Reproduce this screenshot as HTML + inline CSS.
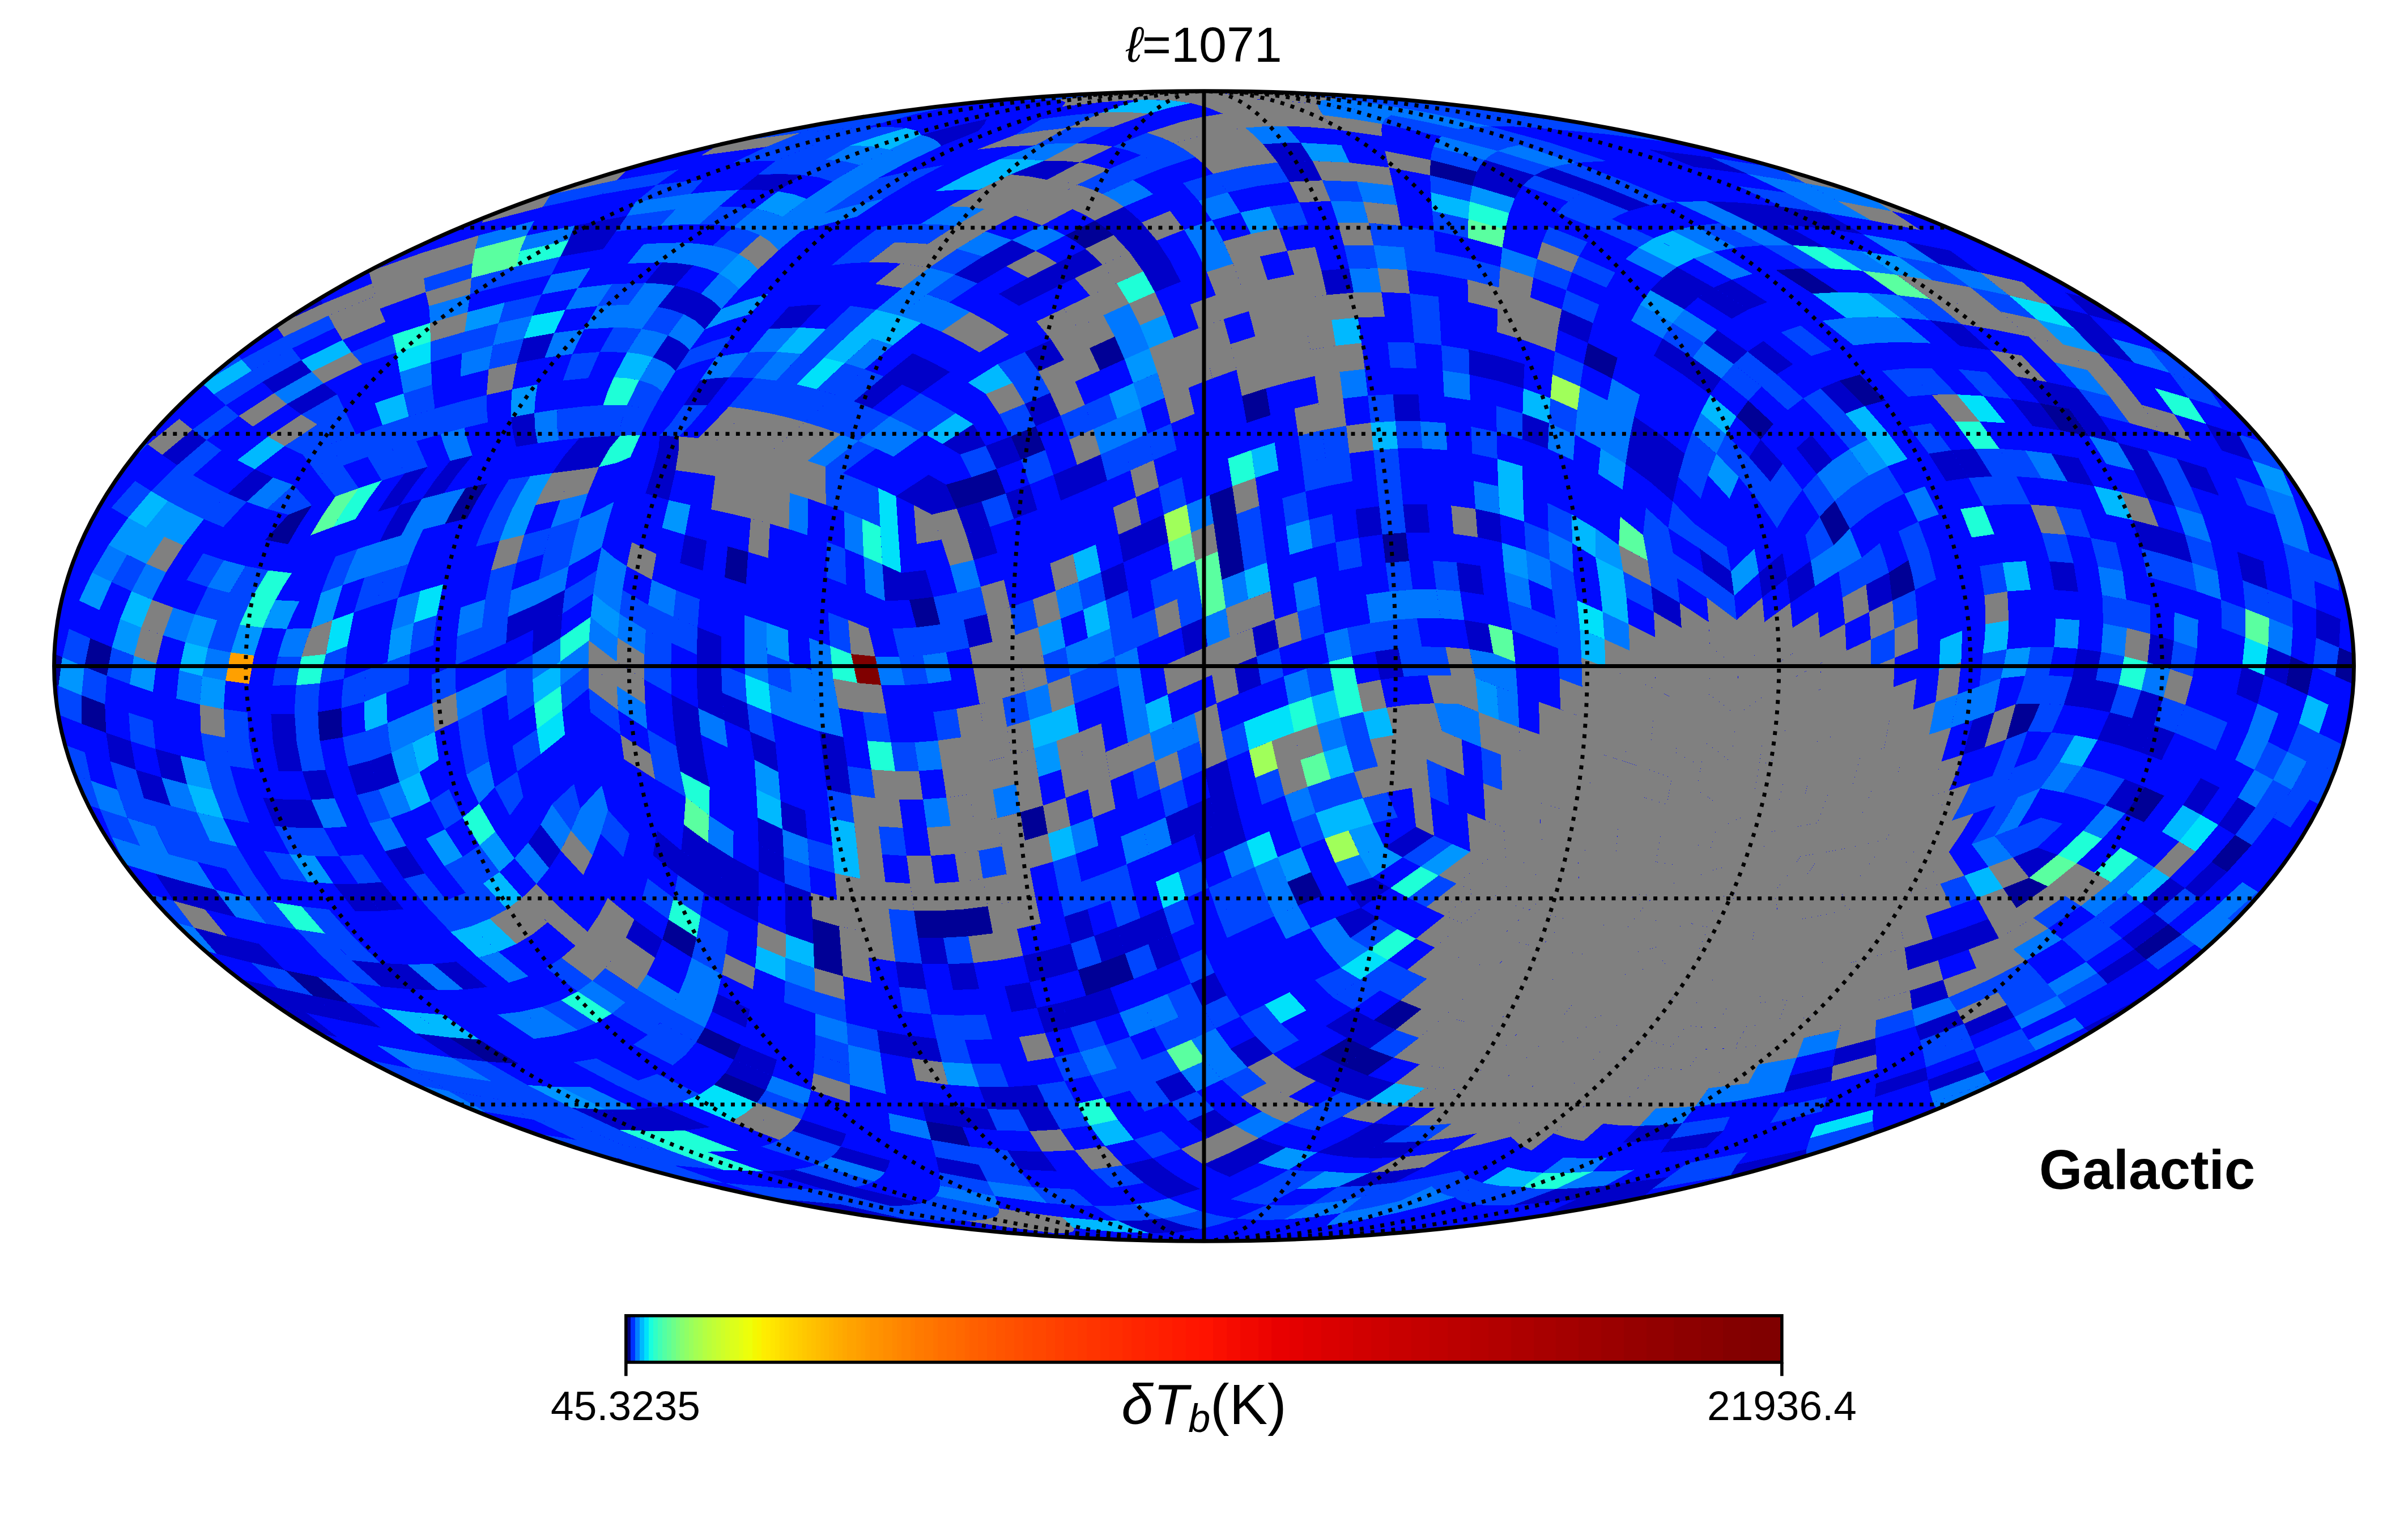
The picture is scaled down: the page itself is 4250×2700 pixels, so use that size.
<!DOCTYPE html><html><head><meta charset="utf-8"><style>html,body{margin:0;padding:0;background:#fff}svg{display:block}</style></head><body>
<svg xmlns="http://www.w3.org/2000/svg" width="4250" height="2700" viewBox="0 0 4250 2700">
<rect width="4250" height="2700" fill="#fff"/>
<defs><clipPath id="ec"><ellipse cx="2125.0" cy="1175.5" rx="2029.5" ry="1014.75"/></clipPath></defs>
<g clip-path="url(#ec)" shape-rendering="crispEdges">
<ellipse cx="2125.0" cy="1175.5" rx="2034.5" ry="1019.75" fill="rgb(0, 10, 255)"/>
<path fill="#0046ff" d="M573.9 1647.6l46.7 47.2l-52.7 -7.5l-45.1 -47.3zM623.1 1652.7l47.9 46.9l-50.4 -4.9l-46.7 -47.2zM580.5 1605l42.7 47.8l-49.3 -5.2l-41.4 -48zM787.9 1588.6l43.4 46.1l-36 10l-43.9 -46.5zM821.7 1575.5l42.6 45.8l-33.1 13.4l-43.4 -46.1zM853 1558.9l41.5 45.5l-30.2 16.9l-42.6 -45.8zM1013 1383.2l11.1 43.7l-16.4 39l-33.5 -46.6zM749.7 1541.3l38.2 47.3l-36.5 9.6l-38.6 -47.5zM816.5 1511.9l36.5 47l-31.3 16.6l-37.4 -47.1zM846.4 1491.6l35.3 47l-28.7 20.3l-36.5 -47zM511.2 1507.4l31.9 49.1l-47 -5.5l-30.8 -49.3zM640.1 1508.1l33.3 48.6l-41.4 2.9l-33.2 -48.8zM913 1361.6l10.7 45.1l-23.8 32.5l-26.7 -49.9zM528.7 1461l27.1 49.5l-44.6 -3.1l-26.4 -49.6zM571.3 1461.4l27.6 49.4l-43.1 -0.3l-27.1 -49.5zM792.3 1392.7l24.2 50.3l-31.2 20.5l-25.5 -49.7zM947.5 1286.9l6.8 44l-41.3 30.6l-8.5 -45.1zM420 1402.1l19.9 50l-45.8 -8l-18.8 -50.1zM668.4 1393.4l21.3 50.2l-37.8 9.3l-21.7 -50zM855.5 1296.5l7.6 46.4l-40 24.2l-8.8 -47.7zM1038.4 1172.1l0.8 42.2l-46.9 39.1l-2.8 -42.9zM405.8 1351.9l14.2 50.2l-44.6 -8.1l-13.2 -50.2zM850.4 1249.8l5.2 46.7l-41.3 22.9l-6.2 -48.1zM940.2 1199.2l2.6 43.8l-44.6 28.3l-3.9 -45.2zM397.3 1301.6l8.5 50.3l-43.6 -8.1l-7.6 -50.3zM439.8 1307.3l9.2 50.4l-43.2 -5.9l-8.5 -50.3zM564.7 1307.7l9.8 50.8l-41 2.7l-9.9 -50.5zM644.8 1290.8l3.4 25.9l5.1 25.8l-38.8 9.8l-5.5 -25.5l-3.9 -25.6zM683.7 1276.1l2.8 26.3l4.5 26.1l-37.7 13.9l-5.1 -25.7l-3.4 -25.9zM939.7 1155.4l0.5 43.8l-45.9 26.9l-1.7 -45.4zM436.5 1257l3.2 50.3l-42.5 -5.7l-2.6 -50.3zM561.4 1256.7l0.9 25.5l2.4 25.5l-41 3l-3.7 -50.7zM804 1173.5l0.6 49.3l-41.6 18.5l-1 -50.8zM564.8 1205.6l-2.5 25.6l-0.9 25.5l-41.3 3.3l0.6 -25.3l2.2 -25.3zM644.9 1183l-1.8 55.6l-40.7 11.1l1.3 -25.9l3 -25.9zM683.9 1168.3l-2 54.5l-38.7 15.8l1.8 -55.6zM723.6 1153.6l-2.3 53.2l-39.5 16l2 -54.5zM850.5 1106.9l-2.8 48.3l-43.6 18.2l2.6 -50.1zM896.4 1088.7l-3.2 46.2l-45.5 20.3l2.8 -48.3zM1053.6 1006.3l-6.5 41l-54.7 35.9l4.7 -42.1l27.6 -16zM532.4 1158.9l-5.6 25.2l-3.9 25.3l-41.8 0.3l3.7 -25.1l5.4 -25zM613 1140l-6.2 57.8l-42 7.7l4.2 -25.5l6.1 -25.5zM771 1085.7l-6.5 53l-40.8 14.9l6.5 -54.5zM902.4 1041.8l-6 47l-45.9 18.2l6.1 -49.3zM423 1102.3l-15.6 49.2l-40.6 -8l16.1 -49.1zM911.7 993.7l-9.3 48.1l-45.8 15.9l10 -50.6zM1012.5 956.9l-8.7 42.2l-52.7 23.9l8.7 -45.2zM445 1053.9l-22 48.4l-40.1 -7.9l22.2 -48.3zM681.7 1007.2l-18.4 60.3l-38.5 13.1l18.4 -61.1zM720.5 995.7l-18.3 59.3l-38.9 12.6l18.4 -60.4zM971.9 931.4l-12.1 46.4l-48.2 15.8l13.7 -49.8zM1023.6 914.4l-11.1 42.6l-52.6 20.9l12.1 -46.4zM473.4 1006.5l-28.4 47.4l-39.8 -7.8l28.4 -47.3zM631 968.8l-14.1 32.1l-12 31.6l-38.1 13.8l11.7 -31.8l13.9 -32.4zM903.7 899.1l-12.1 28.1l-9.9 27.2l-41.8 10l10.8 -28.4l13 -29.1zM936.3 840.1l-17.9 30l-14.7 29l-40 7.8l15.6 -29.9l18.9 -30.8zM390.8 794.6l-50 43.9l-28 -17.7l51.7 -44.3zM550.6 891.8l-41.6 16.6l-38 -10.3l46.7 -42.5zM3892.1 676.7l30.1 43.9l-59.4 -18.2l-33.4 -44.3zM421.5 734.1l-57 42.5l-24.8 -18.6l59 -43zM3860.5 634.5l31.6 42.2l-62.7 -18.7l-35.4 -42.7zM426.4 634.5l-69.1 42.2l-19.5 -18.7l71.7 -42.7zM462.9 674.1l-64.2 40.9l-21.2 -19.2l66.5 -41.6zM581.6 783.9l-47 18.5l-32.2 -15.2l57.9 -38.2zM605.3 821.6l-43.8 16.5l-27 -35.7l47 -18.5zM633.1 861.6l-41.2 14.6l-30.4 -38l43.8 -16.6zM3545.9 521.4l49.2 42.4l-64.7 -14.1l-53 -42.8zM515.6 614.9l-71.5 39.3l-17.6 -19.7l74.4 -40zM531.8 635.6l-68.9 38.5l-18.8 -19.8l71.5 -39.4zM610.9 729.6l-50.7 19.4l-28.4 -17.4l63.1 -35.9zM628.4 766.5l-46.8 17.4l-21.4 -34.9l50.7 -19.4zM648.9 806.2l-43.5 15.5l-23.8 -37.7l46.8 -17.4zM3421.4 465.7l56 41.2l-66.3 -12.3l-60.2 -41.5zM591.3 578.3l-75.8 36.6l-14.7 -20.4l79.1 -37.6zM692.1 791.8l-43.2 14.4l-20.5 -39.6l46.7 -16.3zM714.6 835.4l-40.6 12.6l-25.1 -41.8l43.2 -14.4zM699.4 622.2l-60.3 20.8l-18.8 -21.4l72.7 -30.6zM734.9 778.5l-42.9 13.3l-17 -41.5l46.4 -15.1zM754.8 823.8l-40.2 11.5l-22.5 -43.6l42.9 -13.3zM767.5 721.2l-46.1 13.9l-9.3 -40.6l50.3 -15.7zM777.4 766.3l-42.5 12.2l-13.5 -43.3l46.1 -13.9zM3152.6 339.8l68.3 35.6l-77.1 -10.7l-75.6 -36.2zM831.8 490.8l-80.6 24.7l-3.1 -24.3l85.8 -26.6zM815.4 623.6l-55 15.8l-0.6 -36.3l60.3 -17.5zM819.5 755.2l-42.1 11.1l-9.9 -45l45.8 -12.8zM901.9 500.5l-72.2 18.6l2.1 -28.3l79.4 -20.5zM870.1 609.5l-54.7 14.1l4.7 -38l60 -15.4zM861.1 745.2l-41.6 9.9l-6.2 -46.6l45.4 -11.4l0.3 23.7zM3136.9 296.1l49.6 27.2l-102.2 -16.3l-65.2 -29.3zM1062.3 342.6l-104.2 22.6l14 -22.2l116 -25zM973 484.8l-71.1 15.7l9.3 -30.3l78.1 -17.3zM939.4 557.1l-59.4 13.1l11.1 -36.3l64.9 -14.3zM912 640.7l-49.6 11.1l7.7 -42.3l54.3 -12.1zM1158.8 326.3l-96.5 16.4l25.7 -24.6l110.2 -19.2zM2931.9 234.6l11.8 8.3l20.1 10.1l-131.9 -16.5l-64.3 -22zM1412.2 234.6l-139.4 18.4l13.1 -8.9l8.1 -7.6l170.5 -22zM1218.9 341.9l-96.5 14.1l36.4 -29.7l43.4 -5.4l39.1 -3.3zM1164.7 398.8l-77.9 9.9l19.8 -27.9l86.1 -11.7zM1527.3 224.8l-53.1 3.6l-61.9 6.2l52.3 -20.1l81.4 -8.2l72.7 -5.7zM2946.3 224.8l-9.4 1.5l-5.3 2.1l-1.5 2.8l1.8 3.4l-164.3 -20.1l-19.3 -8.2l-4 -3.2l1 -2.5zM1443.5 252.8l-41.6 2l-49.1 4.3l59.4 -24.5l61.9 -6.1l53.1 -3.7zM1369.1 283.8l-34 0.4l-40.4 2.7l58.1 -27.8l49.1 -4.4l41.6 -2zM1109.5 537.6l-54.8 2.3l25.8 -38.6l57.8 -1.9zM1038.2 667.2l-44.7 4.5l16.6 -47l48.5 -3.8zM1022.9 773.2l-36.7 3.9l-3.4 -27.5l0.9 -26.9l40.3 -4.8l-3 27.1zM1500.9 256.6l-24.3 -3.2l-33 -0.6l83.7 -28l42 -0.9l29.8 2l-51 14.9zM1458.1 281.5l-41 -0.3l-48 2.7l74.4 -31.1l33.1 0.6l24.3 3.2zM1415.1 308.6l-35.8 -1.6l-41.3 1.1l31.1 -24.3l48 -2.6l41 0.2zM1294.4 400.3l-28.4 -3.5l-31.2 -1.3l34.4 -31.1l33.6 0.8l30 3.1zM1106.5 621.8l-47.8 -0.8l24.1 -43l25.2 0.5l24.6 2.1zM1059 770.3l-36.2 2.8l-1.8 -28.1l3 -27.2l40.6 -3l-5.6 26.9l-1 14.1zM1469 320.5l-24 -7.5l-30 -4.4l43.1 -27.2l33.5 3.4l26.1 6.6zM1304.3 448.5l-21.7 -8.8l-24.6 -6.1l36.4 -33.3l25.2 6l21.8 8.7zM1178.8 591.7l-22.5 -6.9l-23.7 -4.2l28.3 -39.1l23.9 5.1l22.2 7.8zM1094.6 768.6l-35.6 1.7l-1 -14.5l1 -14.1l5.6 -26.9l41.8 0.4l-10.4 31.8l-1.7 14.2zM1148.7 729.7l-4.7 -4.1l-10.5 -5.2l-10.9 -3l-16.2 -2.2l21.8 -44.4l21.9 7.2l10.2 5.8l9.3 8zM1129.7 768.1l-35.1 0.6l-0.3 -7.4l1.8 -14.2l10.3 -31.8l16.2 2.2l10.9 3l10.5 5.2l4.7 4.1zM2141.2 306.6l55.4 -12.4l23.8 33.9l-53.2 11.3zM1791.6 238l46.6 -28l55 -7.2l51.2 -4.2l-59.9 27.1l-45.1 4.8zM2087.6 323l53.6 -16.4l25.9 32.8l-51.6 14.9zM2013.7 273.8l58.1 -21.2l20.1 11.7l18 13l-55.7 18.5l-19.2 -11.8zM1963.9 258.8l60.2 -24.5l25.3 8.3l22.4 10.1l-58 21.1l-23.6 -8.5zM1827 256.4l57.5 -30.7l41.3 -2l37 0.9l-60.8 27.9l-35.9 0.7zM1957.3 298.5l56.5 -24.7l21.2 10.3l19.3 11.7l-54.4 21.9l-20.3 -10.4zM1901.6 325.9l55.7 -27.4l22.3 8.7l20.3 10.4l-53.7 24.6l-21.3 -9zM1500.5 344.9l49 -30.3l59.5 -13.3l55.9 -10l-54.9 29.1l-53.2 10.7zM1455.2 376.3l45.3 -31.4l56.3 -13.8l53.1 -10.6l-50.5 30.4l-50.6 11.1zM1577.8 428.2l47 -32.9l32 0.7l29.6 2.6l-49.2 32l-28.6 -2zM1508.9 433.5l44 -33.3l37.4 -3.6l34.5 -1.3l-47 32.9l-33.2 1.6zM1914.7 714.5l42.8 -19.2l14.1 43.4l-42.1 18.8zM1640.2 472.4l48.9 -33.3l45.8 13.4l-50.1 32zM1467.6 468.1l41.3 -34.6l35.7 -3.7l33.2 -1.6l-44.6 34.6l-31.6 1.6zM1871.6 733.6l43 -19.1l14.9 43l-42.2 18.5zM1635.8 519.2l49 -34.8l40.6 15.7l-50.1 33.3zM1786.9 675.9l46 -20.2l20.7 37.7l-44.5 19.3zM1761 642.6l47.8 -21.4l24.1 34.5l-46 20.2zM1802 811.4l42.8 -17.3l14.5 43.8l-41.9 17zM1763.9 731.2l45.2 -18.5l19.1 39.6l-43.9 17.8zM1457.7 580.7l43.2 -41l45.3 6.8l-45.9 40.9zM1414.4 624.5l43.3 -43.8l42.5 6.7l-46.2 43.9zM1192.4 654.5l24.8 -36.9l39.8 -15.4l36.2 -10.5l-29 38.6l-33.8 9.3zM1694.4 802l45.4 -15.2l18.9 40.9l-44 14.7zM1601.7 749.9l54 -38.9l31.1 18.2l-54.2 36.9zM1570.6 734.8l53.7 -40.7l31.4 16.9l-54 38.9zM1474.6 696.8l51.4 -45.3l33.7 12.7l-52.5 44zM1441.1 686.8l49.9 -46.4l35 11.1l-51.4 45.3zM1369.8 671.6l44.7 -47.1l39.5 6.8l-47.7 47zM1287.1 665.9l34.9 -44.2l49 -0.9l-40.5 46.3zM1483.8 766l55.3 -45.1l31.4 14l-55.5 43.3zM1452.4 754.9l54.8 -46.7l31.9 12.7l-55.2 45.1zM1420.6 745l54 -48.2l32.6 11.4l-54.8 46.7zM1388.2 736.3l52.8 -49.4l33.5 10l-54 48.1zM1355.3 728.7l51 -50.4l34.8 8.5l-52.8 49.4zM1321.4 722.5l48.4 -50.9l36.5 6.7l-51 50.4zM1286.2 717.7l44.4 -50.6l39.2 4.5l-48.4 50.9zM1456.6 823.5l58.4 -45.4l31 13.3l-58.2 43.6zM1164.3 768.6l19.5 -21.6l22.8 -31.8l42.2 -0.5l-29 34l-21.5 21.6zM1726.9 1501.3l41.3 -8l8.3 49.3l-41.6 7.9zM1659.4 1101.8l41.4 -7.9l10.2 49.1l-41 8zM1647.5 1053.4l42 -7.8l11.4 48.3l-41.4 7.9zM1647.3 1256.5l41 -5.7l8.1 50.3l-40.9 5.7zM1617.6 1107.1l41.8 -5.3l10.6 49.2l-41.4 5.4zM1665 1654.8l44.1 -2.5l9.2 46.9l-45 2.3zM1586.9 1159.1l41.8 -2.6l9.8 49.8l-41.5 2.9zM1575.3 1109.5l42.3 -2.3l11 49.3l-41.8 2.6zM1572.5 1310.3l41.6 -0.2l7.6 50.4l-41.7 0.4zM1519 847.6l31.2 13.6l3.3 68.2l-31.9 -13.8zM1574.3 1651l45.7 3.4l7.3 46.3l-46.9 -3.9zM1568.4 1604.2l44.7 3.1l6.9 47.2l-45.7 -3.4zM1550.9 1458.4l42.7 2.6l6.5 49.4l-43.3 -2.7zM1522.4 1256.3l42 3.3l8.2 50.7l-42 -3zM1487.8 835.1l31.2 12.6l2.6 67.9l-31.9 -12.8zM1495.6 1352l42.3 6.1l6.7 50.5l-42.6 -6zM1461.5 1080.3l35.5 13.7l5.1 60.1l-37 -14.4zM1458.5 956l32.9 12.4l2.2 63.7l-34.1 -13zM1456.6 823.5l31.2 11.5l2 67.7l-31.9 -11.9zM1459.2 1393.1l42.8 9.5l5.8 50l-43.3 -9.3zM1425 1479.8l44.1 12.8l4.3 48.4l-45 -12.9zM1383.3 1511.7l45 16.5l2.9 47.1l-46.2 -16.6zM1353.7 1153.3l39.3 14.6l4.4 54.5l-40.9 -15.9zM1318.3 1241.1l43 17.6l7.1 51.3l-44.7 -18.9zM1272.8 1173.3l42.2 17l3.4 50.8l-43.8 -18.5zM1188.3 1088.6l42.9 18.2l-1.6 48.3l-44.3 -20.3zM1193.3 1041.6l41.5 15.9l-3.6 49.2l-42.9 -18.1zM1148.3 1330.8l52.5 30.6l9.6 45.1l-54.2 -31.6zM1142.5 1286.9l50.9 29.5l7.4 45.1l-52.5 -30.6zM1137.5 1155.3l46.7 25.2l1 45.4l-48 -26.8zM1139.8 1111.5l45.5 23.4l-1.1 45.7l-46.7 -25.2zM1144.1 1067.4l44.2 21.2l-3 46.2l-45.5 -23.3zM1098.8 1041.1l45.3 26.3l-4.3 44.1l-46.4 -28.3zM1039.2 1214.3l51.7 39l4.3 43.1l-53.3 -39.6zM2052.4 2150.2l33.2 -5.8l30.5 -7.8l31 8.1l34.9 5.7l-30.1 10.2l-33.3 8.3l-35.6 -8.3zM1926.1 2064.2l56.1 -7.8l36.9 31l-28.6 5.1l-30.1 3.7zM1849.8 1954.8l49.9 -6.8l23.7 38.3l-51.7 6.9zM1830.6 1914.7l48.3 -6.8l20.8 40.1l-49.9 6.8zM1930.5 2128.2l36.9 -0.5l34.2 -2.6l23.9 13.1l26.9 11.9l-36.9 3.5l-41.9 0.8l-22.7 -12.7zM1822.2 2094.9l72.9 3.9l35.4 29.4l-40 -1.5l-42.7 -3.5zM1742.9 1957.2l54.7 0.7l19.6 38.2l-57.7 -1.4zM1714.8 1877.4l50.3 -0.5l15.3 41.3l-52.3 -0.1zM1692 1791.8l47.2 -1.4l12.2 43.8l-48.6 1zM1727.4 2055.3l71.6 8.5l23.2 31.1l-79.9 -10.3zM1712.6 2023.3l65.5 7l20.8 33.5l-71.5 -8.5zM1652.7 1832.9l50.1 2.3l12 42.2l-52.1 -3.1zM1643.5 1790.1l48.5 1.7l10.8 43.5l-50.1 -2.4zM1572.9 2128.4l64.2 13.5l68.6 12.7l-47.7 -0.8l-63.2 -3.4l-110.5 -25l48.7 2.5zM1626.2 2123.3l62.7 12.8l65.8 11.8l-17.6 4.7l-31.4 2l-68.7 -12.6l-64.2 -13.5l30.9 -1.6zM1651.3 2110.7l112.1 21.6l-1.1 8.7l-2.8 3.7l-4.8 3.2l-65.8 -11.8l-62.7 -12.8l15.4 -5.5zM1657.6 2068.7l84.7 15.9l13.4 26l-96.6 -18.6zM1643.5 2011.5l69.1 11.8l14.8 32l-75.8 -13.6zM1586.9 1741.6l48.2 4.4l8.4 44.1l-49.8 -5.1zM1377.3 2096.5l107.1 29l-119.1 -10.6l-86.3 -27.2zM1454.7 2099.1l118.2 29.4l-39.9 -0.5l-48.7 -2.5l-107.1 -29zM1440.7 2055.5l102.5 29.3l-14.7 5.9l-19.3 4.4l-107.7 -31.1l21.4 -3.6zM1494 1805l54.1 12.8l5.3 39.6l-56.7 -13.9zM1181.4 2030.1l94.8 34.4l-85.7 -7.7l-86.6 -33.9zM1375.5 2011.6l91.5 30.1l-11.7 7.5l-14.6 6.2l-96.7 -32l17 -5.3zM1398.2 1995.4l85.5 28l-7.3 9.7l-9.4 8.7l-91.5 -30.1l12.3 -7.6zM1438.1 1861.1l60.7 18.8l1.4 34.3l-64.4 -20.3zM1439.1 1825.9l57.6 17.5l2.2 36.4l-60.8 -18.8zM1438.5 1749.3l52.5 15.3l3 40.3l-54.8 -16.3zM1092.5 1993.5l88.9 36.5l-77.5 -7.2l-83 -36.2zM1351.5 1924l73.2 27.2l-10.7 23.9l-78 -29zM1385.6 1730.6l52.9 18.8l0.6 39.3l-55.2 -19.8zM1009.2 1955.1l83.2 38.4l-71.6 -6.9l-78.8 -38.3zM931.4 1915l77.8 40.1l-67.2 -6.8l-74.3 -40.1zM1126.5 1906.8l78.5 37.1l-37.6 8.8l-80.1 -38.2zM1159.7 1895.3l76 35.7l-30.7 12.9l-78.5 -37.1zM858.9 1873.5l72.5 41.6l-63.8 -6.8l-69.6 -41.7zM1052.7 1867.9l73.8 38.9l-39.2 7.7l-75 -39.9zM1143.4 1826.1l66.8 35.1l-22.8 18.8l-69.5 -36.4zM1164.9 1805.2l64 33.8l-18.7 22.2l-66.8 -35.1zM1182.9 1780.9l61.2 32.5l-15.2 25.5l-64 -33.8zM1229.5 1654.4l51.2 28.6l-6.4 36.5l-53.4 -29.3zM1236.5 1616.1l49.2 28.1l-5 38.8l-51.2 -28.6zM1103.6 1769l61.3 36.1l-21.6 21l-63.6 -37.3zM1124.1 1745.9l58.8 35l-18 24.2l-61.3 -36.1zM1196.2 1544.1l45.9 31.2l-5.7 40.8l-47.6 -31.4zM990.2 1764.9l61.8 40.3l-31.9 12.8l-63.3 -41.2zM1068.2 1708.6l55.9 37.4l-20.5 23.1l-58 -38.3zM1143.2 1550.1l45.6 34.6l-8.9 37.9l-47.6 -34.7zM991.1 1690.4l54.5 40.3l-25.9 18.8l-56.2 -41.1zM620.6 1694.8l51.9 46.3l-54.4 -7.3l-50.2 -46.5zM1073.1 1429.5l38.1 41.8l-11 41.1l-39.9 -41.1zM306.4 1589.8l36.1 47.2l-58 -16.3l-33.4 -47zM4011.7 1589.8l-54.3 47.2l-25.4 -16.3l52.6 -47zM3713.3 1362.9l-33.5 46l-38.3 -10.2l33.4 -46zM3750.2 1375.1l-34 46.2l-36.4 -12.4l33.4 -46zM482.8 1591.9l40 48.1l-52.7 -9.9l-38.2 -48.1zM4012 1442.9l-37.8 48.5l-29.2 -17.8l36.2 -48.4zM447.9 1543.1l34.8 48.8l-50.9 -10l-33.2 -48.8zM4044.3 1393.7l-32.4 49.2l-30.7 -17.7l30.7 -49.1zM4076.3 1411l-34 49.3l-30.3 -17.4l32.4 -49.2zM224.8 1443.5l22.5 49.4l-50.6 -16l-20.5 -49.3zM322.2 1471.8l26.4 49.4l-50.5 -13.5l-24.5 -49.4zM370.5 1483.7l28.1 49.4l-50.1 -11.9l-26.4 -49.4zM418.3 1493.8l29.6 49.3l-49.3 -10l-28.1 -49.4zM3779.4 1218.2l-16.4 49.1l-39.2 -10.2l15.7 -49.1zM3857 1244l-18.3 49.2l-37.4 -13.8l17.3 -49.1zM3894.7 1259l-19.5 49.2l-36.4 -15l18.3 -49.2zM3931.5 1275l-20.9 49.3l-35.4 -16.1l19.5 -49.2zM4037.4 1326.5l-25.4 49.6l-33 -17.6l23.8 -49.5zM4104.9 1361.2l-28.6 49.8l-31.9 -17.3l27 -49.7zM160.6 1377.9l15.7 49.8l-48.3 -16.7l-13.6 -49.8zM4138.1 1377.9l-30.1 49.8l-31.7 -16.7l28.6 -49.8zM254.1 1408.5l19.5 49.8l-48.7 -14.8l-17.6 -49.8zM301 1422l21.2 49.8l-48.6 -13.5l-19.5 -49.8zM347.7 1433.9l22.8 49.8l-48.3 -11.9l-21.3 -49.8zM4093.1 1293.9l-21.8 50.1l-33.9 -17.5l20.1 -50zM4128.2 1311.1l-23.4 50.1l-33.5 -17.2l21.8 -50.1zM149.9 1327.7l10.7 50.1l-46.2 -16.6l-8.8 -50.1zM4163 1327.7l-24.9 50.1l-33.2 -16.6l23.3 -50.1zM239.8 1358.4l14.3 50.1l-46.8 -14.8l-12.6 -50.1zM3877.5 1144.2l-7.5 50.1l-39.6 -13.7l6.3 -50zM3795.3 1068.3l0.1 50.3l-41.5 -10.3l-1.1 -50.2zM143.9 1226.9l0.4 50.4l-42.5 -16.6l1.4 -50.4zM4197.7 1226.9l-14.9 50.4l-36.3 -16.6l13.3 -50.4zM269.3 1271.2l5.1 50.4l-43.7 -13.6l-3.7 -50.4zM3962.8 1074.2l-0.2 50.4l-41.2 -15.8l-1.3 -50.5zM4128.4 1142.8l-6.9 50.4l-38.8 -17.4l5.2 -50.4zM188.6 1192.5l-3.4 50.3l-41.3 -15.8l5 -50.4zM3824.2 979.6l9.3 50.3l-43.6 -12l-10.6 -50.3zM3869.1 993.2l7.9 50.3l-43.5 -13.5l-9.3 -50.3zM4002.1 1040.5l3 50.3l-42.3 -16.6l-4.6 -50.3zM4045.6 1057.6l1.2 50.3l-41.7 -17.1l-2.9 -50.4zM159.3 1126.4l-10.4 50.2l-39.1 -16.7l12.1 -50.2zM236.4 1157.3l-7.4 50.1l-40.4 -14.9l8.9 -50.1zM3902.7 957.8l11.1 50.2l-44.7 -14.9l-12.8 -50.1zM4084.5 1025l3.9 50l-42.8 -17.4l-5.8 -50.1zM4076.3 975.4l8.2 49.6l-44.7 -17.5l-10.1 -49.7zM4122.3 993l6.3 49.5l-44.1 -17.5l-8.2 -49.6zM129.5 993l-24.9 49.5l-34.2 -17.5l26.6 -49.6zM3866.5 858.6l20.4 49.4l-48.2 -14.8l-22.2 -49.4zM258.1 994.8l-25.9 48.6l-35.2 -16.1l27.3 -48.7zM405.1 1046.1l-22.2 48.3l-39.2 -10.2l22.8 -48.3zM3841.8 809.8l24.7 48.8l-50 -14.8l-26.7 -48.9zM3997.1 860.2l18.2 48.5l-49.2 -17.4l-20.4 -48.6zM395.3 988.6l-28.8 47.3l-37.3 -12.1l29.5 -47.4zM266.8 866.6l-40.4 47l-30 -17.7l42.1 -47.2zM3723.5 699.4l35.3 47.3l-53.8 -13.5l-37.5 -47.4zM4006.1 784.3l22.5 46.3l-53.3 -18l-25.1 -46.6zM260.9 784.3l-49.7 46.3l-26.5 -18l51.7 -46.6zM340.8 838.5l-44.5 45.5l-29.6 -17.4l46.1 -45.8zM370.4 855.4l-43.1 45.2l-31 -16.6l44.5 -45.5zM401.8 871.2l-42 44.9l-32.6 -15.5l43.2 -45.2zM435.3 885.6l-41.2 44.6l-34.3 -14.1l42.1 -44.9zM3045.9 766.3l41.1 40.6l-18.2 34.7l-39.6 -40.7zM3135.5 660.7l47.1 42.2l-27.6 20.8l-45.7 -41.6zM2973.5 800.8l41 37.8l-12.9 41.1l-39.5 -38.2zM2986.6 763.1l42.6 37.8l-14.7 37.8l-41 -37.9zM3059.9 642.6l49.3 39.6l-23.5 24.7l-47.7 -38.9zM3084.6 620.4l50.9 40.3l-26.2 21.4l-49.4 -39.6zM3178 574.4l54.4 42.7l-35.5 11.1l-53.5 -41.9zM3407 527.9l55 44.3l-55.5 -7.2l-57.1 -44.1zM2952.2 570.1l55.3 35l-20 26.3l-53.2 -34zM3163.4 432.8l68.4 41.3l-51.2 -0.5l-69.3 -40.7zM3036.9 393.8l74.4 39.2l-46.3 3.8l-74 -38.2zM2744.3 620.3l50.8 22.2l-6.3 39.5l-48.9 -21.4zM2764.5 512.1l57.8 25.5l-10.7 32.5l-55.2 -24.2zM2786.8 452.4l63.9 28.5l-15.5 26.8l-60.7 -26.9zM2845 386.7l74.1 33.5l-27.3 16.7l-70.7 -31.8zM2713.1 457.1l61.4 23.8l-9.9 31.2l-58.3 -22.3zM2733.2 399.8l68.8 27.2l-15.2 25.4l-65 -25.4zM2767.8 355.7l77.2 31l-23.9 18.3l-73 -29.1l9.2 -10.6zM2793.9 339.5l81.1 32.8l-15.8 6.7l-14.1 7.7l-77.2 -31l12.1 -8.6zM2871.8 320.7l85.4 35.6l-45.2 5.8l-84 -34.4l20.6 -4.1zM2708.9 309.3l84.9 30.2l-13.9 7.5l-12.1 8.7l-79.7 -28.1l9.4 -9.7zM2780.1 287.2l91.7 33.5l-23.2 2.9l-20.6 4.1l-89.3 -32l19.1 -4.9zM2590.3 455.7l57.7 15.2l-2.6 36.5l-54.9 -14zM2643.9 266.4l94.8 29.3l-16.2 6.2l-13.6 7.5l-88.3 -27.1l10.2 -8.6zM2737 252.2l98.5 32l-55.4 3l-99 -31.1l25.4 -2.8zM2544 609.1l48.4 7.7l1.1 44.1l-47.1 -7.1zM2533.5 444.2l56.7 11.5l0.2 37.7l-54.1 -10.3zM2527.8 372.1l63.8 14.4l-1.1 33.5l-59.9 -12.9zM2524 309.2l74.5 18.3l-4.5 28.1l-68.6 -16.3zM2530 258.9l90.6 23.3l-7.9 9.8l-6 10.9l-81.9 -20.7l1.9 -12.2zM2573.6 227.9l107.6 28.3l-20.7 4.3l-16.6 5.9l-100.1 -26l12.3 -7.1zM2629.2 222.8l107.9 29.4l-30.5 1.1l-25.4 2.8l-107.6 -28.2l24 -3.6zM2492.3 560.6l49.2 5.1l2.5 43.4l-47.8 -4.4zM2488 517.8l50.9 5.8l2.6 42.1l-49.2 -5.1zM2478.1 436.5l55.4 7.7l2.8 38.9l-53 -6.7zM2472.2 398.3l58.4 8.9l2.9 37l-55.5 -7.7zM2455.4 203.2l60.6 11.8l57.6 12.9l-17.5 5.4l-12.3 7.1l-104.3 -21.7l5 -8.7zM2617.2 200.8l99.5 25l-47.7 -2.5l-39.8 -0.6l-58.5 -13.5l-62.5 -12.6l47.5 0.7zM2767.6 214.5l64.3 21.9l-115.2 -10.5l-99.5 -25zM2449.2 603.5l47 1.2l3.7 45.2l-45.9 -0.7zM2415.7 393.5l56.6 4.8l5.8 38.2l-53.9 -3.8zM2532.8 182.1l84.4 18.7l-61.5 -3.4l-47.5 -0.8l-67.9 -11.6l-75.7 -10.4l70.2 1.8zM2745.3 200.6l-1.1 2.5l4 3.2l19.4 8.1l-150.5 -13.6l-84.3 -18.7l106.6 8.3zM1618.7 200.6l-72.7 5.7l-81.5 8.1l17.5 -7.8l4.6 -3.1l1 -2.7l108.2 -10.4l108.6 -8.3zM2371.9 432.5l52.3 0.1l7.5 40.7l-50.4 0.5zM2333.7 318.3l61 2.2l11.2 35.6l-57.5 -1.5zM2566.6 176.2l-44.6 0.7l-1.4 0.9l1.8 1.2l10.4 3.1l-97.9 -5.7l-70.3 -1.8l-89.7 -8.6l-89.7 -4.6l7.9 -0.4l174 4.3zM1860.9 176.2l-60.6 0.7l-95.9 5.2l19.8 -5.7l-6.4 -1.4l-22.8 -0.4l120.6 -6.6l96.5 -3.8l185.8 -3.2l-115.2 4.3l-53.6 4zM2240.3 364.4l53 -6.9l15 38.4l-51.1 6.8zM2196.6 294.2l58.1 -7.8l21 34.5l-55.3 7.2zM2405.4 1408.5l42.7 -10.2l18.8 44.3l-43.8 10.3zM2376.7 1315.1l41.3 -10.2l14 47.3l-41.9 10.2zM2365 1266.8l40.9 -10.2l12.1 48.3l-41.3 10.2zM2310.3 917.1l40.9 -10.1l6 50l-40.7 10.2zM2297.9 817.9l41.7 -10l5.8 49.3l-41.3 10.1zM2291.4 769.1l42.1 -9.9l6 48.7l-41.6 10zM2348.7 1374.7l41.4 -12.2l15.3 46l-42 12.4zM2305.4 1180.1l40.2 -12.1l9.1 49.7l-40.3 12.1zM2289.8 1079.8l40.1 -12l7.5 50.2l-40.1 12.1zM2263.2 879.2l40.9 -11.9l6.2 49.8l-40.6 11.9zM2307.8 1388.6l40.9 -13.9l14.7 46.1l-41.5 14.1zM2280.9 1450.4l41 -15.5l16.1 44.9l-41.7 15.8zM2217.8 1158.5l39.6 -14.9l8.1 50.1l-39.6 14.9zM2189.2 957.3l40.1 -14.8l6.7 50.1l-39.9 14.9zM2182.3 907.5l40.4 -14.8l6.7 49.8l-40.1 14.8zM2215.3 1372.5l39.9 -16.2l12.1 47.6l-40.2 16.4zM2155.8 1291.2l39.4 -16.8l9.5 49.4l-39.5 16.8zM2077.5 1057.1l39.4 -17.2l7.3 50.4l-39.3 17.1zM2070 1007l39.6 -17.2l7.3 50.1l-39.4 17.2zM2045.4 859.7l40.5 -17.5l8.4 48.6l-40.2 17.4zM2025.3 765.4l41.4 -17.9l10.1 46.8l-40.9 17.7zM2077.4 1326l39.2 -17.5l9.3 49.5l-39.3 17.6zM2030.5 1024.5l39.5 -17.5l7.5 50.1l-39.4 17.4zM1983.9 783.7l41.4 -18.3l10.5 46.6l-40.8 18zM2079.9 1538.4l39.9 -18l13.6 46.3l-40.2 18.3zM2047.4 1393.1l39.3 -17.6l10 49.1l-39.4 17.7zM1998.8 1091.9l39.3 -17.4l7.5 50.3l-39.2 17.4zM1942.5 802.1l41.4 -18.4l11.1 46.4l-40.9 18zM1999.1 1360.6l39.2 -17.2l9.1 49.7l-39.3 17.3zM1959.4 1109.1l39.4 -17.2l7.6 50.3l-39.2 17.1zM1951.4 1059.2l39.5 -17.3l7.9 50l-39.4 17.2zM1927.9 1176l39.3 -16.7l7.7 50.4l-39.2 16.7zM1903.1 1026.7l39.9 -16.9l8.4 49.5l-39.6 16.7zM1959.8 1589.3l40.2 -16.1l12.6 47l-40.5 16.3zM1948.7 1541.2l39.9 -16l11.4 47.9l-40.2 16.2zM1888.5 1191.9l39.4 -15.9l7.8 50.4l-39.4 15.8zM1908.5 1556.1l40.2 -14.9l11.1 48.1l-40.5 15zM1840.8 1156.7l39.7 -14.9l8 50.1l-39.5 14.9zM1867.9 1569.6l40.6 -13.5l10.8 48.2l-40.9 13.5zM1858.3 1520.7l40.3 -13.5l9.9 48.9l-40.6 13.5zM1782.5 1071.6l40.4 -13.7l9.2 49.1l-40.1 13.7zM1732.1 885.1l42.9 -14.4l14.2 44.9l-42 14.1zM1769.2 1232.5l40 -12.1l8 50.3l-40 12.1zM1689.4 1045.6l41.5 -10.2l10.9 48.3l-41 10.2zM2568.4 2113l-14.1 -3.4l-11.5 -4.5l-9.1 -5.4l-7 -6.3l50.8 -27.8l7 6.7l8.7 5.9l22.9 9zM2599 2125.3l-19.8 -4.8l-6.4 -3.5l-4.3 -4l47.6 -25.8l31.1 5.5l39.9 1.9l-42.3 15.8zM2671 2126.5l-41.6 0.9l-30.4 -2.1l45.8 -14.9l42.3 -15.7l25.1 3.2l33.2 0.6zM3041.9 1995.3l-93.7 14.1l21 -27.3l84 -11.7zM3065.8 2055.2l-121 22l33.4 -24.7l105.7 -19.2zM3054.6 2073.6l-138.8 24.7l29 -21.2l121 -21.9zM3215.1 1961.7l-90.5 20.2l17.8 -28.7l82.4 -17.6zM1190.5 2056.8l88.5 31l-113.6 -14.1l-72.6 -29.3zM3202.8 2056.8l-145.9 31l-3.3 -6.5l1 -7.6l135.1 -29.3l4.7 6.7zM3307.7 1996.7l-119.3 31.3l6.2 -19.6l110.3 -29.6zM1017.1 2011.6l75.7 32.8l-106 -16.4l-63.4 -31.3zM3317.3 2011.6l-127.6 32.8l-1.8 -7.8l0.6 -8.6l119.3 -31.3l3.7 7.9zM1103.9 2022.9l86.6 33.9l-97.7 -12.4l-75.7 -32.8zM3380.1 1811.3l-70.1 21l0.8 -31.6l64 -19.2zM1020.8 1986.6l83 36.3l-86.8 -11.3l-75.2 -35.6zM3476.4 1829.2l-81.5 31l-6.1 -24.2l77.5 -29.5zM3485.2 1851.2l-86.1 32.4l-4.2 -23.4l81.6 -31zM868.9 1938.2l73 37.9l-84.7 -13.9l-66.1 -37.1zM942 1948.3l78.8 38.3l-78.9 -10.6l-73 -37.8zM3526.4 1751.5l-72.4 32l-15.1 -23.1l69.8 -30.6zM3580.4 1835.3l-86.9 36.8l-8.3 -20.9l82.9 -35.8zM3593.4 1853.9l-91.1 37.8l-8.8 -19.6l86.9 -36.8zM726.9 1885.8l64.3 39.3l-81.2 -15.6l-58.3 -38.7zM3625.9 1885.8l-98.7 39.3l-14.1 -15.6l95.1 -38.7zM799.2 1898.3l69.7 39.8l-77.7 -13.1l-64.3 -39.3zM867.7 1908.2l74.3 40.1l-73.1 -10.2l-69.7 -39.8zM3489.7 1584.9l-45.6 16.2l-19.5 -41.5l42.4 -14.3zM3595.9 1715.9l-69.5 35.6l-17.7 -21.7l67.1 -34.5zM3614 1736.6l-72.2 36.6l-15.4 -21.7l69.5 -35.6zM3630.7 1757l-75.3 37.6l-13.6 -21.4l72.2 -36.6zM3720 1736.2l-73.5 40.8l-15.8 -19.9l70.7 -40.1zM3672.7 1598.8l-57.6 39.6l-26.7 -18.5l56.4 -38.9zM3722.6 1636.5l-61.1 40.9l-22.2 -19.7l59.2 -40.3zM3745.3 1655.7l-63.3 41.6l-20.5 -19.9l61.1 -40.9zM3595.7 1495.8l-43.1 17.5l-32.1 -38.1l40.7 -15.6zM3778.8 1593.5l-56.1 43l-24.1 -19.1l54.3 -42.5zM3873.5 1666.7l-64.5 44.7l-21 -17.9l62.4 -44.3zM503 1712.2l50.1 45.4l-62.8 -13.8l-47 -45.3zM618.1 1733.7l55.1 45.4l-59 -9.6l-52.8 -45.5zM3640.5 1453.4l-44.9 42.4l-34.5 -36.2l40.9 -16.6zM3881.7 1585.6l-54.6 45.4l-23.7 -18.7l52.7 -45zM3561.7 1406.7l-19.3 34l-22 34.5l-40.5 14.6l22.7 -34.4l19.9 -33.9zM3516.4 1369.3l-15.3 32.8l-17.7 33.3l-38.9 12.9l18.1 -33.1l15.5 -32.6zM3554.7 1355.1l-14.9 33l-17.3 33.5l-39.1 13.8l17.7 -33.3l15.3 -32.8zM3593.1 1340l-14.5 33.1l-16.8 33.6l-39.3 14.8l17.3 -33.4l15 -33zM3634.8 1344.9l-33.7 46l-39.4 15.8l16.8 -33.6l14.6 -33.1zM3578.4 1290.5l-10.9 32.1l-12.8 32.5l-38.3 14.2l13.1 -32.3l11.1 -31.9zM3662.2 1297.6l-27.5 47.4l-41.7 -4.9l28 -47.6zM3642.5 1243.9l-21.5 48.6l-42.6 -2l11.9 -24.3l10.2 -24.6zM3616.1 1191.9l-15.6 49.6l-42.9 1.1l9 -24.9l7.3 -25.2zM3657.8 1194.5l-15.3 49.3l-42 -2.3l15.6 -49.6zM3541.6 1145.8l-4.4 25.5l-6.1 25.6l-37.8 14.4l6.2 -57.8zM3625.4 1141.8l-9.3 50.1l-42.2 0.6l5.7 -25.2l4 -25.2zM3749.5 1158.4l-10 49.7l-40.6 -8.1l9.5 -49.7zM3343.6 1109.9l0.7 50.8l-42 17l-0.4 -49.3zM3752.8 1058.1l1.1 50.3l-41.8 -8.2l-1.8 -50.2zM3380 1041l4 51.3l-40.4 17.6l-3.5 -50zM3534.3 992.9l8.6 50.8l-40.5 6.5l-8.2 -51.2zM3404.3 971.2l12.8 51.5l-37.1 18.2l-4.9 -26.3l-6.6 -26zM3646.3 943.5l13.5 50.2l-42.5 -3.2l-14.1 -50.2zM3734.5 957.5l11.8 50.3l-43.4 -8.2l-12.8 -50.2zM3285.9 984l7.7 47.7l-41.7 22.9l-6.6 -46.4zM3317.5 958.6l9 25.8l7.4 26.1l-40.3 21.3l-7.7 -47.7zM3385.5 920.7l18.8 50.5l-35.9 17.5l-17.7 -51.1zM3672.1 899.3l18 50l-43.8 -5.8l-18.9 -50zM3515.9 840.6l25.3 49.4l-41.3 2.6l-25.4 -49.3zM3558.9 840.9l24.8 49.5l-42.6 -0.4l-25.2 -49.4zM3211.5 912l25 50l-40.7 27.6l-9.3 -45.1zM3267.3 859.6l27.8 48.7l-30.1 24.6l-26.6 -49.1zM3298.2 839.3l28.9 48.4l-32 20.6l-27.8 -48.7zM3331.3 822.8l29.7 48.3l-33.9 16.6l-28.9 -48.4zM3528.9 792l30 48.9l-43 -0.3l-30.5 -48.8zM3574.1 794.9l29.2 49.1l-44.4 -3.1l-30 -49zM3206.8 836.5l31.6 47.2l-26.8 28.3l-30.2 -47.7zM3407.9 746.8l35.8 47.8l-39.6 6l-35.7 -47.5zM3124.6 850.1l33.3 45.8l-21.5 35.9l-31.7 -46.6zM3146.5 818.8l34.9 45.4l-23.4 31.8l-33.4 -45.9zM3257 729.9l39.5 45.8l-32.2 16.6l-38.7 -45.5zM3087.1 806.9l37.5 43.2l-19.9 35.1l-35.9 -43.6zM3212.9 685.6l44.1 44.4l-31.4 16.8l-43 -43.9zM3363.8 650.3l45.5 46.3l-42.1 3.4l-45.6 -45.8zM3408.8 649.5l45 46.7l-44.6 0.3l-45.4 -46.3zM3506.5 656.7l42.9 47.2l-48.8 -5.2l-44.1 -47zM3006.8 1011.3l54.1 40.1l4 42.8l-52.7 -39.6zM2990.4 924.1l57.1 41l7.6 43.3l-55.5 -40.6zM2953 976l53.8 35.4l5.4 43.2l-52.4 -34.5zM2952.4 885.1l38 39l9.2 43.7l-55.3 -36.1zM2908.1 989.4l51.7 30.6l5 44l-50.4 -29.5zM2899.8 944.3l53.2 31.6l6.8 44.1l-51.8 -30.6zM2905 895.9l39.3 35.9l8.7 44.2l-53.2 -31.6zM2864.8 1008l49.5 26.5l4.4 45.1l-48.2 -25.2zM2749.9 1144.2l41.4 16.3l1.4 51.8l-40 -14.9zM2745.5 1092l42.8 17.7l3 50.8l-41.4 -16.3zM2739.2 1040.7l44.3 19l4.8 50l-42.9 -17.7zM2735.2 988.4l41.6 21.9l6.7 49.4l-44.3 -19zM2731.4 887.5l42.9 20.5l0.5 50.3l-42.1 -21zM2736.4 702.7l47.4 20.8l-4 43.5l-46 -20.4zM2703.2 1074.9l42.2 17.1l4.5 52.2l-40.8 -15.9zM2690 920.4l42.7 16.9l2.5 51.1l-42.2 -17.5zM2661.1 1060.2l42.1 14.7l5.9 53.3l-40.4 -15.7zM2641 716.3l46.4 13.4l-0.6 45.8l-45.2 -13.1zM2596.4 752.8l45.2 9.6l1.1 47.3l-44.3 -9.4zM2614.1 1318.5l34.4 13l2.7 63.2l-33.3 -12.5zM2528.7 989.7l42 2.8l6.2 50.7l-41.9 -2.9zM2509.4 1141.4l41.8 0.3l10.4 50.5l-42.2 -0.7zM2462.8 743.3l44.1 0.1l3.6 48l-43.4 0.2zM2517.8 1339.6l33.5 15.1l5.7 66.5l-32.6 -14.9zM2467.9 1144.2l41.5 -2.8l10 50.1l-41.8 2.6zM2459.5 1094l41.3 -3l8.6 50.4l-41.4 2.8zM2445.5 993.3l41.5 -3.2l6.4 50.4l-41.3 3.2zM2434.2 893.1l42 -3.2l5.1 49.9l-41.7 3.3zM2429.1 843.6l42.4 -3.1l4.7 49.5l-42 3.2zM2424.1 794.5l43 -2.9l4.4 48.9l-42.5 3.1zM2414.2 698.3l44.3 -2.5l4.4 47.5l-43.6 2.8zM2418.5 1099.7l41 -5.7l8.5 50.2l-41.2 5.6zM2377.8 1107.8l40.7 -8.1l8.3 50.1l-40.7 8zM2357.3 957l41 -8.1l6.1 50.2l-40.8 8.2zM2339.6 807.9l42.1 -7.9l5.4 49.2l-41.7 8zM2333.6 759.1l42.6 -7.8l5.5 48.7l-42.1 7.9zM2475.6 1512.9l55.6 -38.1l31.9 14.7l-55.7 39.9zM2485.8 1584.5l53.4 -39.6l31.7 14.4l-53.1 41.5zM2383.3 1655.2l50.7 -33.9l32.4 18.2l-50.2 35.9zM2435.5 1748l48 -36.4l34.9 15.9l-47 37.9zM2400.7 1728.8l48.9 -34.6l34 17.4l-48.1 36.4zM2352 1760l48.7 -31.2l34.8 19.2l-47.9 33.1zM2320.8 1729.3l45.8 -21.4l34.1 20.8l-48.7 31.2zM2417.2 1850.5l46.1 -33.3l41.1 14.2l-44.6 34.8zM2189.5 1593l41 -18.6l18.4 42.5l-41.7 19.1zM2173.8 1548.4l40.5 -18.2l16.3 44.3l-41.1 18.5zM2148.7 1611.8l40.8 -18.8l17.7 43l-41.3 19.2zM2133.5 1566.7l40.3 -18.4l15.8 44.7l-40.8 18.7zM2215.9 1828.8l44.6 -22.6l32.2 29.4l-45.8 24.2zM2188.6 1794.1l43.5 -21.4l28.3 33.4l-44.6 22.6zM2318.9 1952.8l48.4 -25.8l48.9 15.2l-47.5 27.9l-25.5 -8zM2122.3 1776.4l42.4 -19.9l23.9 37.6l-43.1 20.8zM2083.6 1693l41.1 -18.6l18.8 42.1l-41.7 19.2zM2053 1602.9l40.2 -17.9l14.9 45.4l-40.7 18.2zM2441.6 2015.8l47.1 -29.2l35.6 -0.8l38.2 -3.1l-44.5 30.6l-39.6 2.5zM2270 1981.5l48.9 -28.7l24.2 9.3l25.6 8l-49.4 24.9l-25.5 -5.8zM2156.6 1905.5l44.9 -22.3l34 28.5l-46 24zM2079.9 1795.5l42.4 -19l23.1 38.5l-43.1 19.8zM2060.1 1754.1l41.7 -18.4l20.5 40.8l-42.3 19zM2037.4 1813.3l42.6 -17.8l22.4 39.3l-43.3 18.6zM1985.7 1682.7l41 -16.5l15.7 44.7l-41.4 16.8zM2066.3 1945.2l45.4 -18.9l31.8 31.8l-46.3 20.3zM2015.4 1870.3l43.7 -17l24.6 37.8l-44.5 17.8zM2224.3 2091.9l50.5 -27.9l30.5 2.8l32.6 0.4l-50 31l-33 -1.9zM1994 1924.6l45.3 -15.7l27 36.2l-46.2 16.6zM1971 1885.3l44.4 -15l23.8 38.7l-45.2 15.6zM1950.8 1844.1l43.6 -14.5l21.1 40.7l-44.4 15zM1889.9 1665.2l41.3 -13.6l13.2 46.4l-41.7 13.7zM2402.8 2112.9l58.5 -25.7l56.4 -9.1l59.8 -12.5l-50.8 27.8l-64 11.7zM2314.5 2125.1l47.2 -30.7l47.4 -1.8l52.2 -5.5l-58.5 25.8l-45.1 7.4zM2172.1 2116.4l52.2 -24.5l30.6 4.3l33.1 2l-51.2 28l-33.9 -3.7zM2001.4 2011.2l48.6 -14.9l34.4 31.3l-49.8 16.4zM1925.6 1897.9l45.4 -12.6l23 39.3l-46.4 13.1zM1889.1 1813.4l43.7 -12.1l17.9 42.8l-44.5 12.3zM2366.8 2140.9l36 -28l59.9 -7.8l64 -11.7l-56.3 26.2l-51.4 11.7zM2182 2150.4l54.8 -24.2l37.2 0.9l40.5 -2l-48.3 27.1l-44.7 0.8zM1860.6 1866.1l45.6 -9.8l19.4 41.6l-46.7 9.9z"/>
<path fill="#000aff" d="M670.1 1655.2l48.8 46.6l-47.8 -2.1l-48 -47zM714.6 1654.8l49.2 46.3l-44.9 0.7l-48.8 -46.6zM756.4 1651.4l49.3 45.8l-41.8 3.9l-49.3 -46.2zM795.3 1644.7l49 45.3l-38.6 7.2l-49.3 -45.8zM969.3 1532.3l41.5 43.1l-20.8 27.8l-43.2 -43.2zM989.5 1501l39.8 43.2l-18.5 31.2l-41.6 -43.1zM626.6 1607.7l43.5 47.5l-47 -2.5l-42.7 -47.7zM670.6 1607.6l44 47.2l-44.5 0.4l-43.5 -47.5zM712.2 1604.5l44.1 46.9l-41.8 3.4l-43.9 -47.2zM751.4 1598.2l43.9 46.5l-38.9 6.7l-44.1 -46.9zM908 1514.7l38.8 45.3l-24.9 24l-40.2 -45.3zM1053.3 1342.6l8.8 43.3l-37.9 41l-11.2 -43.7zM496.2 1551l36.2 48.6l-49.6 -7.7l-34.9 -48.8zM543.1 1556.5l37.3 48.5l-48 -5.4l-36.2 -48.6zM588.5 1559.5l38.1 48.3l-46.1 -2.8l-37.4 -48.4zM712.7 1550.7l38.6 47.5l-39.1 6.3l-38.8 -47.8zM784.2 1528.4l37.5 47.1l-33.9 13.1l-38.2 -47.3zM899.9 1439.2l32.2 47.7l-24 27.8l-33.9 -47.2zM923.7 1406.7l30.4 48.5l-22 31.7l-32.2 -47.7zM963.1 1375l11.1 44.2l-20.1 35.9l-30.4 -48.5zM1004.1 1339.7l9 43.5l-38.8 36.1l-11.1 -44.2zM1046.6 1299.6l6.7 43l-40.3 40.6l-8.9 -43.5zM465.3 1501.8l30.9 49.2l-48.3 -7.9l-29.6 -49.3zM598.9 1510.8l33.1 48.8l-43.5 -0.2l-32.6 -48.9zM679.5 1502.2l33.2 48.5l-39.2 6l-33.4 -48.6zM752.1 1480.1l32.1 48.3l-34.6 12.9l-32.8 -48.3zM816.5 1443l29.9 48.7l-29.9 20.3l-31.2 -48.5zM873.1 1389.2l26.8 50l-25.7 28.2l-28.5 -49.1zM954.3 1330.9l8.9 44.1l-39.5 31.6l-10.7 -45.1zM997.2 1296.4l6.9 43.3l-40.9 35.3l-8.9 -44.1zM1041.9 1256.8l4.7 42.8l-42.6 40.1l-6.8 -43.3zM439.9 1452.1l25.4 49.7l-47 -8l-24.2 -49.8zM484.9 1457.9l26.4 49.6l-45.9 -5.7l-25.4 -49.6zM612.4 1458.8l27.7 49.3l-41.3 2.7l-27.5 -49.4zM651.9 1453l27.6 49.3l-39.4 5.9l-27.7 -49.3zM725.7 1430.6l26.5 49.5l-35.3 12.8l-27.2 -49.3zM759.9 1413.7l25.5 49.8l-33.2 16.6l-26.5 -49.5zM823.1 1367.2l10.5 25.8l12.1 25.3l-29.3 24.7l-24.1 -50.3zM904.5 1316.5l8.5 45.1l-39.9 27.6l-10 -46.2zM1039.2 1214.3l2.7 42.5l-44.7 39.6l-4.9 -43zM464.1 1407.9l20.8 50l-45 -5.8l-19.8 -50zM630.1 1402.9l21.8 50l-39.5 5.9l-22 -49.9zM774.4 1340.8l8.1 26.1l9.8 25.8l-32.5 21.1l-19.3 -51.1zM814.3 1319.5l8.8 47.7l-30.8 25.5l-9.8 -25.7l-8.1 -26.2zM898.3 1271.3l6.2 45.1l-41.4 26.5l-7.6 -46.4zM942.8 1243.1l4.7 43.9l-43 29.5l-6.3 -45.1zM449 1357.7l15.1 50.2l-44.1 -5.8l-14.2 -50.2zM491.6 1360.9l15.6 50.2l-43.2 -3.2l-15 -50.2zM533.5 1361.3l15.9 50.3l-42.2 -0.4l-15.6 -50.3zM614.5 1352.3l15.7 50.6l-39.7 6l-16 -50.4zM808.1 1271.4l6.2 48.1l-39.9 21.3l-7.1 -49.4zM894.3 1226.1l4 45.2l-42.8 25.2l-5.2 -46.7zM482 1310.5l9.7 50.4l-42.7 -3.2l-9.2 -50.3zM605.1 1301.2l3.9 25.6l5.4 25.5l-39.9 6.2l-9.8 -50.8zM478.4 1260l3.6 50.5l-42.2 -3.2l-3.2 -50.3zM643.2 1238.5l-0.1 26.2l1.7 26.1l-39.7 10.4l-2.2 -25.8l-0.4 -25.8zM721.4 1206.8l1.5 52.2l-39.1 17.1l-2 -53.4zM762 1190.5l1 50.8l-40.2 17.7l-1.5 -52.2zM847.6 1155.2l0 47.6l-43 19.9l-0.6 -49.2zM893.2 1134.9l-0.6 45.7l-44.9 22.1l-0.1 -47.5zM941.3 1111.5l-1.6 43.9l-47.1 25.2l0.7 -45.7zM1047.1 1047.3l-4.7 41.3l-52.9 36.9l2.8 -42.2zM439.4 1206.8l-2.9 50.2l-41.9 -5.7l3.4 -50.1zM481.1 1209.6l-2.7 50.4l-41.8 -3l2.8 -50.2zM522.9 1209.3l-2.2 25.3l-0.6 25.4l-41.7 -0l2.7 -50.4zM606.8 1197.9l-3.1 25.9l-1.2 25.9l-41.1 7l0.8 -25.5l2.6 -25.6zM764.5 1138.7l-2.5 51.8l-40.6 16.3l2.2 -53.2zM806.7 1123.4l-2.6 50.1l-42 17.1l2.4 -51.8zM490.2 1159.5l-5.4 25l-3.7 25.1l-41.7 -2.8l9.1 -49.9zM651.4 1126l-6.4 56.9l-38.2 14.9l6.2 -57.8zM690.4 1112.4l-6.5 55.8l-39 14.7l6.5 -56.9zM813 1072.1l-6.3 51.3l-42.2 15.4l6.5 -53.1zM1061.8 965.7l-8.3 40.6l-28.8 18.8l-27.7 16.1l6.7 -42.1l28.3 -15.1zM506 1109.9l-8.7 24.8l-7.1 24.8l-41.7 -2.6l15.5 -49.3zM663.3 1067.5l-11.9 58.5l-38.4 14l11.8 -59.4zM702.2 1055l-11.8 57.4l-39.1 13.6l11.9 -58.4zM823.7 1019.2l-10.7 52.8l-42 13.6l11.2 -54.6zM866.6 1007l-10 50.7l-43.7 14.3l10.7 -52.8zM959.8 977.8l-8.8 45.2l-48.7 18.7l9.4 -48.1zM566.7 1046.3l-17.8 62.4l-42.9 1.2l10.5 -24.6l12.2 -24.4zM643.2 1019.5l-18.4 61.2l-38.1 13.7l18.2 -61.9zM759.7 984.8l-17.9 58.1l-39.5 12.1l18.2 -59.3zM799.4 974.4l-17.2 56.6l-40.4 11.9l17.9 -58.1zM839.9 964.4l-16.3 54.8l-41.4 11.9l17.2 -56.7zM881.7 954.4l-15.1 52.6l-42.9 12.2l16.3 -54.8zM553.7 996.3l-13.5 32.5l-11.5 32.1l-42.5 -1.9l13.5 -23.9l15.3 -23.7zM592.3 982.1l-13.9 32.3l-11.7 31.9l-38 14.6l11.4 -32l13.5 -32.6zM785.5 924.3l-14.1 30.5l-11.7 30l-39.2 10.8l12 -30.4l14.3 -31.1zM824.4 915.3l-13.6 29.9l-11.4 29.2l-39.7 10.4l11.7 -29.9l14.1 -30.6zM863.7 906.9l-13 29.1l-10.8 28.4l-40.5 10l11.4 -29.2l13.6 -30zM988.9 882.8l-16.9 48.7l-46.6 12.4l19.7 -52.5zM1097.2 845.9l-13.6 39.5l-31.3 16.8l-28.7 12.1l14.1 -43.6l35.3 -12.7zM508.3 960.5l-34.9 46l-39.8 -7.7l34.6 -46zM548.1 944.7l-17.8 33.6l-15.3 33.1l-41.7 -4.9l34.9 -46zM587.8 929.8l-18.3 33.5l-15.9 33l-38.7 15.1l15.4 -33.2l17.8 -33.6zM627.4 916l-18.8 33.3l-16.3 32.8l-38.6 14.2l15.8 -33l18.3 -33.4zM666.8 903l-19.2 33.1l-16.6 32.6l-38.6 13.3l16.2 -32.8l18.8 -33.3zM705.9 891.1l-19.5 32.9l-16.8 32.3l-38.6 12.5l16.5 -32.7l19.3 -33.1zM898.2 846.2l-18.9 30.8l-15.6 29.9l-39.3 8.4l16.3 -30.7l19.4 -31.4zM1112.6 806.8l-15.4 39.1l-24.1 12.1l-35.4 12.7l19.4 -46.6l31.8 -7.3zM592 876.2l-23.4 34.5l-20.5 34l-39.8 15.8l19.7 -34.1l22.6 -34.6zM714.6 835.4l-25.6 34.1l-22.2 33.6l-39.4 12.9l21.7 -33.8l24.9 -34.2zM794.5 813.4l-26.7 33.6l-23 33.2l-38.9 11l22.6 -33.4l26.2 -33.9zM872.7 795.6l-27.5 33.1l-23.3 32.5l-38.4 9l23.2 -32.9l27.2 -33.4zM911 788.3l-27.7 32.8l-23.2 32.1l-38.2 8l23.3 -32.5l27.5 -33.1zM948.9 782.2l-27.8 32.4l-22.9 31.7l-38 7l23.2 -32.2l27.7 -32.7zM986.1 777.1l-27.7 31.9l-22.1 31.1l-38.1 6.1l22.8 -31.7l27.8 -32.3zM1022.9 773.2l-27.2 31.4l-21 30.2l-38.4 5.4l22.2 -31.1l27.7 -32zM3625.7 639.3l41.7 46.5l-55.1 -11.8l-44 -46.6zM3803.2 684.8l33.7 46l-56.8 -16.3l-36.5 -46.2zM3922.2 720.6l27.9 45.4l-56.5 -17.9l-30.8 -45.7zM3981.1 739.2l25 45l-56 -18.3l-27.9 -45.3zM316.4 739.2l-55.5 45l-24.5 -18.3l57.6 -45.3zM419.1 811.9l-48.7 43.5l-29.6 -16.9l50.1 -43.9zM449.4 828.1l-47.6 43.1l-31.4 -15.8l48.6 -43.5zM3520 582l48.3 45.5l-55.7 -9.7l-50.6 -45.5zM3579.9 593.9l45.8 45.4l-57.4 -11.8l-48.3 -45.5zM3766.5 640.1l36.7 44.7l-59.7 -16.5l-39.8 -45.1zM3829.4 658l33.4 44.3l-59.7 -17.5l-36.6 -44.7zM377.5 695.8l-61.1 43.4l-22.5 -18.6l63.4 -43.9zM3954.3 695.8l26.8 43.4l-58.9 -18.6l-30.1 -43.9zM398.8 715l-59 43l-23.4 -18.8l61.1 -43.4zM446.2 752.7l-55.3 41.9l-26.4 -18.1l57.1 -42.4zM473 770.5l-53.9 41.4l-28.3 -17.3l55.4 -41.9zM534.6 802.4l-52.4 40.4l-32.7 -14.7l52.9 -40.9zM561.6 838.1l-43.9 17.5l-35.5 -12.8l52.4 -40.4zM592 876.2l-41.4 15.6l-32.9 -36.1l43.9 -17.6zM483.6 693.8l-62.1 40.3l-22.7 -19.1l64.2 -40.9zM531.8 731.6l-58.8 38.9l-26.8 -17.8l60.2 -39.6zM3757.6 574.6l36.4 40.8l-66.7 -18.4l-40.7 -41.4zM500.8 594.4l-74.4 40.1l-16.9 -19.2l77.4 -40.8zM3828.5 594.4l32 40.1l-66.5 -19.2l-36.4 -40.8zM674 848l-40.9 13.6l-27.8 -39.9l43.5 -15.5zM3645.1 516.2l41.5 39.3l-70.8 -17.8l-46.5 -40.1zM604.6 600l-72.8 35.6l-16.2 -20.7l75.8 -36.6zM650.1 675.6l-55.2 20.2l-23.9 -19.5l68.1 -33.3zM661.6 711.4l-50.7 18.2l-16 -33.9l55.2 -20.1zM675 750.3l-46.6 16.3l-17.5 -36.9l50.7 -18.2zM3287.3 413.2l63.6 39.8l-67.1 -9.9l-67.9 -40.1zM3522.5 459.8l46.8 37.8l-74.8 -17l-52.8 -38.6zM3604.4 479.4l40.7 36.8l-75.8 -18.6l-46.8 -37.7zM651.2 479.4l-91.5 36.8l-10.8 -18.6l96.1 -37.7zM656.7 500.3l-87.1 35.8l-10 -19.9l91.5 -36.8zM3686.7 500.3l34.6 35.8l-76.2 -19.9l-40.7 -36.8zM693 591l-72.7 30.6l-15.7 -21.7l75.6 -32zM705.3 656.8l-55.2 18.8l-11 -32.6l60.3 -20.8zM712.1 694.5l-50.5 17l-11.5 -35.9l55.2 -18.8zM3303.1 389.2l59.9 37.1l-75.7 -13.1l-66.4 -37.8zM3388.9 405.8l52.8 36.2l-78.8 -15.7l-59.9 -37.1zM3477.1 424.7l45.4 35.1l-80.8 -17.8l-52.8 -36.2zM3566.4 445.5l38 33.8l-81.9 -19.5l-45.4 -35.1zM746.9 445.5l-95.7 33.8l-6.2 -19.5l101.3 -35.1zM757.1 540.2l-76.9 27.8l-9.8 -23.1l80.8 -29.4zM759.2 569.9l-66.2 21.1l-12.8 -23.1l76.9 -27.8zM794.5 813.4l-39.8 10.5l-19.8 -45.4l42.5 -12.2l7.5 23.3zM3435.6 393l41.5 31.8l-88.2 -18.9l-50.6 -33.3zM851.4 393l-105.2 31.8l-2.5 -18.9l112.4 -33.3zM845 415.4l-98.1 30.2l-0.6 -20.8l105.1 -31.8zM3534 415.4l32.4 30.2l-89.3 -20.8l-41.5 -31.8zM812.6 664.6l-50.1 14.3l-2.1 -39.5l55 -15.8zM813.3 708.5l-45.8 12.7l-5 -42.4l50.1 -14.2zM3084.3 307l68.4 32.8l-84.4 -11.3l-78.7 -33.9zM943 389.7l-98 25.7l6.5 -22.4l106.6 -27.7zM891.1 533.8l-65.8 16.9l4.4 -31.6l72.2 -18.6zM858.8 697.1l-45.5 11.4l-0.7 -43.9l49.9 -12.8zM872.7 795.6l-38.8 8.3l-8.4 -24.5l-6 -24.2l41.6 -10l4.4 25zM1037 369.5l-94 20.2l15 -24.4l104.3 -22.6zM1014.3 398.2l-85.3 17.6l14 -26.1l94.1 -20.2zM956 519.5l-64.9 14.3l10.8 -33.4l71.1 -15.6zM902.3 736.5l-41.2 8.8l-2.1 -24.4l-0.3 -23.8l45.1 -10l-1.7 24.3zM911 788.3l-38.3 7.3l-7.2 -25.4l-4.4 -25l41.2 -8.8l2.8 25.7zM2963.8 253l55.3 24.7l-109.6 -14.1l-77.6 -27.2zM3102.5 274.2l34.3 22l-117.8 -18.4l-55.2 -24.8zM1237.9 274.2l-126.7 22l15.9 -18.4l145.8 -24.8zM1198.2 298.8l-110.2 19.2l23.2 -21.9l126.7 -22zM3242.4 298.8l5.2 8.8l10.9 10.4l-121.6 -21.9l-34.3 -22zM1122.4 356l-85.4 13.5l25.3 -26.9l96.5 -16.3zM1106.5 380.8l-92.3 17.3l22.8 -28.7l85.3 -13.5zM1042 472.7l-69.1 12.1l16.4 -31.9l75.5 -13.5zM997.8 546.8l-58.4 10.3l16.6 -37.5l63.4 -11.1zM948.8 678.5l-44.9 8.5l8.1 -46.3l49.3 -9.2zM1294.7 286.9l-96.5 11.9l39.7 -24.7l114.9 -15.1zM1241.3 317.5l-39.1 3.3l-43.4 5.4l39.4 -27.4l96.5 -11.9zM1136.1 430.9l-71.3 8.6l21.9 -30.7l78 -9.9zM1107.9 465.1l-65.8 7.6l22.7 -33.2l71.3 -8.6zM1080.6 501.4l-61.2 7.1l22.7 -35.8l65.8 -7.6zM1031 580.9l-52.9 6.8l19.7 -41l56.9 -6.8zM993.5 671.8l-44.7 6.8l12.4 -47l49 -6.9zM983.6 722.7l-40.5 6.3l1.8 -25.6l3.8 -24.8l44.8 -6.8l-6.1 25zM1337.9 308.2l-46.3 3.6l-50.3 5.7l53.4 -30.5l40.4 -2.8l34 -0.4zM1304 335.2l-40.8 2.3l-44.3 4.4l22.4 -24.4l50.4 -5.7l46.3 -3.6zM1201.2 428.4l-31.7 0.4l-33.4 2.1l28.6 -32.1l36.1 -2.5l33.9 -0.8zM1138.4 499.4l-57.8 2l27.3 -36.3l61.1 -2.1zM1058.7 621l-48.5 3.7l20.8 -43.7l51.8 -3zM1024 717.8l-40.4 4.8l3.9 -25.9l6 -24.9l44.8 -4.6l-8.2 24.7zM1599.1 225.9l-29.8 -2l-42 0.9l91.4 -24.2l57.9 -2.6l38.9 0.8l-60.9 13.1zM1332.8 368.3l-30 -3.1l-33.6 -0.8l34.8 -29.2l36.8 -0l32.3 2.5zM1258 433.6l-27.2 -3.7l-29.6 -1.5l33.5 -32.9l31.3 1.2l28.4 3.6zM1083.2 666l-45 1.3l20.5 -46.3l47.8 0.8zM1064.6 714.8l-40.6 3l6 -25.9l8.2 -24.7l45 -1.2l-10.1 23.7zM1625.5 238.1l-3 -4l-5.2 -3.4l-18.2 -4.8l55.5 -14.1l60.9 -13l12.3 1.7l8 2.4l4.3 3.3l1.3 3.9l-60 13.4zM1423.6 350.9l-22.8 -8.1l-27.7 -5.2l42 -29l29.9 4.5l24.1 7.4zM1237.3 518.2l-22 -8.4l-24 -5.6l32.4 -36l24.2 6l21.8 8.7zM2223.6 452.7l48.2 -9.9l12.4 41.7l-46.9 9.7zM2167.2 339.4l53.2 -11.3l20 36.3l-51.3 10.6zM1962.8 224.5l65.2 -24.2l32.3 5.7l27.5 8.1l-63.7 20.1l-28.7 -6.1zM1661.3 257.6l64.8 -26.2l55.8 -11.7l56.4 -9.7l-46.7 28l-62.5 7.9zM2139.1 388.8l50 -13.8l18.5 37.8l-48.4 13.1zM2054.3 295.8l55.7 -18.4l16.4 14.1l14.8 15.2l-53.5 16.3l-15.9 -14.2zM1902 252.5l60.8 -28l32.6 3.6l28.6 6.1l-60.2 24.6l-29.3 -4.4zM1602.8 285.4l58.5 -27.8l67.7 -11.7l62.6 -7.9l-66.5 25.7l-59.1 9.1zM2159.6 563.3l44.5 -14.1l11.3 44.2l-43.7 13.8zM2065 372.2l50.6 -17.9l23.5 34.5l-49 16.6zM2035.3 342.6l52.4 -19.6l27.9 31.3l-50.6 17.9l-14.2 -15.3zM1999.9 317.6l54.4 -21.9l17.4 13.1l16 14.2l-52.4 19.6l-16.9 -13.2zM1905.6 286.6l58.2 -27.9l26.3 6.6l23.6 8.5l-56.4 24.6l-24.6 -6.9zM1664.9 291.4l60.2 -27.6l53.9 -5.5l48 -1.9l-63.5 24.9l-46.9 3.4zM1549.5 314.6l53.3 -29.2l63.2 -12.5l59.1 -9.1l-60.2 27.6l-55.9 9.9zM2139.8 667.8l42.6 -15.3l9.5 46.4l-42 15.1zM2084 497.1l45.9 -16.9l15.9 40.6l-44.9 16.4zM2064.4 459.4l47.1 -17.8l18.4 38.6l-45.9 17zM2041.7 424.3l48.4 -18.9l21.5 36.2l-47.1 17.8zM1983.6 364.9l51.7 -22.3l15.5 14.3l14.2 15.3l-50 20.4l-15 -14.4zM1609.9 320.5l55 -29.1l51.7 -6.7l46.9 -3.4l-58.7 27.2l-45.4 4.5zM2097.6 684.3l42.3 -16.5l10.1 46.2l-41.7 16.3zM2056.3 555l44.6 -17.8l14.7 41.9l-43.7 17.3zM2038.4 515.7l45.6 -18.6l16.9 40.1l-44.6 17.8zM1559.4 350.9l50.5 -30.4l49.5 -7.5l45.5 -4.5l-54.4 29.1l-43.8 5.2zM1838.7 397.8l54 -28.7l20.5 9.3l18.8 10.9l-51.7 26.1l-19.9 -9.6zM1600 368.1l50.5 -30.6l40.2 -2.5l36.8 -0.1l-52.8 29.2l-35.8 0.8zM1512.7 382.4l46.7 -31.5l47.3 -8.1l43.8 -5.3l-50.5 30.6l-42 5.8zM2013.5 720.1l42 -18.2l11.2 45.7l-41.4 17.9zM1827.9 442.9l52.4 -27.5l18.3 11.1l16.9 12.4l-50.2 25.3l-17.9 -11.4zM1739.5 408.5l52.3 -27.9l24.2 8l22.6 9.3l-52.5 25.7zM1552.9 400.2l47.1 -32l38.8 -3.2l35.8 -0.8l-49.8 31.2l-34.5 1.3zM1469.4 414.9l43.3 -32.6l45.3 -8.5l42 -5.7l-47 32l-40.3 6zM1374.2 441.7l39 -33.1l51.1 -14.7l48.3 -11.5l-43.3 32.5l-46.2 11.8zM1941.4 653.7l43.5 -19.7l15.2 42.2l-42.7 19.1zM1848.1 515l48.9 -24.2l27.2 31l-47.2 22.6zM1429.1 448.4l40.2 -33.5l43.3 -8.8l40.3 -6l-44 33.4l-38.5 6.1zM1338 475.6l36.2 -33.9l49 -15l46.2 -11.8l-40.3 33.6l-44.2 11.8zM1897.7 673.6l43.7 -19.9l16.1 41.6l-42.8 19.2zM1798.3 539.7l49.8 -24.7l28.9 29.4l-47.8 23l-14.8 -14.4zM1725.4 500.1l50.8 -30.3l38.1 20.6l-51.3 28.3zM1391.6 482.9l37.5 -34.4l41.3 -8.8l38.5 -6.2l-41.3 34.7l-36.6 6zM1304.4 510.2l33.7 -34.6l46.9 -15.3l44.2 -11.8l-37.5 34.4l-42.2 11.8zM1780.5 590.6l48.7 -23.1l26.4 32l-46.8 21.7zM1747 569.5l51.3 -29.8l16.1 13.3l14.8 14.5l-48.7 23.1zM1712.1 550.4l50.8 -31.7l35.4 21.1l-51.3 29.7zM1675.3 533.5l50.1 -33.4l37.6 18.6l-50.9 31.7zM1490.8 499.2l42.5 -36.4l29.4 0.2l27.5 1.8l-45.3 36.3zM1428.7 504.1l38.9 -35.9l34 -3.7l31.6 -1.6l-42.4 36.4l-29.9 1.4zM1356.7 518.2l35 -35.3l39.4 -8.7l36.6 -6l-38.9 35.9l-34.7 5.7zM1273.1 545.4l31.3 -35.2l45 -15.5l42.3 -11.8l-35 35.3l-40.3 11.6zM1844.8 794.1l42.5 -18.1l13.7 44.3l-41.7 17.7zM1828.2 752.2l43.4 -18.6l15.7 42.4l-42.5 18.1zM1728.8 621.8l51.7 -31.2l28.2 30.6l-47.7 21.3zM1500.9 539.7l44 -38.6l47.8 7.1l-46.5 38.3zM1450 537.5l40.8 -38.2l54 1.9l-44 38.5zM1391.8 541.4l36.9 -37.4l32.2 -3.4l29.9 -1.4l-40.8 38.2l-28 1.1zM1324 554.4l32.7 -36.2l37.4 -8.4l34.7 -5.7l-36.9 37.3l-32.6 5.2zM1676.8 656.4l51.9 -34.6l32.2 20.8l-52.3 32.6zM1644.3 639l51.4 -36.4l33 19.2l-51.9 34.6zM1610.9 623.2l50.6 -38l34.3 17.4l-51.4 36.4zM1576.1 609.2l49.6 -39.3l35.9 15.4l-50.7 37.9zM1410.4 577.9l39.6 -40.4l50.9 2.3l-43.2 41zM1293.3 591.7l30.7 -37.3l35.3 -7.8l32.6 -5.1l-35.3 39l-30.3 4.3zM1217.2 617.6l26.9 -36.4l41.5 -15.5l38.3 -11.3l-30.7 37.3l-36.2 10.5zM1758.6 827.6l43.3 -16.2l15.4 43.5l-42.4 15.8zM1717.8 748.6l46.1 -17.4l20.4 38.9l-44.5 16.7zM1686.8 729.2l53.2 -33.9l23.9 35.8l-46.1 17.5zM1655.7 711l52.9 -35.9l31.4 20.2l-53.2 33.9zM1624.3 694.1l52.6 -37.7l31.8 18.8l-53 35.8zM1526 651.5l50.1 -42.3l34.8 14l-51.2 41zM1264.2 630.3l29.1 -38.6l33 -6.9l30.2 -4.3l-34.4 41.2l-27.6 3zM1539.1 720.9l53.2 -42.4l32 15.6l-53.7 40.7zM1169.6 691.9l22.8 -37.4l38 -14.9l33.8 -9.3l-28.2 40.6l-30.6 7.2zM1638.8 837.7l55.6 -35.7l20.3 40.4l-44.8 12.8zM1607.8 821.2l55.7 -37.7l30.8 18.5l-55.5 35.7zM1576.9 805.8l55.7 -39.6l30.9 17.3l-55.7 37.7zM1248.8 714.7l38.4 -48.9l43.4 1.3l-44.4 50.6zM1148.7 729.7l20.9 -37.9l35.8 -13.8l30.6 -7.2l-29.5 44.3l-32.7 5.2zM1550.2 861.2l57.6 -40l31 16.5l-57.4 38.1zM1519 847.6l57.9 -41.8l30.9 15.4l-57.6 40zM1487.8 835.1l58.2 -43.6l30.9 14.3l-57.9 41.9zM1198.3 770.3l21.4 -21.6l29.1 -33.9l37.4 2.9l-32.2 34.2l-22.1 21.2zM1129.7 768.1l19 -38.3l25.1 -9.4l32.7 -5.2l-22.8 31.8l-19.5 21.6zM1679.5 1200.7l40.8 -8.1l8.5 50.1l-40.6 8.1zM1670 1151l41 -8l9.3 49.6l-40.8 8.1zM1633.8 1006.1l42.7 -7.8l13 47.3l-42 7.9zM1617.9 960l43.8 -7.7l14.8 46l-42.7 7.7zM1638.4 1206.3l41.1 -5.6l8.7 50.1l-40.9 5.7zM1585.6 944.3l32.2 15.8l15.9 46l-43.3 4.9zM1581.5 875.8l31.4 15.6l5 68.6l-32.2 -15.7zM1642.9 1510.1l42.3 -3.1l7.5 49.1l-42.7 2.9zM1621.8 1360.5l41.4 -3.2l7.4 50.2l-41.6 3.2zM1606 1259.6l41.3 -3l8.2 50.3l-41.3 3.2zM1597 1209.2l41.5 -2.9l8.8 50.2l-41.3 3.1zM1562 1060.5l43 -2l12.6 48.6l-42.2 2.3zM1593.6 1461l42.3 -0.4l7 49.5l-42.8 0.3zM1587 1411.1l42 -0.4l7 49.9l-42.4 0.4zM1564.3 1259.6l41.6 -0l8.2 50.4l-41.6 0.3zM1555.2 1208.9l41.8 0.3l9 50.3l-41.6 0.1zM1532.6 1108.4l42.8 1.1l11.5 49.6l-42.2 -0.6zM1527.7 1045.9l34.2 14.6l13.4 48.9l-42.8 -1.1zM1556.8 1507.8l43.3 2.7l6.4 48.7l-43.9 -2.8zM1493.6 1032.2l34.2 13.8l4.8 62.4l-35.5 -14.4zM1491.4 968.4l32.9 13.3l3.5 64.2l-34.2 -13.8zM1488.4 1300.8l42.2 6.5l7.3 50.8l-42.3 -6.2zM1480.2 1249.3l42.2 7l8.2 51l-42.2 -6.5zM1459.4 1019.2l34.2 13l3.4 61.8l-35.5 -13.6zM1457.9 890.8l31.9 11.9l1.5 65.7l-32.9 -12.4zM1425.8 1067.2l35.7 13.1l3.6 59.4l-37.1 -14zM1425.1 1006.9l34.3 12.2l2.1 61.2l-35.7 -13.1zM1425.5 944.5l33 11.5l1 63.1l-34.3 -12.2zM1426 879.9l31.9 10.9l0.6 65.3l-33 -11.6zM1428.3 1528.2l45 12.8l3.9 47.4l-46 -13.1zM1421 1430.3l43.4 13l4.7 49.3l-44.1 -12.8zM1416.3 1379.8l42.9 13.3l5.2 50.2l-43.4 -13zM1410.7 1328.3l42.5 13.9l6 50.9l-42.8 -13.3zM1403.8 1275.8l42.3 14.6l7 51.7l-42.5 -13.9zM1390.6 1112.1l37.4 13.6l3.9 56.9l-38.9 -14.7zM1389.9 1054.7l35.9 12.5l2.2 58.5l-37.4 -13.6zM1390.6 995.4l34.5 11.5l0.7 60.3l-35.9 -12.5zM1392.3 933.9l33.2 10.6l-0.4 62.4l-34.4 -11.5zM1373.6 1362.4l42.7 17.4l4.7 50.6l-43.3 -16.9zM1368.4 1310l42.3 18.2l5.6 51.5l-42.6 -17.4zM1361.3 1258.7l42.5 17.1l6.8 52.4l-42.3 -18.2zM1353.6 1042.6l36.3 12.1l0.7 57.4l-37.8 -13.3zM1355.8 984.5l34.8 10.9l-0.7 59.3l-36.3 -12.1zM1358.8 924.1l33.5 9.8l-1.7 61.5l-34.8 -10.9zM1338.9 1583.8l47.3 20.4l0.5 43.9l-48.9 -20.8zM1339.2 1538.5l45.9 20.2l1.1 45.5l-47.3 -20.4zM1316.7 1030.8l36.9 11.8l-0.8 56.2l-38.4 -13.4zM1320.4 974.2l35.4 10.3l-2.2 58.1l-36.9 -11.8zM1294.6 1467.3l44 24.2l0.5 47l-45.2 -24zM1294.3 1418.1l43 24.7l1.3 48.6l-44 -24.1zM1292.9 1367l42.1 25.5l2.3 50.3l-42.9 -24.7zM1284.5 1319.3l46.9 21.3l3.5 51.9l-42.1 -25.5zM1278.5 1271.2l45.3 20l7.7 49.4l-46.9 -21.3zM1273 1123.2l40.7 15.3l1.3 51.8l-42.2 -17zM1275.1 1071.9l39.2 13.6l-0.6 53l-40.7 -15.3zM1279 1019l37.7 11.8l-2.4 54.6l-39.2 -13.6zM1290.5 906.8l34.5 8.3l-4.6 59.1l-36.1 -9.9zM1252.5 1389.1l41.8 29l0.3 49.2l-42.9 -28.2zM1243.5 1342.8l49.3 24.2l1.5 51.1l-41.8 -29zM1236.8 1296.4l47.7 22.9l8.3 47.7l-49.3 -24.2zM1234.9 1057.5l40.3 14.3l-2.2 51.3l-41.7 -16.3zM1240.3 1006.9l38.7 12.2l-3.9 52.8l-40.2 -14.3zM1247.2 954.3l37.1 10l-5.3 54.8l-38.8 -12.2zM1255.2 898.9l35.3 7.8l-6.1 57.5l-37.1 -10zM1184.2 1180.5l45.7 22.1l2.4 47l-47.1 -23.7zM1185.3 1134.8l44.3 20.2l0.3 47.6l-45.6 -22.1zM1200.2 993.5l40.1 13.3l-5.4 50.7l-41.6 -15.9zM1218.6 891.2l36.6 7.7l-7.9 55.3l-38.5 -10.5zM1228.1 834.7l34.4 5.3l-7.3 58.9l-36.6 -7.7zM1166.3 1419.2l40.6 35.8l-4.7 45.9l-42.2 -35.1zM1156.2 1375l54.2 31.6l-3.4 48.5l-40.7 -35.9zM1138.8 1243l49.5 28.2l5.1 45.2l-50.9 -29.5zM1137.2 1199.1l48.1 26.8l3 45.3l-49.5 -28.3zM1158.5 977.8l41.7 15.8l-6.9 48.1l-43 -18.7zM1168.5 931.3l40.2 12.4l-8.5 49.8l-41.7 -15.8zM1192.3 829.9l35.8 4.8l-9.5 56.6l-38.4 -8.6zM1120.5 1426.9l39.6 38.9l-7.7 43.7l-41.3 -38.2zM1109.9 1383.1l56.4 36.1l-6.2 46.6l-39.6 -39zM1101.5 1339.6l54.7 35.3l10.2 44.3l-56.5 -36.1zM1090.9 1253.3l51.6 33.6l5.7 43.9l-53 -34.4zM1106 999l44.3 23.9l-6.2 44.4l-45.3 -26.2zM1126.3 914.3l42.3 17l-10.1 46.4l-43.3 -20.8zM1139.3 870.7l40.9 12l-11.7 48.7l-42.3 -17zM1062.1 1385.9l58.4 41l-9.4 44.4l-38 -41.9zM1053.3 1342.6l56.6 40.5l10.6 43.8l-58.4 -41zM1046.6 1299.6l54.9 40.1l8.4 43.5l-56.6 -40.6zM1041.9 1256.8l53.3 39.6l6.3 43.3l-54.9 -40.1zM1071.8 925.4l21.4 17.6l21.9 13.9l-9.1 42.1l-22.3 -15.1l-21.9 -18.2zM1083.6 885.5l21 16.7l21.6 12.1l-11.1 42.6l-21.9 -13.9l-21.4 -17.6zM1097.2 845.9l15.5 12.1l26.6 12.6l-13 43.7l-21.6 -12.2l-21.1 -16.7zM1112.6 806.8l5 4.2l10.5 5.7l26 7.3l-14.7 46.7l-26.7 -12.7l-15.5 -12.1zM1129.7 768.1l34.5 0.5l-1.6 22.4l-8.6 33.1l-25.9 -7.3l-10.6 -5.7l-5 -4.3zM2213.8 2174.8l27 -10.7l25.4 -11.9l49 -4.2l51.6 -7.1l-18.1 14.7l-7.3 7.4l-65.3 7.7zM2118.6 2168.9l33.3 -8.3l30.1 -10.2l39.5 2.6l44.7 -0.8l-25.4 11.9l-27.1 10.7l-52.6 -0.7zM1960.4 2096.2l30.1 -3.7l28.6 -5.1l21 14.1l22.9 13.1l-29.8 6.1l-31.7 4.5l-21.5 -14.1zM1871.7 1993.2l51.6 -7l27.3 36.3l-53.7 7.3zM1813.6 1873.1l47 -6.9l18.3 41.7l-48.3 6.8zM1785.2 1785.9l44.8 -7.2l14.4 44.3l-45.8 7.1zM1762.3 1694.3l43.2 -7.5l11.6 46.5l-43.9 7.3zM2362.1 2174.9l-14.7 -1.5l-6.8 -2.6l-1.4 -3.6l2.2 -4.2l62.9 -10.1l58.9 -12l2.9 3.9l5.8 3.3l22 4.2l-61.4 12zM2145.5 2190l29.4 -4.3l38.9 -10.9l62.3 -4l65.3 -7.7l-2.2 4.2l1.4 3.5l6.9 2.6l14.6 1.6l-62 6.9l-49.1 3.9zM2029.8 2176.4l49.7 -1.8l39.1 -5.7l42.5 5.2l52.6 0.7l-38.8 10.9l-29.4 4.3l-33.5 -0.4l-31.8 -2.8l-22.8 -3.7zM1895.1 2098.8l33.6 -0.5l31.7 -2.1l19.6 14.9l21.5 14l-34.1 2.6l-37 0.5zM1865.3 2066.8l60.8 -2.6l34.4 32l-31.8 2.1l-33.5 0.5zM1839.6 2032.4l57.3 -2.7l29.2 34.5l-60.8 2.5zM1765.1 1876.9l48.6 -3.8l16.9 41.6l-50.2 3.5zM1751.4 1834.2l47.2 -4.1l15 42.9l-48.6 3.8zM1739.2 1790.3l46 -4.4l13.4 44.2l-47.2 4.1zM1728.2 1745.3l45 -4.7l12 45.3l-46 4.4zM1718.2 1699.3l44.1 -5l10.8 46.3l-44.9 4.7zM2514 2169.1l-92.3 5.2l-59.6 0.6l70.4 -10.6l61.4 -12l39.1 0.9l56.6 -2.6zM2529.9 2176.5l-114.3 6.7l-91.7 3.7l-178.4 3.1l105.5 -4.2l49.1 -4l62 -6.9l59.7 -0.6l92.2 -5.2l-11.6 3.3l-3.9 2.4l7.9 1.4zM1863.9 2176.5l72.3 6.7l56.8 3.7l72.2 2.8l-14.9 0.3l-179.7 -4.2l-211.1 -10.9l45 -0.6l0.8 -0.9l-2.6 -1.2l-12.6 -3.1l102.4 5.7zM2201.5 2189.7l-89.4 -0.1l-43.9 -4.6l-38.4 -8.6l-63.4 -2.8l-71.2 -6.4l0.9 1.9l-0.8 3.2l-6.2 2.5l-25.2 1.7l99.5 8.6l101.8 4.6l-14.9 0.3l-0 20.3l151.2 -0zM1847.8 2123.1l42.8 3.5l39.9 1.6l20.4 13.5l22.7 12.7l-47.2 -2l-51.9 -4.6zM1799 2063.8l66.3 3l29.9 32l-73 -3.9zM1759.5 1994.7l57.7 1.4l22.3 36.3l-61.4 -2.1zM1702.8 1835.2l48.6 -1l13.7 42.7l-50.3 0.4zM1682.2 1747.2l46 -1.8l11 45l-47.2 1.4zM2720.7 2150.4l-103 10.4l-103.7 8.3l75.6 -18.5l70 -5.6l78 -8.2l-14.1 7.8l-3.1 3.2zM1594.8 2150.4l95.4 18.7l-112.2 -8.3l-111.6 -10.2l-0 -2.5l-5.5 -3.1l-22.9 -8.2zM1705.7 2154.6l74.7 11.6l83.5 10.3l-71.4 -1.7l-102.4 -5.7l-95.3 -18.7l63.2 3.5zM2772.1 2154.6l-113.1 11.6l-129.1 10.3l-23.6 -0.3l-7.9 -1.4l4 -2.4l11.6 -3.3l103.8 -8.3l102.9 -10.4l4.7 2.1l9.7 1.4zM1755.7 2110.6l92.1 12.5l26.7 24.7l-54.8 -6.9l-56.2 -8.6l-2.8 -10.2zM1698.6 1988.9l60.9 5.8l18.6 35.6l-65.5 -7zM1673.6 1914.2l54.5 3.8l14.8 39.2l-57.3 -4.7zM1635.1 1746l47.1 1.2l9.8 44.6l-48.5 -1.7zM1627.3 1700.7l45.9 0.7l9 45.7l-47.1 -1.2zM1617.1 1906.6l56.5 7.7l12 38.2l-59.8 -8.8zM1593.8 1785l49.7 5l9.2 42.9l-51.6 -5.8zM1543.2 2084.7l108.1 25.9l-9.7 7.2l-15.4 5.4l-117 -28.2l19.2 -4.4zM1562 2068.8l97.1 23.3l-2.3 9.9l-5.5 8.7l-108.1 -25.9l11 -7.4zM1570.6 2048.1l87 20.7l1.4 23.3l-97 -23.3l5.3 -9.8zM1573 2023.4l78.5 18.3l6.1 27.1l-87 -20.7zM1571.7 1995.3l71.8 16.2l8 30.2l-78.5 -18.3zM1563.8 1930.8l62 12.8l8.9 35.1l-66.4 -14.4zM1558.7 1895.1l58.4 11.5l8.7 37.1l-62 -12.9zM1553.4 1857.4l55.4 10.3l8.3 38.9l-58.4 -11.5zM1542.9 1776.6l50.9 8.4l7.3 42.1l-53 -9.3zM1537.8 1733.9l49.1 7.7l6.9 43.5l-50.9 -8.5zM1532.8 1689.8l47.7 7.1l6.4 44.7l-49.1 -7.7zM1276.2 2064.5l101 32l-98.3 -8.8l-88.5 -31zM1347 2067l107.7 32l-77.5 -2.6l-101 -31.9zM1493.4 2001l79.7 22.4l-2.4 24.7l-87 -24.7l5.5 -10.7zM1498.4 1975l73.3 20.2l1.3 28.1l-79.6 -22.3zM1500.3 1946l68 18.4l3.4 30.9l-73.3 -20.2zM1500.3 1914.2l63.5 16.7l4.6 33.5l-68 -18.4zM1491 1764.7l51.8 11.9l5.3 41.2l-54.1 -12.8zM1487.8 1722.8l50 11.1l5 42.7l-51.8 -11.9zM1301.8 2030.6l99.8 33.5l-25.3 2.2l-29.3 0.8l-99.3 -34.3zM1344 2023.5l96.7 32l-17.8 4.9l-21.3 3.6l-99.8 -33.4l22.5 -3zM1424.7 1951.2l73.8 23.9l-5.1 26l-79.4 -26zM1431.6 1924l68.8 22l-2 29.1l-73.7 -23.9zM1253 1989.1l91 34.3l-19.6 4.2l-22.6 2.9l-92.8 -35.5zM1288.1 1978.9l87.5 32.7l-14.6 6.5l-17 5.4l-91 -34.4l18.6 -4.5zM1371.2 1870.1l64.7 23.7l-4.3 30.1l-68.7 -25.3zM1377.1 1838.9l61.1 22.2l-2.4 32.8l-64.6 -23.7zM1381.2 1805.1l58 20.9l-1 35.1l-61.1 -22.2zM1383.9 1768.9l55.2 19.7l-0 37.4l-58 -20.9zM1205 1943.9l83.1 35l-16.5 5.7l-18.6 4.6l-85.5 -36.4zM1316.3 1813.4l60.8 25.4l-5.9 31.3l-64.2 -26.9zM1323.4 1780.9l57.8 24.2l-4.1 33.8l-60.8 -25.5zM1328.8 1745.8l55.1 23.1l-2.7 36.1l-57.8 -24.2zM1332.9 1708.4l52.8 22.1l-1.7 38.3l-55.2 -23zM1087.3 1914.5l80.2 38.2l-45.1 4.8l-80.7 -39.1zM1187.4 1880l72.9 34.2l-24.6 16.8l-76 -35.8zM1210.2 1861.2l69.6 32.7l-19.5 20.4l-72.9 -34.3zM1228.9 1838.9l66.2 31.2l-15.3 23.8l-69.6 -32.7zM1256.4 1784.9l59.9 28.5l-9.3 29.8l-62.9 -29.8zM1274.3 1719.6l54.5 26.3l-5.4 35l-57.1 -27.3zM1285.6 1644.1l50.2 24.7l-3 39.6l-52.2 -25.4zM1289.4 1603l48.3 24.3l-1.9 41.6l-50.2 -24.8zM915.3 1877.2l74.4 41.3l-58.2 -3.5l-72.5 -41.6zM966.5 1877.7l75.2 40.7l-52.1 0.1l-74.3 -41.2zM1012.3 1874.6l75 39.9l-45.7 3.9l-75.1 -40.7zM1087.8 1857.6l71.9 37.7l-33.1 11.5l-73.9 -38.9zM1117.8 1843.6l69.6 36.4l-27.7 15.3l-72 -37.7zM1242.1 1575.3l47.3 27.7l-3.8 41.1l-49.1 -28zM896.7 1835.6l69.8 42.1l-51.2 -0.4l-69 -42.7zM942.5 1833.2l69.8 41.4l-45.8 3.1l-69.8 -42.1zM983.6 1827.4l69.1 40.5l-40.4 6.7l-69.8 -41.4zM1020.1 1818l67.7 39.5l-35.1 10.4l-69 -40.6zM1052 1805.2l65.8 38.4l-30 14l-67.7 -39.5zM1079.7 1788.8l63.6 37.3l-25.5 17.5l-65.8 -38.4zM1156.5 1690.2l54 33.1l-12.6 30.3l-56.3 -34zM1169.2 1657.9l51.7 32.3l-10.4 33.1l-53.9 -33.1zM832.2 1792.1l64.5 43.4l-50.4 -0.9l-63.6 -43.9zM877.8 1790.4l64.7 42.8l-45.8 2.4l-64.5 -43.4zM1132.3 1587.9l47.5 34.8l-10.6 35.2l-49.6 -35.2zM1152.4 1509.4l43.9 34.7l-7.5 40.6l-45.6 -34.6zM672.5 1741l57 45.3l-56.3 -7.2l-55.1 -45.4zM724.2 1745.7l58.4 45l-53.1 -4.4l-57 -45.3zM772.9 1747.5l59.3 44.6l-49.6 -1.4l-58.4 -45zM818.3 1746.3l59.6 44.1l-45.7 1.7l-59.2 -44.6zM860 1741.9l59.4 43.4l-41.6 5.1l-59.6 -44.1zM898.1 1734.1l58.7 42.7l-37.5 8.5l-59.3 -43.5zM932.6 1723l57.6 41.9l-33.4 11.9l-58.7 -42.7zM963.5 1708.4l56.1 41.1l-29.5 15.4l-57.5 -41.9zM1087.4 1550.2l44.9 37.7l-12.7 34.8l-46.8 -37.9zM1100.1 1512.3l43.1 37.8l-10.9 37.8l-44.9 -37.8zM1111.1 1471.3l41.3 38.2l-9.2 40.7l-43.1 -37.8zM844.2 1690.1l53.9 44.1l-38.1 7.7l-54.4 -44.7zM911.6 1665.7l51.9 42.8l-30.9 14.5l-53.1 -43.4zM940.6 1648.3l50.5 42.1l-27.6 18l-51.9 -42.7zM966.7 1627.5l48.9 41.6l-24.5 21.4l-50.4 -42.2zM1010.8 1575.4l45.4 40.8l-19 28.1l-47.2 -41.1zM1029.3 1544.2l43.6 40.6l-16.7 31.4l-45.4 -40.8zM1045.7 1509.5l41.7 40.7l-14.6 34.6l-43.5 -40.6zM1060.2 1471.3l39.9 41.1l-12.7 37.8l-41.7 -40.7zM3679.8 1408.9l-39.2 44.4l-38.5 -10.3l39.4 -44.4zM3716.2 1421.3l-39.5 44.6l-36.2 -12.5l39.2 -44.5zM3784.1 1450.9l-41.2 45.1l-32.2 -15.8l40.3 -44.8zM3815.7 1467.6l-42.5 45.4l-30.4 -16.9l41.3 -45.1zM3846 1485l-43.9 45.7l-28.9 -17.7l42.5 -45.4zM3903.3 1520.9l-47.2 46.3l-26.4 -18.3l45.5 -46.1zM3957.7 1556.6l-50.8 46.8l-25.2 -17.9l49 -46.6zM416.2 1618.3l41.1 47.4l-57.1 -13.6l-38.7 -47.3zM470.1 1630.1l43.2 47.4l-56 -11.8l-41.1 -47.4zM522.8 1640l45.1 47.3l-54.5 -9.7l-43.3 -47.4zM3852.8 1420.8l-37.1 46.8l-31.6 -16.7l35.8 -46.5zM3945 1473.5l-41.7 47.4l-28.1 -18.1l40 -47.2zM4002.8 1508.8l-45.1 47.8l-27 -17.7l43.4 -47.6zM4031.3 1525.7l-46.8 48l-26.8 -17.1l45.1 -47.8zM221.7 1525.7l29.4 48l-55.2 -17.1l-26.9 -47.8zM274.6 1541.7l31.8 48.1l-55.3 -16.2l-29.4 -47.9zM4060 1541.7l-48.4 48.1l-27.1 -16.2l46.8 -47.9zM3741 1315.6l-27.7 47.3l-38.5 -10.2l27.4 -47.3zM3778.6 1327.8l-28.4 47.4l-36.9 -12.3l27.7 -47.3zM3815 1341.6l-29.3 47.5l-35.5 -13.9l28.4 -47.4zM3850.3 1356.8l-30.4 47.7l-34.1 -15.4l29.2 -47.5zM3884.4 1373l-31.6 47.8l-32.9 -16.4l30.3 -47.6zM3949.8 1407.5l-34.6 48.2l-30.7 -17.7l33.1 -48zM4042.3 1460.2l-39.5 48.6l-28.7 -17.5l37.9 -48.5zM4072.4 1477l-41.1 48.7l-28.5 -16.9l39.5 -48.6zM196.7 1477l25 48.7l-52.7 -16.9l-22.7 -48.6zM398.6 1533.1l33.2 48.8l-51.9 -11.8l-31.4 -48.9zM3875.2 1308.2l-24.9 48.5l-35.3 -15.1l23.8 -48.5zM3910.7 1324.3l-26.2 48.7l-34.2 -16.3l24.9 -48.5zM3945.2 1341.2l-27.7 48.8l-33.1 -17l26.2 -48.7zM3979 1358.6l-29.2 48.9l-32.2 -17.5l27.7 -48.8zM4108 1427.7l-35.5 49.3l-30.2 -16.7l34 -49.3zM176.3 1427.7l20.4 49.3l-50.4 -16.7l-18.2 -49.3zM3967.5 1291.8l-22.3 49.4l-34.6 -16.8l20.9 -49.4zM3908.8 1209.2l-14.2 49.8l-37.6 -15l12.9 -49.7zM3947.1 1225.2l-15.6 49.8l-36.8 -16l14.2 -49.7zM3984.6 1241.9l-17 49.9l-36.1 -16.8l15.6 -49.8zM4057.5 1276.5l-20.2 50l-34.5 -17.5l18.6 -49.9zM194.7 1343.6l12.6 50.2l-46.6 -15.9l-10.8 -50.1zM3917.7 1159.1l-8.9 50.1l-38.9 -14.9l7.5 -50.1zM3957.4 1175l-10.3 50.2l-38.3 -16l8.9 -50.1zM4034.8 1208.8l-13.4 50.3l-36.8 -17.2l11.8 -50.3zM4072.6 1226.2l-15 50.3l-36.2 -17.4l13.4 -50.3zM4146.5 1260.7l-18.3 50.3l-35.1 -17.1l16.7 -50.3zM144.3 1277.4l5.6 50.3l-44.3 -16.6l-3.8 -50.3zM4182.8 1277.4l-19.8 50.3l-34.8 -16.6l18.3 -50.3zM187.3 1293.2l7.4 50.3l-44.8 -15.8l-5.6 -50.3zM274.4 1321.6l10.6 50.3l-45.3 -13.5l-9 -50.3zM3837.7 1080.3l-1 50.3l-41.2 -12.1l-0.2 -50.2zM3921.5 1108.7l-3.7 50.3l-40.3 -14.8l2.3 -50.4zM3962.6 1124.6l-5.2 50.4l-39.7 -15.9l3.7 -50.4zM4121.5 1193.2l-11.7 50.4l-37.2 -17.4l10.1 -50.4zM4159.8 1210.3l-13.3 50.4l-36.7 -17.1l11.7 -50.4zM103.2 1210.3l-1.4 50.4l-41.9 -17.1l3.2 -50.4zM227.1 1257.6l3.6 50.4l-43.4 -14.8l-2 -50.4zM311.9 1283.2l6.4 50.3l-43.8 -12l-5.2 -50.3zM354.6 1293.4l7.6 50.3l-43.9 -10.2l-6.4 -50.3zM3789.9 1017.9l5.4 50.3l-42.5 -10.2l-6.5 -50.3zM3833.5 1030l4.2 50.4l-42.4 -12.1l-5.4 -50.3zM3877 1043.5l2.8 50.4l-42 -13.6l-4.2 -50.3zM3920.1 1058.3l1.4 50.4l-41.7 -14.8l-2.8 -50.4zM4087.9 1125.3l-5.2 50.4l-39.4 -17.4l3.5 -50.4zM228.9 1207.3l-1.9 50.3l-41.8 -14.8l3.4 -50.4zM269.8 1220.9l-0.5 50.3l-42.2 -13.6l1.8 -50.3zM311.1 1233l0.8 50.3l-42.6 -12.1l0.5 -50.2zM352.8 1243.2l1.8 50.3l-42.7 -10.3l-0.8 -50.2zM3779.3 967.7l10.6 50.3l-43.6 -10.2l-11.8 -50.3zM3958.2 1023.8l4.7 50.3l-42.8 -15.8l-6.3 -50.4zM4088.4 1075.1l-0.5 50.3l-41.2 -17.4l-1.2 -50.3zM4172.4 1109.7l-4 50.2l-40 -17.1l2.3 -50.3zM121.9 1109.7l-12.1 50.2l-38.3 -17.1l13.8 -50.3zM316.1 1182.9l-5 50l-41.3 -12l6.1 -50.1zM3763.6 917.6l15.7 50.1l-44.7 -10.2l-17 -50zM3948.8 973.7l9.4 50.1l-44.4 -15.8l-11.1 -50.2zM4039.8 1007.5l5.8 50.1l-43.5 -17.2l-7.6 -50.1zM4128.6 1042.5l2.1 50l-42.3 -17.5l-3.9 -50zM139.6 1059.8l-17.6 49.9l-36.7 -17.2l19.3 -50zM4172.1 1059.8l0.3 49.9l-41.7 -17.2l-2.1 -50zM175.4 1076.6l-16 49.8l-37.4 -16.7l17.6 -49.9zM212 1092.6l-14.5 49.8l-38.2 -16l16.1 -49.8zM327 1133.3l-10.8 49.6l-40.2 -12l11.9 -49.7zM3838.8 893.2l17.6 49.8l-46.5 -13.5l-19.2 -49.8zM3934.8 923.9l14 49.8l-46.1 -15.9l-15.8 -49.8zM3982.4 940.6l12.1 49.8l-45.8 -16.7l-13.9 -49.8zM4029.6 957.9l10.2 49.7l-45.3 -17.2l-12.1 -49.8zM162.8 1010.4l-23.2 49.4l-35 -17.2l24.9 -49.6zM4167.7 1010.4l4.4 49.4l-43.5 -17.2l-6.3 -49.6zM232.2 1043.3l-20.2 49.3l-36.6 -16.1l21.6 -49.3zM3717.3 818.4l25.6 49.4l-47.4 -10.1l-27 -49.3zM3766.7 830.3l24 49.4l-47.8 -11.9l-25.6 -49.4zM3916.4 874.6l18.4 49.3l-48 -15.9l-20.3 -49.3zM3966.1 891.3l16.4 49.3l-47.7 -16.7l-18.3 -49.4zM4015.3 908.7l14.3 49.2l-47.2 -17.3l-16.3 -49.3zM4112.1 944.1l10.2 48.9l-46 -17.6l-12.3 -49zM160 944.1l-30.6 48.9l-32.5 -17.6l32.3 -49zM191.7 961.6l-28.9 48.8l-33.3 -17.4l30.5 -48.9zM329.2 1023.7l-23.6 48.4l-37.2 -13.8l24.7 -48.4zM366.5 1035.9l-22.8 48.3l-38.1 -12.1l23.6 -48.4zM3686.9 769.6l30.4 48.8l-48.8 -10l-31.9 -48.7zM3945.6 842.7l20.4 48.6l-49.6 -16.8l-22.6 -48.7zM4098.2 895.9l13.8 48.2l-48 -17.7l-16.1 -48.4zM196.4 895.9l-36.3 48.2l-30.8 -17.7l38 -48.4zM226.4 913.6l-34.6 48l-31.7 -17.5l36.3 -48.2zM358.7 976.3l-29.5 47.4l-36.1 -13.8l30.5 -47.5zM3758.7 746.7l31.1 48.2l-51.7 -13.5l-33.2 -48.2zM3812.9 761.7l28.9 48.1l-52 -14.9l-31.1 -48.2zM3867.2 777.9l26.6 48l-52 -16.1l-28.9 -48zM3921.4 794.9l24.2 47.8l-51.8 -16.9l-26.6 -47.9zM3975.2 812.6l21.9 47.6l-51.5 -17.5l-24.2 -47.8zM238.4 848.7l-42.1 47.2l-29 -17.9l43.8 -47.4zM4081.2 848.7l17.1 47.2l-50.3 -17.9l-19.5 -47.4zM394.1 930.2l-35.4 46.2l-35.1 -14l36.3 -46.3zM430.1 942.5l-34.8 46l-36.7 -12.2l35.4 -46.2zM468.1 952.8l-34.6 46l-38.2 -10.2l34.8 -46zM3893.6 748.1l27.7 46.8l-54.1 -17l-30.4 -47.1zM286.3 802.6l-47.8 46.1l-27.3 -18.1l49.7 -46.4zM4061.3 802.6l19.8 46.1l-52.6 -18.1l-22.5 -46.4zM312.8 820.8l-46.1 45.8l-28.3 -17.9l47.8 -46.1zM470.9 898.1l-40.8 44.4l-36.1 -12.3l41.3 -44.6zM509 908.4l-40.9 44.3l-38 -10.2l40.8 -44.4zM3014.5 838.7l38 41.1l-14.6 41.8l-36.3 -41.8zM3064.7 734.9l42.7 40.8l-20.3 31.2l-41.2 -40.7zM3109.3 682.1l45.8 41.6l-25 24.3l-44.3 -41.2zM3164.6 642.8l48.3 42.8l-30.3 17.3l-47.1 -42.1zM3196.9 628.2l49.3 43.5l-33.2 13.8l-48.4 -42.8zM3232.4 617.1l50 44.1l-36.2 10.5l-49.3 -43.5zM3271.3 609.4l50.3 44.7l-39.2 7.1l-50 -44.1zM3313.5 605l50.3 45.2l-42.2 3.9l-50.3 -44.7zM3359 603.8l49.8 45.7l-45 0.7l-50.3 -45.2zM3407.5 605.7l49 46l-47.7 -2.2l-49.8 -45.6zM3458.8 610.4l47.7 46.3l-50.1 -5l-48.9 -46zM3512.6 617.7l46 46.5l-52.1 -7.5l-47.6 -46.3zM3038.1 668l47.7 38.9l-21.1 28l-45.9 -38.3zM3143.4 586.3l53.5 41.9l-32.3 14.6l-52.3 -41.2zM3216.4 566l54.9 43.4l-38.8 7.8l-54.4 -42.8zM3406.4 565.1l52.4 45.3l-51.3 -4.7l-53.8 -45zM2941.4 728.3l45.2 34.8l-13.1 37.7l-43.6 -34.6zM2954.7 693.1l47 35.2l-15.1 34.8l-45.2 -34.8zM2970 660.8l48.8 35.8l-17.1 31.7l-47 -35.2zM3056.3 562.4l56 39.3l-27.7 18.8l-54.3 -38.4zM3085.9 546l57.5 40.3l-31 15.3l-56.1 -39.3zM3119.3 533.2l58.7 41.2l-34.6 11.9l-57.5 -40.3zM3156.9 523.9l59.5 42.1l-38.4 8.4l-58.7 -41.2zM3198.7 518.1l59.8 42.8l-42.2 5.1l-59.4 -42.1zM2894.1 696.5l47.3 31.8l-11.5 37.9l-45.6 -31.4zM2905.6 660.8l49.1 32.3l-13.2 35.2l-47.4 -31.7zM2918.9 627.7l51.1 33.1l-15.3 32.3l-49.1 -32.3zM2996.9 525.1l59.4 37.3l-26 19.8l-57.4 -36.2zM3092.9 483.3l64 40.6l-37.6 9.3l-62.9 -39.6zM3134.2 476.7l64.5 41.4l-41.9 5.8l-63.9 -40.5zM3231.7 474.1l63.4 42.6l-50.3 -0.9l-64.3 -42.2zM3287.6 477.9l61.8 43l-54.2 -4.2l-63.4 -42.6zM2854.7 631.4l50.9 29.4l-11.5 35.7l-48.9 -28.6zM2865.9 597.4l52.9 30.3l-13.3 33.1l-50.8 -29.4zM2879.1 566.1l55.2 31.4l-15.4 30.2l-53 -30.3zM2989.7 455.9l66.8 37.7l-31.9 14l-64.8 -36.5zM3065 436.8l69.2 39.9l-41.3 6.7l-68.3 -38.9zM3111.3 432.9l69.3 40.7l-46.3 3.1l-69.3 -40zM2795.1 642.4l50.1 25.5l-8.1 38.8l-48.2 -24.8zM2811.6 570.1l54.3 27.3l-11.2 34l-52.1 -26.3zM2822.3 537.6l56.8 28.5l-13.2 31.3l-54.3 -27.3zM2835.2 507.8l59.4 29.8l-15.5 28.5l-56.8 -28.5zM2850.6 480.9l62.2 31.3l-18.2 25.4l-59.4 -29.8zM2869.3 457.2l65.1 32.8l-21.5 22.2l-62.2 -31.3zM3215.9 403.1l67.9 40.1l-62.7 -6.8l-71.3 -40.1zM2749.8 582l52.9 23.1l-7.6 37.4l-50.8 -22.2zM2774.5 480.8l60.7 26.9l-12.9 29.8l-57.7 -25.5zM2802 427l67.3 30.1l-18.7 23.7l-63.8 -28.4zM2821.1 405l70.7 31.8l-22.5 20.3l-67.3 -30.1zM2874.9 372.3l76.9 35.1l-32.8 12.8l-74 -33.5l14.1 -7.7zM2912 362.1l79 36.4l-39.1 8.8l-77 -35zM2957.2 356.3l79.7 37.5l-45.9 4.7l-79 -36.4zM2690.6 642.6l49.3 18l-3.5 42.1l-47.7 -17.3zM2693.2 601.5l51.1 18.8l-4.4 40.3l-49.3 -18zM2706.3 489.8l58.3 22.3l-8.1 33.7l-55.6 -20.9zM2748.1 376l73 29.1l-19.1 22l-68.8 -27.2zM2926.5 318.6l84.6 36.3l-53.9 1.4l-85.4 -35.6zM2992.3 321.2l81.3 36.6l-62.5 -2.9l-84.6 -36.4zM3068.2 328.5l75.7 36.3l-70.4 -7l-81.3 -36.5zM2642.2 586.1l51 15.4l-2.6 41.1l-49.2 -14.6zM2656.6 404.9l65.3 22.1l-8.8 30l-61.5 -20.3zM2663.6 375.9l69.6 23.9l-11.3 27.2l-65.3 -22.1zM2673.6 350l74.5 26l-14.9 23.9l-69.6 -24zM2688.1 327.6l79.7 28.1l-10.5 9.6l-9.2 10.6l-74.4 -25.9l6.5 -11.7zM2835.5 284.2l91 34.3l-54.7 2.2l-91.7 -33.5zM2905.7 286.8l86.5 34.4l-65.7 -2.6l-91 -34.4zM2989.6 294.6l78.7 33.9l-76 -7.3l-86.5 -34.4zM2591.6 574.2l50.6 11.9l-0.8 41.9l-48.9 -11.1zM2590.9 533l52.6 12.9l-1.3 40.2l-50.6 -11.9zM2590.6 420l61 16.7l-3.6 34.3l-57.7 -15.3zM2813.8 254.8l91.9 32l-70.2 -2.6l-98.5 -32zM2909.5 263.6l80.1 31l-83.9 -7.8l-91.9 -32zM2541.5 565.7l50 8.5l0.9 42.7l-48.5 -7.8zM2539 523.6l51.9 9.3l0.7 41.2l-50.1 -8.4zM2536.3 483.1l54.1 10.3l0.5 39.6l-51.9 -9.4zM2530.6 407.1l59.9 12.9l-0.3 35.7l-56.7 -11.5zM2716.7 225.8l97.1 29l-76.8 -2.7l-107.8 -29.4l39.7 0.6zM2832 236.4l77.5 27.2l-95.7 -8.8l-97 -29zM2496.2 604.7l47.8 4.4l2.4 44.7l-46.5 -3.9zM2483.3 476.4l53 6.7l2.7 40.5l-51 -5.8zM2465.8 361.9l62.1 10.2l2.8 35.1l-58.4 -8.9zM2458.7 327.5l66.7 11.8l2.4 32.8l-62.1 -10.3zM2451.4 295.5l72.6 13.7l1.4 30.1l-66.7 -11.8zM2439.1 240.3l90.9 18.6l-3.4 11.1l-1.8 12.2l-80.5 -16zM2439.5 218.7l104.3 21.7l-8.4 8.6l-5.4 9.9l-90.9 -18.6l-0.9 -11.4zM2444 558.9l48.3 1.8l3.9 44l-47 -1.2zM2438.2 515.4l49.9 2.4l4.2 42.8l-48.3 -1.8zM2367.4 255.9l77 10.3l7 29.3l-69.5 -8.5zM2351.3 227.7l87.8 12.6l5.3 25.9l-77 -10.3zM2403 605.3l46.2 -1.8l4.8 45.7l-45.2 2.1zM2396.6 560.3l47.4 -1.4l5.2 44.6l-46.2 1.8zM2270.4 222.6l39.4 1.6l41.5 3.6l16.1 28.2l-71.8 -4zM1715.5 198.8l-38.9 -0.8l-57.9 2.6l85.7 -18.5l95.9 -5.2l60.6 -0.7l-77.6 10.6zM2816.8 198.8l-50.3 -0.8l-14 0.9l-7.2 1.7l-105.9 -10.2l-106.6 -8.3l-10.5 -3.1l-1.7 -1.2l1.3 -0.9l44.7 -0.7l131.6 10.6zM2321.1 436l50.8 -3.5l9.3 41.3l-49.1 3.8zM2308.3 395.9l52.7 -3.2l10.9 39.8l-50.8 3.5zM2293.3 357.5l55.1 -2.9l12.6 38.2l-52.7 3.1zM1741.4 210.1l-1.3 -3.9l-4.3 -3.2l-8 -2.5l-12.3 -1.7l67.8 -12l77.6 -10.6l13.8 1.5l5.2 2.5l-0.8 3.5l-4.6 4.2l-68.6 10.2zM2257.3 402.7l51 -6.8l12.8 40.1l-49.3 6.8zM2220.4 328.1l55.3 -7.2l17.7 36.5l-53 7zM2028 200.4l35.5 -10.2l38.6 -8.3l30.5 8.3l25.2 10.4l-36 5.8l-34 7.8l-27.5 -8.2zM1838.3 210.1l36.3 -22.1l70.5 -7.7l65.7 -4.2l-34.4 10.7l-31.9 11.9l-51.2 4.2zM1726.1 231.5l10.9 -11.7l4.4 -9.6l64.5 -12l68.6 -10.2l-36.2 22.1l-56.4 9.7zM2329.9 1067.8l40.4 -10.2l7.4 50.2l-40.3 10.3zM2323 1017.4l40.5 -10.2l6.8 50.3l-40.4 10.2zM2316.6 967.2l40.7 -10.2l6.3 50.3l-40.5 10.2zM2304.1 867.3l41.3 -10.1l5.8 49.8l-40.9 10.1zM2277.1 673.5l43.3 -9.8l6.8 47.4l-42.6 9.8zM2297.3 1130.1l40.1 -12l8.2 50l-40.1 12.1zM2276.2 979.1l40.4 -12l6.5 50.3l-40.3 12zM2256.6 829.8l41.3 -11.9l6.2 49.4l-40.9 11.9zM2249.7 780.9l41.7 -11.8l6.5 48.8l-41.3 11.9zM2242.3 732.7l42.2 -11.8l6.9 48.2l-41.7 11.8zM2234.3 685.3l42.8 -11.8l7.5 47.4l-42.3 11.8zM2257.4 1143.7l39.8 -13.6l8.2 50.1l-39.9 13.6zM2242.8 1043l40 -13.5l7 50.3l-39.9 13.6zM2236 992.6l40.1 -13.5l6.7 50.3l-40 13.5zM2229.3 942.5l40.3 -13.5l6.5 50.1l-40.1 13.5zM2222.6 892.6l40.6 -13.5l6.5 49.8l-40.4 13.5zM2215.7 843.2l41 -13.5l6.6 49.4l-40.7 13.5zM2200.5 746.2l41.8 -13.5l7.4 48.2l-41.4 13.5zM2225.9 1208.7l39.6 -14.9l8.9 49.7l-39.7 15zM2159 761.2l41.5 -15l7.8 48.2l-41 14.9zM2150 714l42 -15.1l8.6 47.4l-41.5 14.9zM2240.2 1467l40.6 -16.6l15.5 45.2l-41.2 16.9zM2227 1420.3l40.2 -16.4l13.6 46.6l-40.6 16.6zM2186.5 1224.6l39.4 -15.9l8.8 49.7l-39.5 16zM2126.5 825.3l40.8 -16l7.7 48.8l-40.5 15.9zM2117.8 777.3l41.2 -16.1l8.3 48l-40.8 16.1zM2108.2 730.3l41.7 -16.3l9.1 47.2l-41.2 16.2zM2187.1 1437.4l40 -17.2l13.2 46.8l-40.4 17.4zM2175.6 1389.4l39.7 -17l11.8 47.8l-40 17.2zM2165.2 1340.6l39.5 -16.9l10.5 48.7l-39.6 17zM2147.2 1241.3l39.3 -16.7l8.7 49.8l-39.4 16.8zM2085.9 842.2l40.6 -16.9l8.1 48.7l-40.3 16.8zM2076.8 794.4l41 -17l8.7 47.9l-40.6 16.9zM2066.7 747.5l41.5 -17.2l9.6 47l-41 17zM2100 1208.2l39.2 -17.2l8 50.3l-39.2 17.2zM2035.9 812l40.9 -17.7l9.1 47.8l-40.5 17.5zM2119.8 1520.4l40 -18.1l14 46.1l-40.4 18.3zM2086.6 1375.6l39.3 -17.6l10.2 48.9l-39.5 17.8zM2060.9 1225.7l39.1 -17.4l8 50.3l-39.1 17.4zM2045.6 1124.8l39.2 -17.4l7.5 50.4l-39.2 17.4zM2022.5 974.9l39.8 -17.6l7.7 49.7l-39.5 17.5zM2005 877.5l40.4 -17.8l8.8 48.5l-40.1 17.6zM2068 1490.8l39.6 -17.8l12.2 47.4l-39.9 18zM2014 1192.6l39.1 -17.4l7.7 50.4l-39.1 17.4zM2006.4 1142.2l39.2 -17.4l7.5 50.4l-39.1 17.4zM1991 1042l39.5 -17.5l7.7 50l-39.4 17.5zM1982.8 992.4l39.8 -17.6l7.9 49.6l-39.5 17.5zM1954.2 848.1l40.9 -18.1l9.9 47.4l-40.4 17.9zM2028.4 1508.3l39.7 -17.5l11.9 47.6l-39.9 17.7zM2008.1 1410.4l39.3 -17.3l9.8 49.2l-39.4 17.4zM1933.9 961l40.1 -17.5l8.7 48.9l-39.8 17.4zM1924.1 913l40.5 -17.7l9.4 48.2l-40.1 17.5zM1913.2 866l40.9 -17.9l10.5 47.2l-40.5 17.7zM2000 1573.1l40 -17l13 46.8l-40.4 17.3zM1988.6 1525.2l39.8 -16.9l11.6 47.8l-40 17.1zM1968.7 1427.1l39.4 -16.7l9.7 49.3l-39.6 16.7zM1959.8 1377.3l39.3 -16.7l8.9 49.8l-39.3 16.7zM1943.5 1276.8l39.2 -16.6l8 50.3l-39.2 16.6zM1935.7 1226.4l39.2 -16.6l7.8 50.4l-39.2 16.6zM1883.5 930.2l40.6 -17.2l9.8 48l-40.1 17zM1872.1 883.4l41.1 -17.4l10.9 47l-40.6 17.2zM1938.5 1492.4l39.7 -15.9l10.4 48.7l-39.9 16zM1929.2 1443l39.5 -15.9l9.6 49.3l-39.7 16zM1896.4 1242.3l39.3 -15.9l7.8 50.5l-39.3 15.8zM1872.1 1092l39.7 -16l8.2 49.8l-39.5 16zM1842.7 946.6l40.8 -16.4l10.2 47.8l-40.3 16.3zM1830.8 900.1l41.3 -16.6l11.4 46.7l-40.8 16.4zM1817.3 854.9l42 -16.9l12.8 45.4l-41.3 16.6zM1919.3 1604.3l40.5 -15l12.3 47.2l-40.9 15.1zM1898.6 1507.2l40 -14.8l10.1 48.8l-40.2 14.9zM1880.8 1408l39.6 -14.8l8.7 49.8l-39.7 14.8zM1812.9 1009.4l40.5 -15.2l9.7 48.6l-40.1 15zM1801.7 961.9l41 -15.3l10.7 47.6l-40.5 15.2zM1789.2 915.6l41.6 -15.5l11.9 46.5l-41 15.3zM1832.9 1371.4l39.8 -13.5l8.1 50.1l-39.8 13.5zM1772.1 1023.2l40.8 -13.8l10.1 48.4l-40.4 13.8zM1760.4 975.9l41.3 -13.9l11.2 47.5l-40.8 13.8zM1747.2 929.7l42 -14.1l12.5 46.3l-41.3 14zM1837 1629.6l41.4 -11.8l11.5 47.4l-41.8 11.8zM1826.9 1581.4l41 -11.9l10.5 48.2l-41.4 11.9zM1817.6 1532.6l40.7 -11.9l9.6 48.9l-41 11.8zM1718.7 988.1l41.7 -12.2l11.7 47.3l-41.1 12.2zM1795.1 1639.5l42 -9.9l11 47.4l-42.5 9.8zM2660.9 2059.6l-21.4 -10l-15.7 -13.2l42.6 -30.4l15.9 13.9l20.5 10.6zM2616.1 2087.2l-22.8 -9.1l-8.7 -5.8l-7.1 -6.8l46.3 -29.1l15.7 13.3l21.4 9.9zM2759.3 2042.5l-30.9 -4.5l-25.6 -7.5l39.2 -30.4l24.4 8.1l28.6 5.3zM2722.9 2069.7l-34.3 -3.4l-27.7 -6.7l41.9 -29.1l25.7 7.5l30.8 4.5zM2494 2152.3l-22.1 -4.2l-5.7 -3.3l-2.9 -3.9l54.6 -13.4l50.6 -14.6l4.3 4.1l6.4 3.4l19.8 4.8l-50 14.1zM2864.6 2016l-36.7 -0l-32.8 -2.6l34.4 -30.6l30.5 3.2l33.7 0.8zM2836.5 2043.1l-41 1.1l-36.1 -1.6l35.7 -29.1l32.8 2.6l36.7 -0zM2589.6 2150.6l-56.5 2.6l-39.1 -0.9l55 -13l50 -14l30.4 2l41.6 -0.9zM2930.9 2033.8l-49 5.7l-45.4 3.6l28.1 -27l40.2 -2.3l43.4 -4.4zM2884.7 2064.4l-39.7 2.7l-33.8 0.4l25.3 -24.4l45.4 -3.5l49 -5.8zM2737.6 2136.8l-78 8.2l-70 5.6l81.3 -24.2l51.7 -3.6l59.8 -6.1zM3053.1 1970.5l-84 11.7l22.9 -29.8l76.2 -9.8zM2978.2 2052.5l-93.5 11.8l46.2 -30.5l38.3 -3.3l42.2 -5.4zM2944.7 2077.2l-110.6 15l50.5 -27.8l93.5 -11.9zM3142.4 1953.2l-89.3 17.3l15.2 -27.9l80.7 -15.2zM3124.6 1981.9l-82.8 13.4l11.3 -24.8l89.3 -17.3zM3104.5 2008.7l-93.1 16.3l30.4 -29.7l82.8 -13.5zM3083.9 2033.4l-105.8 19.2l33.3 -27.5l93.1 -16.3zM3056.9 2087.7l-156.9 27.2l5.5 -7.6l10.3 -9l138.7 -24.7l-1 7.7zM1278.9 2087.7l86.3 27.2l-137.4 -16.6l-62.5 -24.7zM3234.7 1881.1l-75.7 17.3l12 -31.9l69.1 -15.7zM3224.8 1935.6l-82.4 17.6l6.5 -25.8l83.3 -19.3zM3204.4 1986.1l-99.9 22.6l20.2 -26.8l90.4 -20.2zM3194.6 2008.4l-110.7 25l20.6 -24.6l99.9 -22.7zM3188.5 2028l-122.7 27.2l18.1 -21.8l110.7 -25zM3311.5 1912.1l-86.6 23.5l7.3 -27.5l80.5 -21.2zM3308.8 1936.1l-93.7 25.7l9.7 -26.2l86.7 -23.5zM3306.1 1958.4l-101.7 27.7l10.7 -24.4l93.8 -25.7zM3388.9 1836l-77.5 24.6l-1.4 -28.3l70.1 -21zM3394.9 1860.2l-82.2 26.6l-1.4 -26.2l77.6 -24.6zM3399.1 1883.6l-87.6 28.4l1.2 -25.2l82.2 -26.6zM3406.1 1926.7l-100 31.8l2.7 -22.4l93.6 -30.2zM3411.7 1945.6l-106.7 33.2l1.1 -20.4l100 -31.7zM3421 1962.2l-113.3 34.5l-2.8 -17.9l106.8 -33.2zM857.2 1962.2l66.1 34.5l-98.3 -17.9l-56.5 -33.2zM941.9 1976l75.2 35.6l-93.7 -14.9l-66.2 -34.5zM3436.3 1976l-119 35.6l-5.8 -7.1l-3.7 -7.8l113.3 -34.5l6.7 7.3zM3493.4 1872.1l-91 33.8l-3.4 -22.3l86.1 -32.4zM3460.1 1640l-49.3 16.9l-12.2 -40.7l45.4 -15.1zM3488 1708.4l-58.5 20.7l-8.9 -34.5l53.7 -18.8zM3568 1815.4l-82.9 35.8l-8.7 -22l79 -34.6zM3608.1 1870.8l-95.1 38.6l-10.7 -17.8l91 -37.7zM651.7 1870.8l58.3 38.6l-83.4 -17.8l-52 -37.7zM3509.5 1621.8l-49.4 18.2l-16 -38.9l45.6 -16.2zM3662.2 1796l-81.9 39.3l-12.3 -19.8l78.5 -38.5zM3696.6 1830.1l-88.4 40.7l-14.8 -17l85.3 -40zM595.1 1830.1l56.6 40.7l-77.1 -17l-51.4 -40zM665.4 1844.6l61.5 41.2l-75.2 -15l-56.6 -40.7zM3509.6 1529.8l-42.7 15.4l-27.3 -41.8l40.3 -13.6zM3661.5 1677.4l-65.6 38.5l-20.1 -20.6l63.5 -37.6zM3682.1 1697.3l-68 39.3l-18.1 -20.7l65.6 -38.5zM3738.5 1754.6l-76.3 41.4l-15.7 -19l73.4 -40.8zM3757.7 1771.8l-79.1 42l-16.4 -17.9l76.3 -41.4zM607.3 1801.8l58.1 42.8l-70.3 -14.5l-54 -42.4zM671.5 1813.8l61.8 43l-68 -12.2l-58.1 -42.8zM733.2 1823.5l64.9 43.1l-64.8 -9.8l-61.8 -43zM3698.6 1617.4l-59.2 40.3l-24.2 -19.3l57.6 -39.6zM3766.9 1674.8l-65.6 42.1l-19.3 -19.6l63.3 -41.6zM3809 1711.4l-70.4 43.2l-18.6 -18.4l68 -42.7zM3830.5 1728.2l-72.8 43.6l-19.2 -17.3l70.5 -43.2zM426.5 1728.2l47.1 43.6l-68.3 -17.3l-43.2 -43.2zM673.2 1779.2l60 44.3l-61.7 -9.7l-57.3 -44.3zM3803.4 1612.3l-58.1 43.4l-22.6 -19.2l56.1 -43zM3897 1683.2l-66.5 45l-21.6 -16.9l64.5 -44.6zM382.7 1683.2l43.8 45l-64.3 -16.9l-40.5 -44.6zM443.2 1698.5l47.1 45.2l-63.8 -15.5l-43.9 -45zM3676.7 1465.9l-45 42.7l-36 -12.8l44.9 -42.5zM3742.9 1496.1l-46.5 43.5l-31.2 -16.2l45.6 -43.1zM3906.9 1603.5l-56.6 45.7l-23.2 -18.2l54.6 -45.4zM513.3 1677.5l48.1 46.5l-58.5 -11.8l-45.6 -46.5zM567.9 1687.3l50.2 46.4l-56.7 -9.7l-48.1 -46.5zM3522.5 1421.6l-19.9 33.9l-22.7 34.4l-40.3 13.5l23.4 -34.2l20.4 -33.7zM3641.4 1398.7l-39.3 44.3l-41 16.6l21.3 -34.5l18.7 -34.1zM3502.7 1318.8l-11.3 31.6l-13.3 32.1l-38.2 12.4l13.4 -31.8l11.4 -31.3zM3540.6 1305.1l-11.1 31.9l-13.1 32.3l-38.3 13.3l13.3 -32.1l11.3 -31.6zM3621 1292.4l-27.9 47.6l-38.4 15.1l12.8 -32.6l10.9 -32.1zM3482 1270.7l-17.4 61.2l-38.2 12.2l17.3 -60.3zM3683.6 1249.2l-21.3 48.4l-41.3 -5.1l21.5 -48.6zM3723.8 1257.1l-21.5 48.3l-40 -7.8l21.3 -48.4zM3573.9 1192.5l-7.3 25.1l-9 25l-37.6 14.4l11.2 -60.2zM3422.4 1183l-6.3 55.8l-39.7 13.4l6.2 -54.6zM3499.6 1153.5l-6.2 57.8l-38.3 14l6.3 -56.9zM3667 1144.7l-9.2 49.9l-41.7 -2.7l9.3 -50.1zM3385 1144.4l-2.3 53.2l-40.8 14.9l2.4 -51.8zM3424.7 1128.5l-2.2 54.5l-39.8 14.6l2.3 -53.2zM3504.3 1101.7l-1.5 25.9l-3.2 25.9l-38.2 14.9l2 -55.6zM3586.9 1091.4l-3.3 50.7l-41.9 3.7l2.7 -25.5l1.1 -25.6zM3628.5 1091.4l-3.2 50.4l-41.8 0.2l3.3 -50.6zM3712.2 1100.2l-3.7 50.1l-41.4 -5.6l3.3 -50.2zM3423.4 1075.2l1.3 53.4l-39.6 15.9l-1.1 -52.2zM3462.5 1060.5l1.3 26.1l-0.4 26.1l-38.8 15.8l-1.3 -53.4zM3502.4 1050.2l1.8 25.7l0.1 25.8l-40.8 11.1l0.4 -26.2l-1.3 -26zM3584.1 1040.7l2.8 50.7l-41.4 3.3l-2.5 -51zM3625.8 1040.9l2.8 50.5l-41.7 -0.1l-2.8 -50.6zM3667.9 1044.1l2.4 50.3l-41.8 -3l-2.7 -50.5zM3710.3 1049.9l1.9 50.3l-41.9 -5.7l-2.4 -50.4zM3298.9 1079.8l3 48.6l-43.2 19.9l-2.3 -47zM3417 1022.7l4 26.1l2.3 26.3l-39.3 17.1l-4.1 -51.3zM3455.1 1008.9l7.5 51.7l-39.2 14.6l-2.4 -26.3l-4 -26.1zM3494.2 999l8.2 51.1l-39.8 10.4l-7.5 -51.7zM3617.3 990.5l8.5 50.4l-41.7 -0.2l-8.7 -50.6zM3702.9 999.6l7.4 50.3l-42.4 -5.8l-8.1 -50.3zM3251.9 1054.6l4.5 46.7l-44.2 23.7l-3.5 -45.3zM3441.5 957.9l13.6 51l-38 13.8l-12.8 -51.5zM3480 948.4l14.2 50.6l-39.1 9.9l-13.7 -51zM3519.9 942.5l14.4 50.4l-40.1 6.2l-14.2 -50.7zM3561 939.9l14.4 50.3l-41.1 2.7l-14.4 -50.4zM3603.2 940.3l14.1 50.2l-41.9 -0.3l-14.4 -50.3zM3690.1 949.4l12.8 50.2l-43.1 -5.8l-13.6 -50.2zM3203.3 1034.7l5.4 45.1l-44.9 28.3l-4 -43.9zM3245.3 1008.2l6.6 46.4l-43.2 25.2l-5.4 -45.2zM3350.7 937.5l17.8 51.1l-34.5 21.8l-7.5 -26.1l-9 -25.8zM3422 907.7l19.5 50.2l-37.2 13.3l-18.8 -50.5zM3460.1 898.4l19.9 50l-38.6 9.5l-19.5 -50.2zM3541.1 890l19.9 49.9l-41.1 2.6l-20 -49.9zM3583.7 890.4l19.5 49.9l-42.2 -0.4l-19.9 -49.9zM3717.6 907.4l17 50.1l-44.4 -8.2l-18.1 -50zM3153.8 1020.2l5.9 44l-45.3 33.5l-4.2 -43zM3295.1 908.3l22.4 50.3l-31.6 25.5l-21 -51.1zM3327.1 887.8l23.5 49.8l-33.1 21l-22.4 -50.3zM3361.1 871.2l24.4 49.5l-34.8 16.9l-23.5 -49.8zM3434.8 849.1l25.4 49.3l-38.2 9.3l-25 -49.3zM3474.4 843.2l25.4 49.3l-39.7 5.9l-25.4 -49.3zM3603.3 844l24.1 49.6l-43.7 -3.2l-24.8 -49.5zM3648.9 849.7l23.2 49.7l-44.7 -5.8l-24.1 -49.6zM3695.6 857.7l22 49.7l-45.4 -8l-23.2 -49.7zM3104.2 1011.4l6 43.3l-45.3 39.6l-4.1 -42.8zM3186.5 944.5l9.4 45.1l-42.1 30.6l-7.7 -44.1zM3366.6 810l30.3 48.4l-35.9 12.8l-29.7 -48.4zM3404.1 800.6l30.6 48.5l-37.8 9.2l-30.3 -48.3zM3136.4 931.8l9.7 44.2l-41.9 35.4l-7.8 -43.5zM3157.9 896l28.6 48.5l-40.4 31.6l-9.7 -44.3zM3181.3 864.3l30.2 47.7l-25 32.5l-28.6 -48.5zM3368.4 753.1l35.7 47.5l-37.5 9.4l-35.3 -47.3zM3449.8 743.7l35.6 48l-41.7 2.9l-35.8 -47.8zM3539.8 746.4l34.3 48.5l-45.2 -3l-35.1 -48.3zM3587.5 751.8l33.2 48.6l-46.6 -5.5l-34.3 -48.5zM3636.7 759.6l31.9 48.8l-47.8 -7.9l-33.2 -48.7zM3086.8 924.1l9.7 43.7l-41.4 40.6l-7.6 -43.3zM3104.7 885.2l31.7 46.6l-40 36.1l-9.7 -43.8zM3170.5 791.2l36.3 45.3l-25.5 27.8l-34.8 -45.5zM3225.6 746.8l38.6 45.5l-29.8 20.2l-37.6 -45.3zM3327.8 706.6l40.6 46.5l-37.1 9.6l-40.2 -46.1zM3367.2 700l40.8 46.9l-39.6 6.2l-40.6 -46.5zM3409.2 696.5l40.6 47.2l-41.9 3.1l-40.7 -46.9zM3549.4 703.9l38.1 48l-47.7 -5.4l-39.2 -47.8zM3052.5 879.7l34.3 44.4l-39.3 41l-9.5 -43.6zM3068.8 841.6l35.9 43.6l-18 39l-34.2 -44.4zM3130 748l40.5 43.2l-24 27.7l-39.1 -43.2zM3155 723.7l41.8 43.5l-26.3 24l-40.5 -43.2zM3182.6 702.9l43 43.9l-28.8 20.4l-41.8 -43.5zM3321.6 654.1l45.6 45.8l-39.4 6.7l-45.4 -45.4zM3456.5 651.7l44.1 47l-46.8 -2.6l-45 -46.6zM3558.6 664.2l41.4 47.3l-50.6 -7.6l-42.9 -47.2zM3001.6 879.7l36.4 41.8l9.5 43.6l-57.1 -41zM2959.8 1020.1l52.4 34.5l3.6 43.1l-51.1 -33.6zM2944.3 931.7l55.3 36.1l7.2 43.5l-53.8 -35.4zM2962.1 841.5l39.5 38.2l-11.2 44.4l-38 -39zM2911.8 850l40.6 35.1l-8.1 46.6l-39.3 -35.9zM2870.5 1054.5l48.2 25.2l2.5 45.2l-46.8 -23.7zM2863.7 864.1l41.3 31.7l-5.2 48.5l-40.1 -32.5zM2869.2 818.7l42.6 31.3l-6.7 45.9l-41.4 -31.8zM2817.9 883.5l41.8 28.3l-2.6 49.9l-40.8 -29zM2820.8 836.3l42.9 27.8l-4 47.7l-41.8 -28.3zM2776.8 1010.2l46.4 21.3l5.3 48.1l-45 -20zM2774.8 958.3l41.3 25.5l7.2 47.7l-46.5 -21.3zM2774.9 859.4l43 24.2l-1.7 49.2l-42 -24.7zM2776.8 812.3l44 24l-2.9 47.2l-43 -24.2zM2779.7 767l45.3 24l-4.2 45.3l-44.1 -24zM2731.2 839.1l43.7 20.3l-0.7 48.7l-42.8 -20.6zM2732 792.1l44.8 20.3l-1.9 47l-43.7 -20.3zM2713.3 1182.7l39.4 14.7l1.2 54.5l-37.9 -13.4zM2709.1 1128.3l40.8 15.9l2.8 53.3l-39.4 -14.7zM2697.3 1022.4l41.9 18.3l6.2 51.3l-42.2 -17.2zM2688 870.9l43.3 16.6l1.3 49.8l-42.7 -16.9zM2687 822.6l44.2 16.5l0.1 48.4l-43.3 -16.6zM2686.9 775.5l45.2 16.6l-0.9 47l-44.1 -16.5zM2678.5 1225l37.5 13.6l1.4 57.4l-36.1 -12.5zM2674.4 1168l38.9 14.7l2.7 55.8l-37.5 -13.6zM2668.8 1112.5l40.3 15.8l4.2 54.5l-38.9 -14.7zM2647 907.4l42.9 13l3.1 50.5l-42.5 -13.3zM2641.6 762.4l45.3 13.1l0.2 47.1l-44.4 -12.9zM2641 671.4l47.7 13.9l-1.2 44.3l-46.4 -13.4zM2619 1049.8l42.1 10.4l7.7 52.3l-42.3 -11.2zM2612.9 998.7l42.2 9.9l6 51.6l-42.1 -10.4zM2608 948.1l42.5 9.5l4.7 51l-42.3 -9.9zM2598.4 800.3l44.3 9.4l1.8 48.3l-43.6 -9.2zM2594.8 706.3l46.3 10l0.5 46.1l-45.2 -9.6zM2593.5 660.9l47.5 10.5l0.1 44.8l-46.3 -10zM2576.9 1043.3l42.1 6.5l7.5 51.5l-42.2 -7zM2565.6 942.1l42.5 6l4.9 50.6l-42.2 -6.2zM2557.5 842.9l43.4 5.9l3.2 49.3l-42.9 -5.9zM2554.3 794.3l44.1 6l2.5 48.5l-43.4 -5.9zM2551.4 746.5l44.9 6.3l2 47.5l-44.1 -6zM2548.8 699.6l45.9 6.7l1.6 46.5l-44.9 -6.3zM2584.6 1368.9l33.3 13.3l3.8 65.7l-32.3 -12.9zM2579.7 1304.7l34.4 13.8l3.8 63.7l-33.3 -13.3zM2542.5 1091l41.9 3.3l9 51.1l-42.1 -3.7zM2523.3 939.4l42.3 2.6l5.1 50.5l-42 -2.8zM2518.6 889.6l42.6 2.6l4.4 49.9l-42.3 -2.6zM2514.3 840.2l43.2 2.7l3.7 49.3l-42.7 -2.6zM2510.5 791.4l43.8 2.9l3.2 48.6l-43.2 -2.7zM2503.4 696.2l45.5 3.5l2.6 46.8l-44.6 -3.1zM2499.9 649.9l46.5 3.9l2.5 45.8l-45.5 -3.4zM2557 1421.2l32.4 13.9l5.5 68l-31.8 -13.6zM2551.3 1354.7l33.4 14.2l4.7 66.1l-32.4 -13.8zM2500.8 1091l41.6 -0l8.8 50.7l-41.8 -0.3zM2487 990.1l41.8 -0.4l6.3 50.6l-41.7 0.2zM2481.3 939.9l42 -0.4l5.4 50.3l-41.7 0.3zM2471.5 840.5l42.8 -0.3l4.2 49.4l-42.3 0.4zM2467.1 791.5l43.4 -0.1l3.8 48.7l-42.8 0.3zM2454 649.1l45.9 0.8l3.5 46.2l-44.9 -0.4zM2524.4 1406.3l32.6 14.8l6.1 68.3l-31.9 -14.6zM2477.7 1194.1l41.8 -2.6l11.8 49.6l-42.3 2.3zM2408.8 651.3l45.2 -2.2l4.5 46.7l-44.3 2.4zM2436.3 1199.5l41.4 -5.5l11.3 49.4l-41.8 5.3zM2404.4 999.1l41.1 -5.8l6.6 50.3l-41 5.8zM2398.3 948.9l41.4 -5.8l5.9 50.2l-41.2 5.8zM2387.1 849.2l42 -5.7l5.1 49.6l-41.6 5.8zM2381.6 800l42.5 -5.5l5 49.1l-42.1 5.6zM2370.4 703.4l43.7 -5.2l5.1 47.8l-43.1 5.4zM2448.1 1398.2l43.5 -7.7l7.5 68.6l-32.2 -16.6zM2386 1157.9l40.8 -8.1l9.5 49.8l-41 8zM2370.3 1057.6l40.7 -8.1l7.4 50.3l-40.7 8.1zM2363.6 1007.2l40.8 -8.1l6.7 50.3l-40.7 8.1zM2351.3 906.9l41.3 -8.1l5.7 50.1l-41 8.1zM2345.4 857.2l41.6 -8l5.5 49.7l-41.3 8zM2423.1 1452.9l43.8 -10.3l32.2 16.6l-55.4 36.1zM2421.9 1548.6l53.7 -35.7l31.8 16.5l-53.6 37.7zM2466.4 1639.6l51.3 -38.8l32.1 15.1l-50.7 40.7zM2434 1621.4l51.8 -36.9l31.9 16.3l-51.3 38.8zM2401.8 1602l52.1 -34.9l31.9 17.4l-51.7 36.9zM2449.6 1694.2l49.5 -37.7l33.2 15.6l-48.7 39.5zM2333.9 1580.5l43.5 -16.7l24.4 38.2l-44.9 17.4zM2313.8 1539.1l42.5 -16.2l21.1 40.9l-43.6 16.7zM2296.3 1495.6l41.6 -15.8l18.4 43.1l-42.5 16.2zM2291.1 1598.3l42.8 -17.8l22.9 38.9l-43.9 18.5zM2387.6 1781.1l47.9 -33.1l35.9 17.4l-46.9 34.9zM2293.7 1694.9l44.3 -20.2l28.7 33.3l-45.8 21.4zM2269.9 1657.2l43.1 -19.3l25 36.8l-44.3 20.2zM2305.7 1783.1l46.3 -23.1l35.7 21.1l-48.1 29.8l-17.5 -13.3zM2276.1 1751l44.8 -21.7l31.1 30.6l-46.3 23.2zM2250.1 1715.4l43.5 -20.6l27.2 34.5l-44.8 21.7zM2227.4 1676.9l42.5 -19.7l23.8 37.6l-43.5 20.6zM2207.3 1636l41.7 -19.1l20.9 40.3l-42.5 19.7zM2414.1 1898.1l45.7 -31.9l46.2 12.1l-44.2 33.2zM2292.7 1835.6l46.9 -24.7l37.8 21.1l-47.7 28.3l-19.2 -11.7zM2260.4 1806.1l45.3 -23l16.4 14.4l17.5 13.3l-46.9 24.7zM2207.2 1736.1l42.9 -20.7l26 35.6l-44 21.7zM2185.3 1696.8l42.1 -19.9l22.8 38.6l-43 20.6zM2165.9 1655.2l41.4 -19.2l20 40.9l-42 19.9zM2246.8 1859.8l45.9 -24.2l17.8 13l19.1 11.6l-47.5 26.2l-18.2 -12.7zM2164.7 1756.6l42.6 -20.4l24.8 36.6l-43.4 21.4zM2143.5 1716.5l41.8 -19.7l21.9 39.3l-42.5 20.5zM2124.7 1674.3l41.2 -19.1l19.4 41.6l-41.8 19.7zM2108.1 1630.4l40.7 -18.6l17.1 43.4l-41.1 19.1zM2093.2 1585l40.2 -18.3l15.3 45l-40.7 18.7zM2424.7 1981.9l46.2 -29.7l30 2.5l32.1 0.8l-44.3 31.1l-33.1 -1.4zM2274.4 1935.2l48.2 -27.5l44.6 19.4l-48.3 25.7l-23 -8zM2145.5 1814.9l43.2 -20.8l27.2 34.6l-44.1 22zM2067.4 1648.6l40.6 -18.2l16.7 43.9l-41.1 18.6zM2319.3 1995l49.4 -24.9l27.1 6.7l28.9 5.1l-48.6 27.2l-29.3 -6.2zM2042.4 1710.9l41.2 -17.9l18.2 42.7l-41.7 18.4zM2470.1 2042.4l48 -29l42.7 -5.2l45.6 -8.1l-44.2 30.4l-47.7 7.5zM2269.7 2024.7l49.6 -29.7l27.4 7.9l29.4 6.2l-51.1 24.3l-28.6 -3.3zM2221.7 2008.4l48.3 -26.8l23.8 7.6l25.5 5.8l-49.6 29.8l-24.8 -7.3zM2143.5 1958l46 -22.4l18.1 13.5l19.4 12.2l-47.1 24.4l-18.8 -13.3zM2111.7 1926.3l45 -20.8l32.8 30.2l-46 22.4zM2001 1727.7l41.4 -16.9l17.7 43.2l-42 17.3zM2514.1 2059.5l48.1 -29.1l50.8 -10.6l53.4 -13.8l-42.5 30.4l-56.4 13.2zM2337.9 2067.2l53.6 -24.4l37.6 1.2l41 -1.6l-52 27.2l-42 0.2zM2274.9 2064.1l50.1 -30.6l31.9 5.8l34.6 3.6l-53.6 24.3l-32.6 -0.4zM1994.4 1829.6l43 -16.3l21.7 40l-43.7 17zM1959.2 1743.2l41.8 -15.5l17.1 43.6l-42.3 15.9zM2461.3 2087.1l52.8 -27.6l53.4 -9.9l56.3 -13.2l-46.3 29.1l-59.8 12.6zM2170.2 2076.8l50.1 -24.7l26.2 7l28.3 4.9l-50.5 27.9l-28.1 -6.6zM2050 1996.3l47.2 -17.9l35.4 29.6l-48.3 19.6zM2020.1 1961.8l46.2 -16.6l30.9 33.2l-47.2 17.9zM1932.8 1801.3l42.9 -14.1l18.7 42.4l-43.7 14.5zM2236.8 2126.2l51.2 -28l35.6 -0.6l38.1 -3.2l-47.2 30.7l-40.5 2zM2118.3 2098l51.9 -21.2l25.9 8.6l28.2 6.5l-52.3 24.5l-28 -8.3zM2073.1 2073.3l50.9 -18.4l22.2 11.7l24 10.3l-51.9 21.1l-23.5 -11.7zM2034.6 2044l49.8 -16.4l19.1 14.2l20.6 13.1l-50.9 18.4l-20.1 -14.2zM1972.7 1975.6l47.5 -13.8l29.9 34.5l-48.7 14.9zM1947.6 1937.8l46.4 -13.1l26.1 37.1l-47.4 13.9zM1860.3 1723.5l42.4 -11.9l14.2 45.5l-43 11.9zM2116.1 2136.5l28.7 -9.4l27.3 -10.7l30.8 6.1l33.9 3.7l-54.8 24.1l-34.9 -5.6zM2063 2114.6l55.3 -16.6l25.7 10.2l28.1 8.3l-27.4 10.7l-28.6 9.3l-27.9 -10.1zM1950.6 2022.5l50.8 -11.3l33.1 32.8l-52.3 12.4zM1878.9 1907.8l46.7 -9.9l22 39.8l-47.9 10.2zM1844.4 1823.1l44.7 -9.7l17.1 43l-45.6 9.8zM1817.2 1733.3l43.1 -9.7l13.6 45.5l-43.8 9.7z"/>
<path fill="#00b9ff" d="M831.2 1634.7l48.3 44.8l-35.3 10.5l-49 -45.3zM864.3 1621.3l47.4 44.3l-32.1 13.9l-48.4 -44.8zM881.7 1538.7l40.2 45.3l-27.4 20.4l-41.5 -45.4zM740.5 1362.6l19.4 51.1l-34.2 16.9l-20.5 -50.6zM767.3 1291.4l7.1 49.4l-33.9 21.9l-7.2 -26l-5.6 -26.3zM988.5 1167.9l0.9 42.6l-46.6 32.6l-2.6 -43.9zM681.8 1222.7l1.9 53.4l-38.9 14.6l-1.7 -26l0.1 -26.2zM502.4 787.2l-52.9 40.9l-30.4 -16.2l53.9 -41.4zM444.1 654.2l-66.5 41.6l-20.2 -19.1l69.1 -42.2zM3926.5 654.2l27.8 41.6l-62.2 -19.1l-31.6 -42.2zM620.3 621.7l-70.2 34.5l-18.3 -20.6l72.8 -35.6zM721.4 735.2l-46.4 15.1l-13.4 -38.8l50.5 -17zM1569.9 263.9l-29.6 -5.4l-39.4 -1.9l47.2 -15.8l51 -14.9l18.2 4.8l5.2 3.4l3 4.1zM1128.3 670.9l-22.5 -3.6l-22.5 -1.3l23.3 -44.2l23.4 3l22.6 5.5zM1704.9 308.5l58.7 -27.2l42.1 -0.3l37.6 2.6l-59.5 24.4l-37.5 -1.1zM1650.5 337.5l54.4 -29l41.4 -1.6l37.4 1l-56.2 27l-36.8 0.1zM1708.6 675.2l52.3 -32.6l26 33.3l-46.9 19.4zM1539.4 597.2l48 -40.4l38.2 13.1l-49.5 39.3zM1500.2 587.5l46 -41l41.2 10.3l-48 40.4zM1454 631.3l46.2 -43.8l39.2 9.6l-48.5 43.3zM1371.1 620.8l39.3 -43l47.3 2.9l-43.2 43.8zM1632.6 766.1l54.2 -36.9l30.9 19.3l-54.2 35zM1469.1 1492.6l44 9.3l5.1 48.4l-44.9 -9.3zM1464.4 1443.3l43.3 9.3l5.4 49.3l-44 -9.3zM1334.9 1392.4l42.8 21l3.2 49.8l-43.6 -20.5zM1874.5 2147.8l51.8 4.6l47.2 2l25.9 11.6l30.4 10.4l-63.5 -2.8l-71.1 -6.4zM1386.6 1648.1l49 17.3l1.7 42.8l-50.8 -17.9zM1335.8 1668.9l50.7 21.4l-0.9 40.3l-52.7 -22.1zM729.5 1786.3l62.1 44.2l-58.4 -7l-60 -44.4zM782.7 1790.7l63.7 43.9l-54.7 -4.1l-62.1 -44.2zM3884.5 1438l-38.5 47l-30.3 -17.4l37.1 -46.8zM375.4 1394l18.8 50.1l-46.4 -10.2l-17.5 -50.1zM4109.8 1243.6l-16.7 50.3l-35.5 -17.4l15 -50.3zM366.9 1143.5l-10 49.7l-40.7 -10.2l10.8 -49.7zM3742.9 867.8l20.7 49.8l-46 -10.1l-22 -49.8zM268.4 1058.4l-18.9 49.2l-37.5 -15l20.2 -49.3zM296.3 884l-38.8 46.8l-31.1 -17.2l40.3 -47zM3018.7 696.6l46 38.3l-18.8 31.4l-44.3 -38zM3244.9 515.8l59.5 43.4l-45.9 1.8l-59.7 -42.9zM3295.2 516.8l58.6 43.9l-49.4 -1.5l-59.5 -43.4zM2919.1 420.2l70.6 35.7l-29.9 15.2l-68 -34.2zM2951.9 407.3l72.7 37.1l-34.9 11.5l-70.6 -35.8zM2525.4 339.4l68.6 16.3l-2.4 30.9l-63.8 -14.5zM2350.1 564.7l46.5 -4.4l6.4 45l-45.4 4.7zM1944.5 198.7l31.9 -11.9l34.4 -10.7l52.4 0.7l38.9 5.1l-38.6 8.4l-35.5 10.1l-38.3 -2.5zM2363.4 1420.8l42 -12.4l17.8 44.5l-43 12.5zM2335.8 1327.3l40.9 -12.2l13.3 47.4l-41.3 12.2zM2314.4 1229.8l40.3 -12.1l10.3 49.1l-40.5 12.1zM2321.9 1434.9l41.5 -14.1l16.8 44.6l-42.2 14.4zM2208.4 794.4l41.3 -13.5l7 48.9l-41 13.4zM2196.1 1007.4l39.9 -14.8l6.8 50.3l-39.7 14.8zM2021.8 1243.1l39.1 -17.4l8 50.3l-39.1 17.4zM1911.8 1076l39.6 -16.8l8 49.9l-39.4 16.7zM1893.8 978l40.2 -17l9 48.8l-39.8 16.9zM1856.9 1257.1l39.5 -14.9l7.8 50.5l-39.5 14.8zM1849.4 1471.3l40 -13.5l9.2 49.4l-40.3 13.5zM1817.2 1270.7l39.7 -13.6l7.8 50.4l-39.7 13.6zM2687 2094.6l-39.9 -1.9l-31 -5.5l44.8 -27.6l27.6 6.7l34.4 3.4zM3535.5 1567.5l-45.8 17.4l-22.7 -39.7l42.7 -15.4zM3829.7 1548.9l-50.9 44.6l-25.8 -18.5l49.2 -44.3zM3702.2 1305.4l-27.4 47.3l-40 -7.8l27.4 -47.3zM3463.4 1112.8l-2.1 55.6l-38.9 14.7l2.2 -54.5zM3545.4 1094.7l-1.1 25.6l-2.7 25.5l-42.1 7.7l3.3 -25.9l1.5 -25.9zM3575.4 990.1l8.7 50.6l-41.2 2.9l-8.6 -50.8zM3331.3 762.7l35.4 47.3l-35.3 12.9l-34.8 -47.2zM3291 716.5l40.2 46.1l-34.7 13.1l-39.5 -45.8zM2823.3 1031.5l47.3 22.9l3.8 46.7l-45.9 -21.5zM2816.1 983.8l48.7 24.2l5.7 46.4l-47.2 -22.9zM2788.3 1109.7l43.6 18.6l1.6 49.2l-42.2 -17zM2774.2 908l42 24.7l-0.1 51.1l-41.3 -25.5zM2688.7 685.3l47.7 17.4l-2.6 43.8l-46.4 -16.9zM2644.5 858l43.6 12.9l1.9 49.4l-42.9 -13zM2642.7 809.7l44.3 12.9l1 48.3l-43.5 -12.8zM2419.2 746l43.6 -2.7l4.3 48.2l-43 3zM2405.9 1256.6l41.3 -7.9l12.6 48.4l-41.8 7.8zM2416.2 1942.2l45.7 -30.7l53 8.6l-44 32l-28.2 -4.2zM1923.4 1986.2l49.3 -10.6l28.7 35.5l-50.8 11.4z"/>
<path fill="#808080" d="M894.5 1604.4l46.2 43.9l-29 17.3l-47.4 -44.3zM921.9 1584l44.7 43.5l-26 20.8l-46.1 -43.9zM946.8 1560l43.2 43.2l-23.3 24.3l-44.8 -43.5zM1007.8 1465.9l37.9 43.6l-16.4 34.7l-39.7 -43.2zM804.6 1222.8l3.5 48.6l-40.8 20l-4.2 -50zM394.6 1251.3l2.6 50.3l-42.6 -8.1l-1.8 -50.3zM586.7 1094.4l-11.6 60.1l-42.7 4.4l7.4 -25.1l9.1 -25zM925.3 943.8l-13.6 49.8l-45.1 13.4l15.1 -52.6zM1014.2 829.9l-14.1 27.1l-11.3 25.7l-43.8 8.6l13.2 -27.7l16.5 -28.8zM1057.1 824l-19.4 46.7l-48.8 12l11.2 -25.7l14.2 -27.1zM3568.3 627.5l44 46.5l-53.8 -9.8l-46 -46.4zM3743.5 668.3l36.5 46.2l-56.6 -15.1l-39.2 -46.4zM339.8 758l-53.5 44.6l-25.4 -18.3l55.5 -45.1zM3641.3 607.8l42.9 45.3l-58.5 -13.7l-45.8 -45.5zM3703.6 623.3l39.9 45l-59.3 -15.3l-42.9 -45.2zM3467.5 537.6l52.5 44.3l-58 -9.7l-55 -44.3zM3530.4 549.7l49.5 44.2l-59.9 -11.9l-52.5 -44.4zM3595.1 563.8l46.3 44l-61.4 -13.9l-49.5 -44.2zM506.4 713.1l-60.2 39.6l-24.7 -18.6l62.1 -40.3zM560.2 749l-57.8 38.2l-29.4 -16.7l58.8 -38.9zM3411.1 494.6l56.5 43l-60.6 -9.7l-59.4 -43.1zM3477.4 506.9l53 42.8l-62.9 -12.1l-56.5 -43zM3569.3 497.6l46.5 40.1l-69.9 -16.4l-51.4 -40.7zM579.9 556.9l-79.1 37.6l-13.9 -19.9l82.7 -38.5zM3797.4 556.9l31.2 37.6l-70.9 -19.9l-36.3 -38.5zM639 643l-68.1 33.3l-20.8 -20.2l70.1 -34.5zM662.8 522.2l-82.9 34.6l-10.3 -20.8l87.1 -35.7zM670.4 544.9l-79 33.4l-11.5 -21.4l83 -34.6zM680.2 567.9l-75.6 32.1l-13.3 -21.8l79.1 -33.3zM747.1 467.8l-90.3 32.5l-5.6 -21l95.7 -33.8zM748.2 491.2l-85.3 31l-6.1 -21.9l90.3 -32.5zM751.2 515.4l-80.8 29.4l-7.6 -22.6l85.3 -31zM3338.3 372.6l50.7 33.2l-85.9 -16.6l-59.7 -34.5zM838.7 439.4l-91.6 28.5l-0.2 -22.3l98.1 -30.2zM833.9 464.6l-85.8 26.6l-1.1 -23.4l91.7 -28.4zM829.7 519.1l-72.6 21.1l-5.9 -24.7l80.6 -24.7zM820.1 585.6l-60.3 17.4l-0.6 -33.1l66.1 -19.2zM958 365.3l-106.6 27.7l4.7 -20.4l116 -29.6zM3401.8 365.3l33.8 27.7l-97.3 -20.4l-45.2 -29.6zM1088 318l-115.9 25l10.2 -19.6l128.9 -27.3zM3258.5 318l34.6 25l-106.7 -19.6l-49.5 -27.3zM903.9 687.1l-45.1 10l3.6 -45.3l49.6 -11zM1352.8 259.1l-114.9 15.1l35 -21.2l139.4 -18.4zM3095.9 259.1l-1.8 3l0.7 3.6l7.8 8.5l-138.8 -21.2l-20 -10.1l-11.9 -8.3zM1338 475.6l-15.1 -15.3l-18.6 -11.8l37.1 -33.5l18.3 11.7l14.5 15zM2268.9 627l44 -9.7l7.5 46.4l-43.3 9.8zM2259.6 581.5l44.9 -9.7l8.3 45.5l-44 9.7zM2249.2 537.2l45.8 -9.7l9.5 44.3l-44.9 9.7zM2237.3 494.2l46.9 -9.7l10.8 43l-45.8 9.7zM2207.6 412.8l49.6 -10.1l14.5 40l-48.2 9.9zM2110 277.4l58 -14.1l28.6 31l-55.4 12.4l-14.8 -15.2zM2071.8 252.7l60.8 -16.6l18.6 13.1l16.7 14.1l-57.9 14.1l-18.1 -13zM2024.1 234.2l63.7 -20.1l23.9 10.2l21 11.7l-60.9 16.6l-22.4 -10.1zM1884.5 225.7l59.9 -27.1l45.2 -0.8l38.4 2.6l-65.2 24.1l-37 -0.8zM2225.4 638.8l43.5 -11.8l8.2 46.5l-42.8 11.8zM2215.4 593.4l44.2 -11.9l9.2 45.5l-43.4 11.8zM2204.1 549.2l45.1 -12l10.4 44.3l-44.2 11.9zM2191.2 506.4l46.1 -12.3l11.9 43.1l-45.1 12zM2176.4 465.2l47.2 -12.6l13.7 41.5l-46 12.3zM2159.2 425.9l48.5 -13.1l15.9 39.8l-47.2 12.6zM1725.1 263.8l66.5 -25.8l47.9 -7.4l45 -4.9l-57.5 30.7l-48 1.9zM2182.4 652.5l43 -13.7l8.9 46.5l-42.4 13.6zM2171.8 607.3l43.7 -13.9l9.9 45.5l-42.9 13.6zM2145.8 520.9l45.4 -14.5l12.9 42.8l-44.5 14.1zM2129.9 480.2l46.4 -15l14.9 41.2l-45.4 14.5zM1843.3 283.6l58.7 -31.1l32.6 2l29.3 4.3l-58.3 27.9l-29.7 -2.7zM2128.5 622.8l43.3 -15.5l10.6 45.2l-42.5 15.3zM2115.6 579.2l44 -15.8l12.1 43.9l-43.2 15.5zM2100.9 537.2l44.9 -16.3l13.8 42.4l-44 15.9zM2015 392.6l50 -20.4l25.1 33.2l-48.4 19zM1848.2 317.2l57.4 -30.6l27.1 4.9l24.6 7l-55.7 27.4l-25.5 -5.4zM2085.5 639.6l42.9 -16.9l11.4 45l-42.3 16.6zM2071.9 596.4l43.7 -17.3l12.9 43.6l-43 16.9zM1892.7 369.1l53.6 -26.9l19.4 10.7l17.9 12l-51.5 24.4l-18.9 -10.9zM1845.9 355.7l55.7 -29.7l23.3 7.3l21.3 9l-53.5 26.8l-22.4 -7.6zM1791.8 341.6l56.4 -24.4l27.8 3.3l25.6 5.4l-55.7 29.8l-26 -7.9zM1727.5 335l56.2 -27l33.8 3.5l30.6 5.8l-56.3 24.3l-30.7 -4.3zM2055.5 701.8l42.1 -17.5l10.7 45.9l-41.6 17.3zM2042.8 657.5l42.8 -17.9l12 44.7l-42.1 17.5zM2028.4 614.8l43.5 -18.4l13.7 43.2l-42.8 17.9zM1992.9 535.6l45.5 -19.9l17.9 39.4l-44.4 19zM1945.4 467.4l48.1 -22.3l24.1 33.8l-46.6 20.9zM1915.5 438.9l49.8 -24l28.2 30.2l-48.1 22.2l-14.3 -14.7zM1791.8 380.5l54.1 -24.9l24.4 5.8l22.3 7.7l-53.9 28.7l-22.7 -9.3zM1737.9 368.8l53.9 -27.3l28.1 6.3l26 7.8l-54.1 24.9l-25.9 -6.6zM1674.7 364.2l52.9 -29.2l33.6 2.3l30.6 4.3l-53.9 27.3l-30.3 -3.3zM1924.2 521.8l46.8 -22l22 35.8l-45.5 20.8zM1897 490.8l48.4 -23.4l25.5 32.4l-46.8 22zM1686.4 398.6l51.5 -29.8l27.9 5.1l26 6.6l-52.3 28l-25.6 -5.7zM1901.7 577.8l45.7 -21.4l20.1 37.6l-44.5 20.4zM1877 544.4l47.2 -22.7l23.3 34.6l-45.8 21.5zM1776.2 469.9l51.7 -27l19.4 9.9l18 11.4l-51.1 26.2zM1637.3 430.6l49.2 -32l27.5 4.2l25.6 5.6l-50.5 30.7l-25.1 -4.9zM1878.2 635.1l44.8 -20.7l18.5 39.3l-43.8 19.9zM1855.5 599.5l46.2 -21.7l21.3 36.6l-44.9 20.7zM1829.2 567.5l47.8 -23l24.7 33.3l-46.1 21.7zM1590.2 464.8l47.1 -34.2l26.7 3.6l25.1 4.9l-48.9 33.3zM1533.3 462.9l44.6 -34.6l30.8 0.3l28.6 2.1l-47.1 34.2l-27.5 -1.8zM1887.3 776l42.2 -18.6l13.1 44.7l-41.6 18.2zM1853.6 693.3l44.1 -19.7l16.9 40.9l-43 19.1zM1832.9 655.7l45.3 -20.6l19.5 38.5l-44 19.7zM1544.9 501.2l45.3 -36.3l50 7.6l-47.5 35.7zM1695.7 602.7l51.2 -33.1l33.5 21l-51.7 31.3zM1661.5 585.3l50.6 -34.9l34.9 19.2l-51.3 33.1zM1740 695.3l46.9 -19.5l22.2 36.8l-45.2 18.5zM1393.8 803.7l58.6 -48.8l31.5 11.1l-58.6 47.1zM1362 795.4l58.5 -50.4l31.9 9.9l-58.7 48.8zM1330 788.1l58.2 -51.9l32.3 8.7l-58.5 50.4zM1297.7 782l57.6 -53.3l33 7.5l-58.3 51.9zM1265 777l56.4 -54.5l33.9 6.2l-57.6 53.3zM1231.9 773.1l22.2 -21.2l32.1 -34.2l35.2 4.8l-56.4 54.5zM1752.4 1647.1l42.6 -7.6l10.5 47.3l-43.2 7.5zM1743.4 1599.2l42.1 -7.8l9.6 48.1l-42.6 7.7zM1734.9 1550.5l41.6 -7.9l8.9 48.8l-42 7.7zM1719.2 1451.7l41 -8.1l7.9 49.8l-41.2 8zM1711.7 1401.6l40.8 -8.1l7.7 50l-41 8.1zM1704.1 1351.4l40.6 -8.1l7.7 50.2l-40.7 8.1zM1696.4 1301.1l40.6 -8.1l7.8 50.3l-40.6 8.1zM1688.2 1250.8l40.6 -8.1l8.1 50.2l-40.6 8.2zM1612.8 891.4l31.6 16.6l17.2 44.3l-43.7 7.7zM1709.1 1652.3l43.3 -5.2l9.9 47.2l-44.1 5zM1692.7 1556.1l42.2 -5.5l8.4 48.6l-42.7 5.4zM1685.2 1507l41.8 -5.7l7.9 49.2l-42.1 5.6zM1677.8 1457.4l41.4 -5.8l7.7 49.7l-41.8 5.7zM1670.5 1407.5l41.2 -5.8l7.5 50l-41.4 5.8zM1663.1 1357.2l41 -5.8l7.6 50.2l-41.2 5.8zM1655.5 1306.9l40.9 -5.8l7.8 50.3l-41 5.9zM1649.9 1559l42.8 -3l7.9 48.5l-43.4 2.8zM1635.9 1460.6l41.9 -3.2l7.3 49.6l-42.3 3.1zM1606.6 1559.2l43.4 -0.2l7.3 48.3l-44.1 -0.1zM1600.1 1510.4l42.8 -0.3l7 48.9l-43.3 0.2zM1580 1360.9l41.7 -0.4l7.2 50.3l-41.9 0.4zM1562.6 1556.4l43.9 2.8l6.6 48.1l-44.7 -3.1zM1544.6 1408.5l42.3 2.6l6.7 49.9l-42.8 -2.6zM1538 1358.1l42.1 2.7l6.9 50.3l-42.3 -2.6zM1513 1205.2l42.2 3.7l9.1 50.7l-41.9 -3.3zM1497 1094l35.5 14.4l12.2 50.1l-42.6 -4.4zM1527.9 1644.4l46.4 6.6l6.1 45.9l-47.6 -7.1zM1523.1 1597.9l45.3 6.3l6 46.8l-46.4 -6.6zM1518.2 1550.4l44.4 6l5.8 47.8l-45.3 -6.3zM1513.1 1501.9l43.7 5.9l5.8 48.6l-44.4 -6zM1507.8 1452.6l43.1 5.8l5.9 49.4l-43.7 -5.9zM1502 1402.6l42.6 5.9l6.3 50l-43.1 -5.9zM1470.6 1197.5l42.4 7.7l9.4 51.1l-42.2 -7zM1481 1634.5l47 10l4.8 45.3l-48.3 -10.4zM1477.3 1588.3l45.8 9.6l4.9 46.5l-47 -10zM1473.4 1541l44.8 9.4l4.9 47.5l-45.8 -9.6zM1425.3 813.1l31.3 10.5l1.3 67.2l-31.9 -10.9zM1431.2 1575.3l46.1 13l3.7 46.2l-47.4 -13.4zM1393.8 803.7l31.5 9.4l0.7 66.8l-32 -10zM1361.6 861l32.3 8.9l-1.6 64l-33.5 -9.8zM1362 795.4l31.7 8.3l0.2 66.3l-32.3 -9zM1325 915.1l33.9 9l-3.1 60.5l-35.3 -10.4zM1329.1 853l32.6 8l-2.8 63l-33.9 -9zM1330 788.1l32 7.2l-0.4 65.7l-32.5 -8zM1296.1 846l33 7l-4.1 62l-34.5 -8.3zM1297.7 782l32.3 6.1l-0.9 64.9l-33 -7l1.7 -31.6zM1262.5 840l33.6 6.1l-5.6 60.7l-35.3 -7.8zM1265 777l32.7 5l0.1 32.4l-1.7 31.7l-33.6 -6.1l2.4 -31.1zM1231.9 773.1l33.1 3.9l-0.1 32l-2.4 31l-34.4 -5.3l3.3 -30.2zM1198.3 770.3l33.6 2.8l-0.5 31.4l-3.3 30.2l-35.8 -4.8l5.6 -36.4zM1095.2 1296.4l53.1 34.5l7.9 44.1l-54.7 -35.3zM1088.3 1167.9l48.8 31.3l1.7 43.8l-50.2 -32.5zM1089.9 1125.4l47.6 29.9l-0.4 43.8l-48.8 -31.3zM1115.2 956.9l43.3 20.9l-8.1 45.1l-44.3 -23.8zM1038.4 1172.1l50.3 38.4l2.2 42.8l-51.7 -39zM1039.5 1130.2l48.9 37.7l0.3 42.6l-50.3 -38.4zM1896.9 2029.8l53.7 -7.2l31.6 33.8l-56.1 7.8zM1798.6 1830.1l45.8 -7l16.2 43l-47 7zM1817.2 1996.1l54.5 -2.9l25.2 36.6l-57.4 2.6zM1754.7 2147.9l69 10.5l71.6 8.8l0.9 3.6l-3.2 2.9l-9.8 1.9l-19.3 0.9l-83.5 -10.3l-74.7 -11.6l31.5 -2zM1763.5 2132.3l56.2 8.7l54.9 6.8l20.7 19.4l-71.6 -8.8l-69 -10.5l4.8 -3.2l2.8 -3.7zM1608.8 1867.7l53.8 6.7l11 39.9l-56.5 -7.7zM1484.5 1679.3l48.3 10.5l5 44.1l-49.9 -11.1zM1435.8 1893.8l64.5 20.3l0 31.8l-68.7 -22zM1437.3 1708.2l50.5 14.5l3.2 42l-52.5 -15.4zM1315.3 1964.5l82.9 30.9l-10.4 8.7l-12.3 7.6l-87.4 -32.8l14.5 -6.7zM1336 1946.1l78 29l-7.2 10.7l-8.6 9.6l-82.9 -30.9l11.1 -8.7zM1337.8 1627.3l48.9 20.8l-0.2 42.2l-50.7 -21.4zM1280.7 1683l52.2 25.4l-4 37.4l-54.6 -26.3zM1087.9 1683.1l53.8 36.5l-17.5 26.3l-56 -37.3zM1104.9 1654.5l51.6 35.8l-14.9 29.3l-53.7 -36.5zM1015.6 1669l52.6 39.5l-22.6 22.2l-54.5 -40.3zM1037.1 1644.3l50.7 38.9l-19.7 25.4l-52.6 -39.5zM1056.1 1616.2l48.8 38.3l-17.1 28.7l-50.7 -38.9zM1072.8 1584.8l46.8 37.9l-14.7 31.8l-48.8 -38.3zM990 1603.2l47.2 41.1l-21.6 24.8l-48.9 -41.6zM3875.2 1502.9l-45.5 46l-27.5 -18.1l43.9 -45.8zM361.6 1604.8l38.7 47.3l-57.8 -15l-36.1 -47.3zM3869.9 1194.3l-12.9 49.7l-38.4 -13.7l11.7 -49.6zM3795.5 1118.5l-5.3 50l-40.7 -10.2l4.4 -50zM287.8 1121.2l-11.9 49.7l-39.6 -13.7l13.2 -49.7zM3790.7 879.7l19.2 49.8l-46.3 -11.9l-20.7 -49.8zM305.6 1072.1l-17.7 49.1l-38.4 -13.7l18.9 -49.1zM323.5 962.4l-30.5 47.5l-34.9 -15.2l31.7 -47.6zM3780 714.5l32.9 47.2l-54.2 -15l-35.3 -47.3zM3836.9 730.8l30.3 47.1l-54.3 -16.2l-32.8 -47.2zM2696.6 562.2l53.2 19.8l-5.5 38.3l-51.1 -18.8zM2700.9 524.9l55.6 20.9l-6.7 36.2l-53.2 -19.8zM2721.8 427l64.9 25.4l-12.2 28.4l-61.5 -23.7zM2643.5 545.8l53.1 16.4l-3.4 39.2l-51 -15.3zM2645.4 507.4l55.5 17.5l-4.3 37.3l-53.1 -16.4zM2648 471l58.3 18.8l-5.4 35.1l-55.5 -17.5zM2590.4 493.4l55 14l-1.9 38.4l-52.6 -12.9zM2444.3 266.3l80.5 16l-0.8 27l-72.6 -13.7zM2431.6 473.3l51.7 3.1l4.7 41.4l-49.9 -2.4zM2405.9 356l59.9 5.9l6.4 36.3l-56.5 -4.8zM2381.9 287l69.5 8.5l7.4 32l-64.1 -7zM2335 203.1l51.8 6.9l52.7 8.7l-1.3 10.2l0.9 11.4l-87.8 -12.6zM2389.4 516.4l48.8 -1l5.8 43.5l-47.4 1.4zM2361 392.7l54.6 0.7l8.5 39.2l-52.3 -0.1zM2316.3 284l65.6 3l12.8 33.5l-61 -2.2zM2238.9 196.4l46.3 2.1l49.7 4.6l16.4 24.6l-41.5 -3.6l-39.5 -1.5l-14.7 -13.6zM2196.9 174.5l61.6 2.8l66.8 6.5l1.7 6.4l7.9 12.9l-49.7 -4.6l-46.3 -2.1l-19.2 -11.6zM2193.1 161l-8 0.4l89.8 4.6l89.7 8.6l-20.3 0.9l-11.7 1.9l-5.6 2.8l-1.7 3.6l-33.6 -3.6l-49.4 -4l-45.4 -1.7l-29.2 -8.6l-34.3 -4.6l-94.4 0.1l0 -20.7l154.1 0zM2357.6 610l45.4 -4.7l5.8 46l-44.5 5zM2341.7 520.5l47.7 -4.1l7.2 43.9l-46.5 4.4zM2275.7 320.9l58 -2.6l14.7 36.3l-55.1 2.8zM2157.8 200.6l38.8 -3.4l42.4 -0.8l16.6 12.7l14.8 13.5l-37.2 0.5l-35.2 2.5l-18.7 -13.1zM2102.1 181.9l43.4 -5.7l51.4 -1.7l22.8 10.3l19.2 11.6l-42.4 0.8l-38.7 3.4l-25.2 -10.4zM2010.8 176.1l39 -9l48.1 -6l35.5 0.3l14.2 1.2l28.3 5.3l21 6.6l-51.4 1.7l-43.4 5.7l-38.9 -5.2zM1874.5 188l4.6 -4.2l0.8 -3.5l-5.2 -2.6l-13.8 -1.5l68.2 -6.9l53.6 -4l115.2 -4.2l-48.1 6l-39 9l-65.8 4.2zM2312.9 617.3l44.7 -7.3l6.7 46.3l-43.9 7.4zM2304.5 571.8l45.6 -7.2l7.5 45.3l-44.7 7.3zM2295 527.5l46.7 -7l8.4 44.2l-45.6 7.1zM2284.2 484.4l47.9 -6.9l9.6 42.9l-46.7 7.1zM2271.7 442.8l49.4 -6.8l11 41.6l-47.9 6.9zM2167.9 263.3l61.4 -8.8l25.4 32l-58.1 7.8zM2132.6 236.1l32 -6.1l33.4 -4.4l16.5 14l14.8 14.9l-61.4 8.8l-16.7 -14.1zM2087.8 214.2l33.9 -7.8l36 -5.8l21.5 11.9l18.8 13.1l-33.4 4.4l-32 6.1l-21 -11.7zM2390.1 1362.4l41.9 -10.2l16.2 46l-42.8 10.2zM2284.5 720.9l42.7 -9.8l6.3 48l-42.1 10zM2284.3 1292.6l40.2 -13.7l11.3 48.3l-40.5 13.8zM2249.9 1093.4l39.9 -13.6l7.5 50.3l-39.9 13.6zM2255.2 1356.2l40.2 -15.2l12.4 47.5l-40.5 15.4zM2244.4 1307.7l39.9 -15.1l11 48.5l-40.1 15.2zM2203.1 1057.8l39.7 -14.8l7.1 50.4l-39.6 14.8zM2175 858.1l40.7 -14.8l6.9 49.4l-40.3 14.8zM2170.8 1124.1l39.5 -15.9l7.5 50.4l-39.4 15.9zM2163.5 1073.6l39.6 -15.8l7.1 50.4l-39.4 15.8zM2139.1 1191.1l39.3 -16.7l8 50.2l-39.2 16.7zM2131.5 1140.7l39.3 -16.6l7.6 50.3l-39.3 16.7zM2102.1 940l40 -16.7l7.2 49.8l-39.7 16.7zM2116.6 1308.5l39.2 -17.3l9.4 49.5l-39.3 17.3zM2108 1258.5l39.2 -17.2l8.6 49.9l-39.2 17.3zM2092.3 1157.8l39.2 -17.1l7.6 50.4l-39.1 17.1zM2053.2 1175.2l39.1 -17.4l7.7 50.4l-39.1 17.4zM2038.1 1074.5l39.4 -17.4l7.3 50.3l-39.2 17.4zM1995 830.1l40.9 -18l9.5 47.6l-40.4 17.8zM2038.3 1343.5l39.1 -17.5l9.2 49.6l-39.2 17.6zM1964.6 895.4l40.4 -17.9l9.1 48.4l-40 17.7zM1990.7 1310.5l39.1 -17.2l8.5 50.1l-39.2 17.2zM1951.5 1327.2l39.2 -16.6l8.4 50.1l-39.3 16.6zM1920.4 1393.2l39.4 -15.9l8.9 49.8l-39.6 15.9zM1912.1 1343l39.3 -15.9l8.4 50.2l-39.4 15.9zM1904.2 1292.7l39.3 -15.9l8 50.4l-39.3 15.8zM1853.4 994.2l40.3 -16.2l9.4 48.6l-40 16.1zM1872.6 1357.8l39.5 -14.8l8.3 50.1l-39.6 14.9zM1864.7 1307.5l39.5 -14.8l7.9 50.3l-39.5 14.8zM1848.9 1206.8l39.6 -14.9l7.8 50.4l-39.5 14.8zM1822.9 1057.8l40.2 -15.1l8.9 49.3l-39.9 15zM1840.9 1421.5l39.9 -13.5l8.6 49.8l-40.1 13.5zM1800.9 1170.4l39.9 -13.6l8.2 50l-39.8 13.6zM1792.1 1120.7l40.1 -13.7l8.6 49.7l-39.9 13.7zM1809 1483.2l40.4 -11.9l8.9 49.4l-40.6 11.9zM1792.8 1383.3l40 -12l8.1 50.2l-40.2 11.9zM1785 1333.1l40 -12l7.8 50.3l-40 12zM1777.2 1282.7l40 -12l7.8 50.3l-40 12zM1760.7 1182.4l40.1 -12.1l8.3 50.1l-40 12zM1751.7 1132.8l40.4 -12.1l8.8 49.7l-40.2 12zM1741.9 1083.7l40.7 -12.1l9.5 49.1l-40.4 12.1zM1730.9 1035.4l41.1 -12.2l10.5 48.4l-40.7 12.1zM1785.4 1591.4l41.5 -9.9l10.1 48.1l-42 9.9zM1776.5 1542.6l41.1 -10l9.3 48.8l-41.5 10zM1768.2 1493.3l40.8 -10.1l8.7 49.4l-41.1 10zM1760.2 1443.6l40.6 -10.1l8.2 49.8l-40.8 10zM1744.7 1343.3l40.3 -10.2l7.8 50.3l-40.4 10.2zM1736.9 1292.9l40.2 -10.2l7.9 50.3l-40.3 10.2zM1728.9 1242.7l40.3 -10.2l8 50.2l-40.2 10.3zM1720.3 1192.6l40.4 -10.2l8.5 50l-40.3 10.2zM1711 1143l40.7 -10.2l9 49.6l-40.4 10.3zM1661.6 952.3l43.1 -10.3l13.9 46.1l-42.1 10.2zM1644.4 908l44.2 -10.4l16.1 44.5l-43 10.2zM3015.2 1635.8l-16.4 -2.2l-11 -3l-10.9 -5.3l-5 -4.1l16.5 -38.3l35.1 -0.5l0.8 7.4l-0.9 14.2zM2996.7 1680.2l-22.4 -7.2l-10.7 -5.8l-9.9 -8l18.2 -37.9l5 4.1l10.8 5.3l11.1 2.9l16.4 2.3zM2975.9 1720.7l-22.1 -9.3l-10.3 -6.6l-9.5 -8.3l19.8 -37.4l9.9 8l10.7 5.8l22.4 7.2zM2953.2 1759.3l-21.6 -10.5l-19.2 -15.4l21.5 -36.9l9.5 8.3l10.4 6.6l22 9.3zM2928.9 1796.6l-21.2 -11.2l-18.6 -15.6l23.3 -36.4l19.2 15.4l21.6 10.5zM2902.8 1832.8l-20.8 -11.7l-18.1 -15.5l25.2 -35.8l18.6 15.5l21.2 11.3zM2874.8 1868.1l-20.5 -11.8l-17.6 -15.5l27.2 -35.2l18.1 15.5l20.8 11.7zM2844.9 1902.6l-20.2 -11.9l-17.2 -15.2l29.2 -34.6l17.7 15.4l20.4 11.9zM2812.9 1936.1l-20.1 -11.7l-16.7 -15.1l31.4 -33.9l17.2 15.3l20.2 11.9zM2778.6 1968.6l-20 -11.5l-16.4 -14.7l33.8 -33.1l16.8 15l20 11.7zM2742 2000.1l-20.2 -11.1l-16.1 -14.3l36.5 -32.3l16.4 14.7l20 11.5zM2702.8 2030.5l-20.6 -10.6l-15.8 -13.9l39.3 -31.3l16.1 14.3l20.2 11.1zM3057 1636.3l-41.8 -0.4l8.2 -31.8l0.8 -14.3l-0.8 -7.4l35.5 -1.6l1.9 14.4l-0.1 14.2zM3042.2 1685.1l-22.7 -1.4l-22.7 -3.5l18.4 -44.4l41.9 0.4l-6.6 25.2zM3022.6 1729.3l-23.6 -3l-23.2 -5.6l20.9 -40.6l22.7 3.6l22.7 1.4zM3000.5 1770.5l-24.1 -4.2l-23.2 -7l22.6 -38.6l23.2 5.6l23.6 3zM2976.4 1809.6l-24.4 -5.1l-23.1 -7.9l24.4 -37.2l23.1 6.9l24.1 4.3zM2950.4 1846.9l-24.7 -5.7l-22.9 -8.4l26.1 -36.2l23 7.8l24.4 5.1zM2922.7 1882.9l-25 -6l-22.9 -8.7l27.9 -35.3l23 8.4l24.7 5.7zM2893.3 1917.5l-25.5 -6.1l-22.9 -8.8l29.9 -34.5l22.9 8.8l25 6zM2862.2 1950.8l-26.1 -6l-23.2 -8.8l32 -33.5l23 8.8l25.4 6.2zM2829.4 1982.9l-27.1 -5.7l-23.7 -8.6l34.3 -32.5l23.2 8.7l26.1 6.1zM2795 2013.5l-28.6 -5.2l-24.4 -8.1l36.6 -31.6l23.6 8.5l27.2 5.8zM3097.4 1633.3l-40.4 3l3.7 -27l0.1 -14.1l-1.9 -14.5l36 -2.8l3.7 28.2zM3087 1683.9l-44.9 1.2l8.3 -23.7l6.6 -25.1l40.4 -3l-4.2 25.9zM3070.5 1730.2l-47.9 -0.9l19.5 -44.2l44.9 -1.2zM3050.6 1773.1l-25.3 -0.5l-24.8 -2.1l22.2 -41.2l47.9 0.8zM3028.2 1813.5l-26.3 -1.1l-25.5 -2.9l24.1 -39l24.8 2.1l25.3 0.5zM3003.9 1851.8l-27.3 -1.4l-26.2 -3.4l26 -37.4l25.5 2.9l26.3 1.1zM2978.1 1888.1l-28.4 -1.6l-26.9 -3.7l27.7 -35.9l26.1 3.4l27.4 1.4zM2950.9 1922.8l-29.8 -1.6l-27.7 -3.7l29.4 -34.6l26.9 3.7l28.4 1.6zM2922.6 1955.7l-31.5 -1.3l-28.9 -3.5l31.2 -33.4l27.7 3.7l29.8 1.6zM2893.6 1986.8l-33.7 -0.8l-30.5 -3.2l32.8 -32l28.9 3.6l31.5 1.3zM3137.4 1628.5l-40 4.8l1.2 -27.2l-3.7 -28.2l36.5 -3.9l5 27.6zM3131.4 1679.4l-44.4 4.5l6.3 -24.7l4.2 -25.9l40 -4.8l-2 26zM3118.7 1726.5l-48.2 3.7l16.5 -46.3l44.4 -4.5zM3102 1770.3l-51.4 2.9l19.9 -43l48.2 -3.7zM3082.7 1811.3l-54.5 2.2l22.4 -40.3l51.5 -2.9zM3061.4 1849.8l-57.5 1.9l24.3 -38.2l54.4 -2.3zM3038.9 1886.2l-60.8 2l25.9 -36.4l57.5 -1.9zM3015.5 1920.4l-33.1 2.1l-31.6 0.3l27.2 -34.6l60.8 -2zM2992 1952.4l-35.7 2.6l-33.7 0.7l28.2 -32.9l31.6 -0.4l33.1 -2zM3177.5 1622.3l-40 6.2l-1 -26.9l-5.1 -27.6l37 -5l6.3 26.9zM3175.5 1672.7l-44.2 6.7l4.1 -24.9l2 -26l40 -6.2l0.1 25.6zM3167 1719.7l-48.3 6.8l12.7 -47.1l44.1 -6.7zM3154.3 1763.5l-52.2 6.7l16.6 -43.8l48.3 -6.7zM3138.8 1804.5l-56.2 6.8l19.4 -41l52.2 -6.8zM3121.7 1842.8l-60.2 7l21.2 -38.5l56.2 -6.8zM3103.6 1878.6l-64.7 7.6l22.5 -36.3l60.2 -7.1zM3085.5 1911.8l-70 8.5l23.4 -34.2l64.7 -7.6zM3217.7 1614.7l-40.3 7.5l-2.7 -26.4l-6.4 -26.9l37.5 -6.1l7.5 26.2zM3219.7 1664.2l-44.2 8.5l2 -24.8l-0.1 -25.6l40.3 -7.5l2 25.1zM3215.4 1710.5l-48.4 9.1l8.5 -47l44.2 -8.5zM3207 1753.8l-52.8 9.7l12.8 -43.9l48.4 -9.1zM3196.1 1794.2l-57.2 10.3l15.4 -41l52.8 -9.7zM3183.7 1831.8l-62.1 11l17.2 -38.3l57.2 -10.2zM3171 1866.5l-67.4 12.1l18 -35.8l62.1 -11.1zM3258.3 1606l-40.6 8.7l-4.4 -25.7l-7.5 -26.2l37.9 -7.2l8.6 25.4zM3264.1 1654.2l-44.4 10l0 -24.3l-2 -25.1l40.7 -8.8l3.7 24.5zM3264 1699.5l-48.6 11.1l4.3 -46.4l44.4 -10zM3260.1 1741.8l-53.1 12l8.4 -43.3l48.6 -11zM3254 1781.1l-57.9 13.1l10.9 -40.4l53.1 -12zM3246.9 1817.5l-63.2 14.2l12.3 -37.5l58 -13.1zM3299.3 1596.1l-41 9.9l-5.9 -25l-8.7 -25.4l38.4 -8.3l9.8 24.6zM3308.7 1642.8l-44.6 11.4l-2 -23.8l-3.7 -24.4l40.9 -9.9zM3312.8 1686.7l-48.8 12.7l0.1 -45.3l44.6 -11.4zM3313.5 1727.8l-53.4 14l3.9 -42.3l48.8 -12.7zM3312.4 1765.7l-58.4 15.4l6.1 -39.3l53.4 -14.1zM3310.8 1800.6l-63.8 16.9l7 -36.4l58.4 -15.4zM3310 1832.3l-69.9 18.6l6.9 -33.4l63.8 -16.9zM3312.7 1886.8l-80.5 21.3l2.5 -27l76.7 -20.5zM3340.7 1585l-41.4 11.1l-7.4 -24.2l-9.8 -24.6l38.8 -9.4l10.9 23.7zM3353.6 1630.1l-44.9 12.7l-9.3 -46.7l41.3 -11.1zM3361.7 1672.5l-49 14.2l-4 -43.9l44.8 -12.7zM3367 1712l-53.5 15.8l-0.8 -41l49 -14.3zM3370.9 1748.3l-58.6 17.4l1.1 -38l53.6 -15.8zM3374.9 1781.5l-64.1 19.1l1.6 -34.8l58.6 -17.4zM3382.4 1572.9l-41.7 12.2l-8.9 -23.4l-10.9 -23.8l39.2 -10.4zM3398.7 1616.2l-45.1 13.9l-12.9 -45l41.8 -12.2zM3410.9 1656.9l-49.1 15.6l-8.2 -42.4l45.1 -13.9zM3429.5 1729.2l-58.6 19.2l-3.9 -36.4l53.6 -17.4zM3424.5 1559.6l-42.1 13.3l-22.3 -45.4l39.6 -11.5zM3444.1 1601.1l-45.4 15.1l-16.2 -43.3l42.1 -13.3zM3508.7 1729.8l-69.8 30.6l-9.3 -31.2l58.5 -20.8zM3541.8 1773.2l-75.5 33.4l-12.3 -23.1l72.4 -32zM3466.9 1545.2l-42.4 14.4l-24.8 -43.7l39.9 -12.5zM3553.4 1675.1l-65.3 33.3l-13.7 -32.6l53.6 -20.2zM3575.9 1695.3l-67.2 34.5l-20.6 -21.4l65.3 -33.3zM3558.9 1602.4l-49.4 19.4l-19.9 -37l45.8 -17.3zM3588.5 1619.8l-60.5 35.8l-18.5 -33.9l49.5 -19.3zM3615.2 1638.4l-61.8 36.8l-25.4 -19.5l60.5 -35.8zM3581.4 1549l-45.9 18.5l-25.9 -37.7l43 -16.5zM3644.8 1581l-56.3 38.9l-29.5 -17.4l55.5 -38.2zM3696.4 1539.6l-51.6 41.4l-30.3 -16.7l50.7 -40.9zM3725.5 1556.9l-52.8 41.9l-28 -17.8l51.6 -41.4zM3057.9 1527l-17.2 33l-17.3 22.4l-35 0.6l14.9 -38.8l23.2 -9.9zM3100.4 1521.1l-17.1 28.9l-24.4 30.7l-35.5 1.7l17.3 -22.4l17.2 -33zM3139.7 1516.3l-19.3 30.2l-25.5 31.4l-35.9 2.8l24.3 -30.7l17.1 -28.9zM3177.8 1511l-20.6 31.1l-25.8 31.9l-36.5 3.9l25.4 -31.4l19.4 -30.2zM3215.6 1505l-21.3 31.7l-25.9 32.3l-37 5.1l25.9 -32l20.5 -31zM3253.4 1498l-21.6 32.1l-25.9 32.8l-37.5 6.1l26 -32.3l21.3 -31.7zM3291.2 1490l-21.7 32.5l-25.8 33.1l-37.9 7.3l25.9 -32.8l21.7 -32.1zM3329.2 1481.1l-21.7 32.9l-25.4 33.3l-38.4 8.4l25.7 -33.1l21.8 -32.6zM3367.5 1471.1l-21.5 33.2l-25 33.6l-38.8 9.4l25.4 -33.4l21.7 -32.9zM3405.9 1460.2l-21.2 33.4l-24.6 33.9l-39.2 10.4l25 -33.6l21.5 -33.2zM3444.6 1448.3l-20.9 33.6l-23.9 34.1l-39.6 11.5l24.5 -33.9l21.2 -33.4zM3483.4 1435.4l-20.4 33.8l-23.4 34.2l-39.9 12.5l24 -34l20.8 -33.6zM3075.1 1480.3l-17.2 46.7l-31.4 7.2l-23.1 10l13.3 -39.2l23.6 -12.1zM3123.4 1468.3l-10.1 25.7l-12.8 27.1l-42.6 5.9l17.2 -46.7zM3166.8 1459.8l-12 27.7l-15.1 28.8l-39.3 4.9l12.9 -27.1l10.1 -25.7zM3207.8 1452.1l-13.4 29l-16.6 30l-38.1 5.2l15.1 -28.8l12 -27.7zM3247.5 1444.2l-14.4 29.9l-17.5 30.8l-37.8 6.1l16.6 -30l13.4 -29zM3286.5 1435.9l-15.1 30.6l-18 31.4l-37.8 7l17.5 -30.8l14.4 -29.9zM3325.1 1426.9l-15.5 31.2l-18.4 31.9l-37.8 7.9l18 -31.4l15.1 -30.6zM3363.4 1417.1l-15.7 31.7l-18.5 32.2l-38 9l18.3 -31.9l15.5 -31.2zM3401.7 1406.5l-15.8 32l-18.4 32.6l-38.3 10l18.5 -32.3l15.7 -31.7zM3439.9 1395l-15.7 32.3l-18.3 32.9l-38.5 11l18.5 -32.7l15.8 -32zM3478.2 1382.6l-15.5 32.6l-18.1 33.1l-38.7 11.9l18.3 -32.9l15.8 -32.3zM3087.4 1436.7l-12.3 43.7l-34.8 12.6l-23.6 12.1l11.8 -39.6l30.7 -16.7zM3138.4 1419.7l-15.1 48.7l-48.2 12l12.3 -43.7zM3184.6 1407.3l-17.8 52.5l-43.5 8.5l15.1 -48.6zM3227.9 1396.7l-20.1 55.3l-41 7.7l17.8 -52.5zM3269.4 1386.8l-9.9 28.4l-11.9 29.1l-39.7 7.8l20.1 -55.3zM3309.6 1376.8l-10.5 29.2l-12.6 29.9l-39 8.3l12 -29.1l9.9 -28.3zM3349 1366.5l-10.9 29.9l-13.1 30.5l-38.5 9.1l12.6 -29.9l10.5 -29.3zM3387.9 1355.6l-11.2 30.5l-13.3 31l-38.4 9.8l13.1 -30.5l10.9 -29.9zM3426.4 1344.1l-11.3 30.9l-13.5 31.5l-38.2 10.6l13.3 -31l11.2 -30.5zM3464.7 1331.8l-11.4 31.3l-13.4 31.8l-38.2 11.5l13.4 -31.4l11.4 -31zM3097 1394.1l-9.6 42.6l-28.3 12.1l-30.6 16.7l10.2 -39.9l30.1 -17.6zM3149.1 1373.2l-10.7 46.4l-51 17l9.6 -42.5zM3196.8 1357.5l-12.2 49.8l-46.2 12.4l10.7 -46.4zM3241.6 1344.1l-13.6 52.6l-43.3 10.5l12.2 -49.8zM3284.2 1332l-14.9 54.8l-41.4 10l13.6 -52.6zM3325.5 1320.2l-15.9 56.6l-40.2 10l14.9 -54.8zM3365.6 1308.4l-16.6 58.1l-39.4 10.3l15.8 -56.6zM3405 1296.3l-17.1 59.3l-38.8 10.9l16.5 -58.1zM3443.7 1283.8l-17.3 60.3l-38.5 11.5l17 -59.3zM3557.6 1242.6l-17 62.4l-37.9 13.8l17.3 -61.8zM3104.6 1352l-7.6 42.2l-28.2 13.8l-30.1 17.6l8.7 -40.2l29.3 -18.3zM3156.8 1328.1l-7.7 45.2l-52 20.8l7.6 -42.1zM3205.1 1309.4l-8.3 48.1l-47.7 15.8l7.7 -45.2zM3250.6 1293.5l-9 50.7l-44.8 13.3l8.3 -48.1zM3294 1279.1l-9.8 52.8l-42.7 12.2l9.1 -50.7zM3335.8 1265.5l-10.4 54.6l-41.2 11.8l9.8 -52.8zM3376.5 1252.2l-10.8 56.2l-40.2 11.8l10.4 -54.7zM3416.1 1238.9l-11.1 57.4l-39.4 12.1l10.8 -56.1zM3110.4 1309.9l-5.8 42.1l-27.9 15.1l-29.2 18.2l7.1 -40.6l28.5 -18.8zM3162.1 1283.6l-5.3 44.5l-52.1 23.8l5.8 -42zM3210.4 1262.4l-5.3 47l-48.3 18.7l5.3 -44.5zM3256.1 1244.2l-5.5 49.3l-45.5 15.8l5.3 -46.9zM3299.8 1227.8l-5.8 51.3l-43.4 14.3l5.5 -49.2zM3341.9 1212.5l-6 53l-41.9 13.6l5.8 -51.3zM3382.7 1197.7l-6.2 54.5l-40.6 13.4l6 -53.1zM3461.4 1168.4l-6.3 56.9l-38.9 13.6l6.3 -55.8zM3114.5 1267.8l-4.1 42.1l-27.3 16l-28.5 18.8l5.7 -41zM3165.3 1239.5l-3.2 44.1l-51.7 26.3l4.1 -42.2zM3213.2 1216.2l-2.8 46.2l-48.3 21.2l3.2 -44zM3258.7 1195.9l-2.6 48.3l-45.7 18.2l2.8 -46.3zM3302.3 1177.7l-2.5 50.1l-43.7 16.4l2.6 -48.3zM3344.3 1160.7l-2.4 51.8l-42.1 15.3l2.5 -50.1zM3117 1225.6l-2.5 42.2l-54.2 36l4.1 -41.3zM3166.6 1195.7l-1.3 43.9l-50.8 28.2l2.5 -42.2zM3213.7 1170.5l-0.6 45.7l-47.8 23.4l1.3 -43.9zM3258.7 1148.4l-0 47.6l-45.5 20.2l0.5 -45.7zM3301.9 1128.4l0.4 49.3l-43.6 18.2l0 -47.6zM3384 1092.3l1 52.2l-40.7 16.2l-0.7 -50.8zM3542.9 1043.7l2.5 51l-41.1 7l-0.2 -25.8l-1.7 -25.7zM3117.8 1183.1l-0.8 42.4l-52.6 36.9l2.6 -41.6zM3166.1 1151.9l0.5 43.8l-49.6 29.9l0.8 -42.4zM3212.2 1125l1.5 45.4l-47.1 25.2l-0.5 -43.8zM3256.4 1101.3l2.3 47.1l-45 22l-1.5 -45.4zM3340.1 1059.9l3.5 50l-41.7 18.6l-2.9 -48.6zM3117 1140.5l0.8 42.6l-50.8 37.7l0.9 -41.9zM3163.8 1108l2.3 43.8l-48.3 31.3l-0.9 -42.6zM3208.7 1079.8l3.5 45.2l-46.1 26.9l-2.3 -43.9zM3293.6 1031.7l5.4 48.1l-42.6 21.5l-4.5 -46.7zM3114.4 1097.7l2.5 42.8l-49 38.4l-0.7 -42.2zM3159.7 1064.1l4.1 43.9l-46.9 32.5l-2.5 -42.8zM3627.4 893.6l18.9 50l-43.1 -3.3l-19.5 -49.9zM3110.2 1054.6l4.2 43.1l-47.2 39l-2.3 -42.5zM3453.8 696.2l40.1 47.5l-44.1 0.1l-40.5 -47.2zM2961 1527l26.3 7.3l10.9 5.7l5.2 4.3l-14.9 38.7l-34.6 -0.6l0.4 -22.4zM2973.5 1480.3l27.2 12.7l16 12.1l-13.3 39.1l-5.2 -4.2l-10.9 -5.7l-26.3 -7.3zM2984.7 1436.6l22.1 12.2l21.6 16.7l-11.7 39.5l-16.1 -12.1l-27.2 -12.6zM2994.4 1394.1l22.4 13.9l22 17.6l-10.3 40l-21.7 -16.8l-22 -12.1zM3002.4 1351.9l22.7 15.1l22.4 18.3l-8.7 40.3l-22 -17.7l-22.4 -13.8zM3008.7 1309.9l23.1 16.1l22.8 18.7l-7.1 40.7l-22.5 -18.3l-22.6 -15.1zM3013.4 1267.7l23.5 16.8l23.4 19.2l-5.7 40.9l-22.8 -18.7l-23.1 -16.1zM3016.5 1225.5l24 17.4l23.9 19.5l-4.1 41.3l-23.4 -19.2l-23.5 -16.8zM3018 1183.1l49 37.7l-2.5 41.6l-23.9 -19.5l-24 -17.4zM3017.7 1140.5l50.1 38.4l-0.9 41.9l-49 -37.7zM3015.9 1097.7l51.4 39.1l0.6 42.2l-50.1 -38.5zM3012.2 1054.6l52.7 39.6l2.3 42.5l-51.4 -39zM2922.4 1521.1l38.5 5.9l-6.7 33l-0.3 22.4l-34.2 -1.7l-0.9 -23.2zM2932.1 1468.2l41.4 12l-12.5 46.7l-38.5 -5.9zM2941.9 1419.6l42.9 17.1l-11.3 43.6l-41.4 -12zM2950.5 1373.2l43.9 20.9l-9.6 42.6l-42.9 -17.1zM2957.5 1328l44.8 23.9l-7.9 42.2l-44 -20.9zM2963 1283.5l45.7 26.3l-6.3 42.1l-44.8 -23.9zM2966.7 1239.5l46.7 28.3l-4.7 42.1l-45.8 -26.3zM2968.8 1195.6l47.7 29.9l-3.1 42.3l-46.7 -28.3zM2969.2 1151.8l48.8 31.3l-1.5 42.4l-47.7 -29.9zM2967.8 1107.9l49.9 32.5l0.2 42.7l-48.8 -31.4zM2964.7 1064.1l51.1 33.6l1.9 42.8l-49.9 -32.5zM2886.4 1516.2l36 4.9l-3.6 36.4l0.9 23.2l-33.7 -2.9l-1.3 -31.4zM2893.3 1459.7l38.7 8.6l-9.6 52.8l-36 -4.9zM2901.2 1407.2l40.7 12.4l-9.8 48.7l-38.8 -8.6zM2908.3 1357.3l42.1 15.8l-8.6 46.4l-40.6 -12.4zM2914.2 1309.2l43.4 18.8l-7.1 45.1l-42.1 -15.8zM2918.5 1262.3l44.5 21.3l-5.4 44.4l-43.4 -18.7zM2921.1 1216.1l45.6 23.4l-3.7 44.1l-44.6 -21.3zM2922.1 1170.3l46.7 25.3l-2 43.8l-45.7 -23.4zM2921.3 1124.9l47.9 26.9l-0.4 43.8l-46.7 -25.3zM2918.7 1079.7l49.1 28.3l1.4 43.8l-47.9 -26.9zM2851.7 1510.9l34.7 5.3l-1.7 30.2l1.3 31.5l-33.3 -4l-1.7 -31.9zM2856.5 1451.9l36.9 7.7l-7 56.6l-34.6 -5.3zM2862.4 1396.6l38.8 10.6l-7.9 52.5l-36.9 -7.8zM2867.9 1344l40.4 13.4l-7.1 49.8l-38.8 -10.6zM2872.4 1293.3l41.8 15.9l-5.8 48.1l-40.4 -13.3zM2875.3 1244.1l43.1 18.2l-4.3 47l-41.8 -15.9zM2876.7 1195.8l44.4 20.3l-2.7 46.2l-43.1 -18.2zM2876.4 1148.2l45.6 22.1l-0.9 45.7l-44.4 -20.2zM2874.4 1101.2l46.9 23.7l0.8 45.5l-45.7 -22.1zM2857.1 961.8l51 27.7l6.2 45l-49.5 -26.4zM2817.9 1504.8l33.9 6.1l-0.8 31.1l1.7 31.9l-33 -5l-1.9 -32.4zM2820.8 1444.1l35.6 7.8l-4.7 59l-33.9 -6.1zM2825 1386.6l37.4 10l-6 55.3l-35.6 -7.8zM2828.9 1331.8l39 12.2l-5.5 52.6l-37.4 -10zM2831.9 1278.9l40.5 14.4l-4.4 50.6l-39 -12.2zM2833.5 1227.6l41.9 16.4l-3 49.3l-40.5 -14.4zM2833.5 1177.5l43.2 18.3l-1.4 48.2l-41.9 -16.4zM2831.9 1128.2l44.5 20l0.3 47.5l-43.2 -18.2zM2784.6 1497.8l33.3 7l-0 31.7l1.8 32.4l-32.6 -6.2zM2786 1435.7l34.8 8.3l-3 60.8l-33.3 -7.1zM2788.6 1376.6l36.4 10l-4.2 57.5l-34.8 -8.4zM2791 1319.9l37.9 11.8l-3.9 54.9l-36.4 -10.1zM2792.5 1265.3l39.4 13.6l-2.9 52.8l-38 -11.8zM2792.7 1212.3l40.8 15.4l-1.6 51.3l-39.4 -13.7zM2791.3 1160.5l42.2 17l-0 50.2l-40.9 -15.4zM2751.6 1489.8l32.9 8l2.5 64.9l-32.4 -7.3zM2751.8 1426.7l34.2 9l-1.5 62.1l-32.9 -8zM2753 1366.2l35.6 10.4l-2.6 59.1l-34.2 -9zM2753.9 1308.1l37.1 11.8l-2.4 56.7l-35.6 -10.4zM2753.9 1252l38.6 13.4l-1.5 54.6l-37.1 -11.8zM2752.7 1197.4l40 14.9l-0.2 53l-38.5 -13.4zM2718.9 1480.8l32.7 9l3 65.6l-32.2 -8.3zM2718.1 1416.9l33.8 9.8l-0.2 63.1l-32.7 -9zM2717.9 1355.3l35.1 10.9l-1.1 60.4l-33.8 -9.8zM2717.4 1296l36.5 12.1l-0.9 58.1l-35.1 -10.9zM2716 1238.6l37.9 13.4l0 56.1l-36.5 -12.1zM2686.5 1470.8l32.5 10l3.5 66.2l-32.1 -9.4zM2684.5 1406.2l33.5 10.7l0.9 63.9l-32.5 -9.9zM2683.1 1343.8l34.8 11.5l0.2 61.6l-33.6 -10.7zM2681.3 1283.5l36.1 12.6l0.5 59.3l-34.8 -11.6zM2654.1 1459.9l32.4 10.9l3.9 66.9l-31.9 -10.5zM2651.2 1394.6l33.4 11.5l1.9 64.7l-32.4 -11zM2648.6 1331.5l34.5 12.3l1.5 62.4l-33.4 -11.6zM2645.4 1270.4l35.8 13.1l1.9 60.3l-34.6 -12.2zM2621.7 1448l32.3 11.9l4.5 67.3l-31.9 -11.5zM2617.9 1382.2l33.3 12.4l2.9 65.3l-32.4 -12zM2609.7 1256.6l35.7 13.7l3.1 61.2l-34.4 -13zM2561.2 892.2l42.9 5.9l3.9 50l-42.4 -6zM2589.4 1435l32.4 12.9l4.9 67.7l-31.8 -12.6zM2561.6 1192.1l42.6 4.4l5.5 60.1l-35.7 -14.4zM2551.2 1141.7l42.1 3.8l10.9 51l-42.6 -4.3zM2545.2 1290.1l34.5 14.6l4.9 64.2l-33.4 -14.2zM2519.4 1191.5l42.2 0.7l12.4 50.1l-42.8 -1.2zM2502.2 1292l43 -1.9l6 64.6l-33.5 -15.1zM2489 1243.4l42.3 -2.3l13.9 49l-43 1.9zM2491.7 1390.5l32.7 15.8l6.8 68.5l-32 -15.7zM2474.5 1344.5l43.2 -4.9l6.7 66.7l-32.7 -15.8zM2459.8 1297.1l42.4 -5.1l15.5 47.6l-43.2 4.9zM2447.2 1248.7l41.8 -5.3l13.2 48.6l-42.4 5.1zM2376.1 751.4l43.1 -5.4l4.9 48.5l-42.5 5.5zM2432 1352.2l42.5 -7.7l17.2 46l-43.5 7.7zM2418 1304.9l41.8 -7.8l14.7 47.4l-42.5 7.7zM2395.3 1207.5l41 -8l10.9 49.2l-41.3 7.9zM2327.2 711l43.2 -7.6l5.7 47.9l-42.6 7.8zM2320.4 663.7l43.9 -7.5l6.1 47.2l-43.2 7.6zM2915.2 1635.8l20.6 -31.8l18.1 -21.6l34.6 0.6l-16.5 38.3l-24.5 9.3zM2873 1636.2l26.7 -33.9l20.1 -21.6l34.1 1.7l-18.1 21.6l-20.6 31.8zM2835.3 1633.2l23.4 -27.2l27.3 -28.1l33.7 2.8l-20.1 21.6l-26.7 33.9zM2799.8 1628.3l52.9 -54.5l33.3 4l-27.2 28.2l-23.5 27.1zM2765.5 1622.1l54.2 -53.3l32.9 5.1l-52.8 54.5zM2732.1 1614.5l55 -51.9l32.6 6.2l-54.1 53.2zM2699.2 1605.8l55.4 -50.4l32.5 7.3l-55 51.9zM2666.7 1595.8l55.7 -48.8l32.2 8.4l-55.4 50.3zM2634.6 1584.7l55.8 -47.1l32 9.4l-55.7 48.8zM2602.6 1572.5l55.9 -45.4l31.9 10.5l-55.9 47.1zM2570.9 1559.2l55.8 -43.6l31.8 11.5l-55.8 45.4zM2539.1 1544.8l55.8 -41.8l31.7 12.6l-55.8 43.6zM2889 1680.1l26.1 -44.3l32.3 -5.2l24.5 -9.4l-18.2 37.9l-34.7 13.8zM2838.3 1685l34.6 -48.8l42.2 -0.4l-26.1 44.3l-26.6 3.6zM2794.8 1683.8l40.5 -50.6l37.6 3l-34.6 48.9zM2755.3 1679.2l44.5 -50.9l35.5 4.9l-40.5 50.5zM2718.2 1672.5l47.3 -50.4l34.3 6.3l-44.5 50.9zM2682.8 1663.9l49.2 -49.4l33.5 7.6l-47.3 50.3zM2648.6 1653.9l50.6 -48.1l32.9 8.7l-49.2 49.4zM2615.1 1642.5l51.6 -46.7l32.4 10l-50.6 48.1zM2582.3 1629.8l52.3 -45l32.1 11.1l-51.6 46.6zM2549.9 1615.8l52.8 -43.3l31.9 12.2l-52.3 45zM2517.7 1600.7l53.1 -41.5l31.8 13.3l-52.8 43.3zM2864.3 1720.7l24.7 -40.6l30 -7.1l34.8 -13.8l-19.9 37.4l-36.7 14.8zM2807.3 1729.2l31.1 -44.2l24.1 -1.4l26.6 -3.5l-24.7 40.6l-29.8 5.5zM2758.4 1730l36.5 -46.3l43.5 1.3l-31.1 44.2zM2714.7 1726.3l40.6 -47.1l39.5 4.6l-36.4 46.2zM2674.5 1719.5l43.7 -47l37.1 6.8l-40.6 47zM2636.8 1710.3l46 -46.3l35.5 8.5l-43.8 47zM2600.8 1699.2l47.8 -45.3l34.2 10l-46 46.4zM2566.1 1686.4l49.1 -43.9l33.4 11.4l-47.8 45.3zM2532.3 1672.2l50 -42.4l32.9 12.7l-49.1 44zM2499.1 1656.5l50.8 -40.7l32.4 14l-50.1 42.4zM2838.9 1759.3l25.4 -38.6l33 -9.3l36.7 -14.8l-21.6 36.9l-38.3 15.3zM2776.8 1770.4l30.5 -41.2l27.2 -3l29.8 -5.5l-25.4 38.6l-32.3 6.9zM2723.2 1773l35.2 -43l48.9 -0.8l-30.5 41.2zM2675.7 1770.1l39 -43.8l43.7 3.8l-35.2 42.9zM2632.4 1763.3l42.1 -43.8l40.2 6.8l-39.1 43.8zM2592.3 1753.6l44.4 -43.3l37.8 9.2l-42.1 43.8zM2554.5 1741.5l46.2 -42.3l36 11.1l-44.4 43.3zM2518.4 1727.4l47.6 -41l34.8 12.8l-46.3 42.3zM2483.6 1711.6l48.7 -39.4l33.8 14.2l-47.6 41zM2812.1 1796.5l26.8 -37.3l35.2 -10.5l38.4 -15.3l-23.4 36.4l-39.9 15.5zM2745.7 1809.4l31.1 -39l29.8 -4.3l32.3 -6.9l-26.8 37.3l-34.4 7.8zM2687.9 1813.4l35.3 -40.4l53.5 -2.6l-31.1 39.1l-29.8 2.9zM2636.9 1811.1l38.8 -41l47.5 2.9l-35.2 40.4zM2590.8 1804.2l41.6 -41l43.3 6.8l-38.8 41zM2548.5 1793.9l43.9 -40.4l40.1 9.8l-41.7 40.9zM2508.9 1780.8l45.6 -39.3l37.8 12.1l-43.9 40.3zM2471.5 1765.4l47 -38l36.1 14.1l-45.6 39.3zM2783.5 1832.8l28.6 -36.2l37.1 -11.3l39.9 -15.5l-25.2 35.8l-41.5 15.6zM2713.2 1846.8l32.5 -37.4l31.9 -5.1l34.5 -7.8l-28.6 36.3l-36.4 8.3zM2651.8 1851.6l36.2 -38.2l27.9 -1.1l29.8 -2.9l-32.5 37.4l-31.7 3.4zM2597.5 1849.6l39.4 -38.6l51 2.3l-36.1 38.3zM2548.8 1842.5l42 -38.3l46 6.8l-39.3 38.6zM2504.5 1831.5l44 -37.5l42.4 10.3l-42 38.3zM2463.3 1817.2l45.6 -36.4l39.6 13.2l-44.1 37.5zM2753 1868.1l30.5 -35.3l39 -11.6l41.4 -15.6l-27.1 35.3l-43.1 15.4zM2679 1882.8l34.2 -35.9l34 -5.7l36.3 -8.4l-30.5 35.3l-38.2 8.7zM2614.1 1888l37.6 -36.4l29.7 -1.4l31.8 -3.4l-34.2 36l-33.5 3.6zM2557 1885.9l40.5 -36.3l54.3 2l-37.6 36.3l-29.5 -0.2zM2506 1878.3l42.8 -35.8l48.7 7.1l-40.5 36.3zM2459.8 1866.2l44.7 -34.7l44.3 11l-42.8 35.8zM2720.2 1902.5l32.7 -34.4l40.7 -11.8l43.1 -15.5l-29.2 34.6l-44.8 15.3zM2642.7 1917.4l36.3 -34.6l35.8 -6l38.2 -8.7l-32.8 34.4l-40 8.8zM2574.6 1922.6l39.5 -34.6l31.4 -1.6l33.4 -3.6l-36.3 34.6l-35.1 3.7zM2514.9 1920.1l42.1 -34.2l27.7 1.8l29.5 0.2l-39.5 34.7l-30.9 -0.4zM2461.9 1911.6l44.1 -33.3l51 7.7l-42.1 34.2zM2685.1 1936l35.2 -33.5l42.4 -11.8l44.8 -15.3l-31.4 33.9l-46.7 15zM2604 1950.7l38.7 -33.3l37.5 -6.1l40 -8.8l-35.1 33.5l-41.8 8.7zM2532.9 1955.5l41.7 -32.9l32.9 -1.5l35.2 -3.7l-38.7 33.3l-36.8 3.5zM2470.9 1952.2l44 -32l29 2.1l30.8 0.3l-41.7 32.9l-32.1 -0.7zM2647.2 1968.6l37.8 -32.6l44.4 -11.7l46.6 -15l-33.8 33.2l-48.7 14.6zM2562.6 1982.7l41.4 -32l39.3 -6l41.8 -8.7l-37.8 32.5l-43.7 8.5zM2488.7 1986.6l44.2 -31.1l34.4 -1.3l36.7 -3.5l-41.4 32l-38.3 3.1zM2368.7 1970.2l47.5 -27.9l26.5 5.7l28.2 4.2l-46.2 29.7l-28.9 -5zM2235.6 1911.6l46.6 -25.2l19.5 11.3l20.9 10l-48.2 27.5l-20 -11.1zM2201.6 1883.2l45.2 -23.4l17.1 13.9l18.3 12.7l-46.6 25.3zM2606.4 2000.1l40.8 -31.5l46.3 -11.5l48.7 -14.7l-36.5 32.3l-50.9 14.3zM2518.1 2013.3l44.5 -30.6l41 -5.7l43.7 -8.5l-40.8 31.5l-45.7 8.1zM2227 1961.3l47.4 -26.1l21.5 9.6l22.9 8l-48.8 28.7l-22.3 -9.3zM2189.5 1935.6l46.1 -24l18.7 12.5l20.1 11.1l-47.4 26.1l-19.4 -12.2zM2562.2 2030.5l44.2 -30.4l48.5 -11.1l50.8 -14.3l-39.3 31.4l-53.4 13.8zM2418.2 2069.5l51.9 -27.2l44.4 -4.4l47.8 -7.5l-48.2 29.1l-49.9 6.6zM2132.6 2008l47.3 -22.3l20.2 12.1l21.6 10.6l-48.4 24.6l-21.1 -11.9zM2084.4 2027.6l48.2 -19.6l19.6 13.1l21.1 11.9l-49.2 21.8l-20.6 -13z"/>
<path fill="#0078ff" d="M1024.2 1426.9l36.1 44.4l-14.6 38.2l-37.9 -43.6zM1062.1 1385.9l11 43.5l-12.8 41.9l-36.1 -44.4zM932.1 1486.9l37.1 45.4l-22.4 27.7l-38.8 -45.3zM974.2 1419.3l33.5 46.6l-18.2 35.1l-35.4 -45.8zM689.7 1443.6l27.2 49.3l-37.4 9.3l-27.6 -49.3zM863.1 1343l10 46.3l-27.4 29l-12.1 -25.3l-10.5 -25.8zM590.5 1408.9l21.9 49.9l-41.1 2.6l-21.8 -49.9zM705.2 1380.1l20.5 50.5l-36 13l-21.3 -50.2zM1039.5 1130.2l-1.1 41.9l-48.9 38.4l-1 -42.6zM722.9 1259l4.9 51.3l-36.7 18.3l-4.5 -26.1l-2.8 -26.4zM763.1 1241.3l4.2 50l-39.6 19l-4.8 -51.3zM847.7 1202.8l2.7 47.1l-42.3 21.5l-3.5 -48.6zM892.6 1180.7l1.7 45.4l-43.9 23.8l-2.7 -47.1zM989.5 1125.5l-1 42.4l-48.2 31.3l-0.6 -43.8zM407.4 1151.5l-9.4 49.7l-41.1 -8l10 -49.7zM856.6 1057.7l-6.1 49.3l-43.8 16.4l6.3 -51.3zM951.1 1023l-6.1 44.5l-48.6 21.2l6 -46.9zM1003.8 999.1l-6.7 42.1l-52.1 26.3l6.1 -44.5zM548.9 1108.7l-9.2 25l-7.3 25.1l-42.2 0.7l7 -24.9l8.8 -24.8zM741.8 1042.9l-11.6 56.2l-39.8 13.3l11.8 -57.4zM1071.8 925.4l-10 40.3l-29.8 18.3l-28.3 15.1l8.8 -42.2l28.7 -13.9zM1083.6 885.5l-11.8 39.9l-30.6 17.7l-28.7 13.9l11 -42.6l28.7 -12.2zM669.6 956.4l-14.3 31.8l-12.1 31.3l-38.3 13.1l12 -31.7l14.1 -32.1zM708.2 944.8l-14.4 31.5l-12.1 30.9l-38.5 12.3l12.1 -31.3l14.3 -31.9zM746.8 934.1l-14.3 31.1l-12 30.4l-38.8 11.6l12.1 -31l14.4 -31.4zM1037.7 870.7l-14.1 43.7l-51.6 17l16.9 -48.7zM783.5 870.2l-19.8 32.3l-16.9 31.6l-38.6 10.7l16.9 -32l19.7 -32.6zM821.9 861.2l-19.7 31.9l-16.7 31.2l-38.7 9.8l16.9 -31.6l19.8 -32.3zM3684.2 653l39.2 46.4l-56 -13.6l-41.7 -46.5zM517.6 855.7l-46.7 42.4l-35.6 -12.5l46.9 -42.8zM3794.1 615.3l35.3 42.7l-62.9 -17.9l-39.1 -43.2zM571 676.3l-64.6 36.8l-22.8 -19.3l66.5 -37.7zM3494.5 480.7l51.4 40.7l-68.5 -14.5l-56 -41.2zM3362.9 426.4l58.4 39.3l-70.5 -12.6l-63.6 -39.8zM762.5 678.8l-50.3 15.7l-6.9 -37.8l55.1 -17.3zM3243.4 354.7l59.7 34.5l-82.2 -13.8l-68.2 -35.6zM825.3 550.8l-66.1 19.2l-2.1 -29.8l72.6 -21.1zM833.9 803.9l-39.3 9.4l-9.6 -23.7l-7.5 -23.4l42 -11.1l6 24.2zM3186.4 323.4l56.9 31.3l-90.7 -14.9l-68.4 -32.8zM3293.1 343l45.2 29.6l-94.9 -17.9l-56.9 -31.3zM972.1 343l-116 29.6l0.6 -17.9l125.6 -31.3zM929 415.8l-90.3 23.6l6.4 -24l97.9 -25.7zM862.4 651.8l-49.9 12.8l2.8 -41l54.7 -14.1zM1003.6 423.9l-86.2 19.4l11.6 -27.5l85.3 -17.7zM924.3 597.4l-54.3 12.1l10 -39.3l59.4 -13.2zM1019.4 508.5l-63.4 11.1l17 -34.8l69 -12.1zM1192.7 369.1l-86.2 11.7l15.9 -24.8l96.5 -14.1zM1054.8 539.9l-56.9 6.8l21.6 -38.3l61.1 -7.1zM1010.2 624.7l-48.9 6.8l16.8 -43.8l53 -6.8zM986.1 777.1l-37.3 5.1l-4.7 -26.9l-1 -26.4l40.5 -6.3l-0.9 26.9zM1269.2 364.4l-36.8 1.4l-39.7 3.3l26.2 -27.2l44.3 -4.4l40.8 -2.3zM1234.8 395.5l-33.9 0.8l-36.2 2.5l28 -29.7l39.7 -3.3l36.9 -1.4zM1169 463l-61.1 2l28.2 -34.2l33.5 -2l31.6 -0.4zM1082.8 578l-51.8 2.9l23.8 -41l54.7 -2.3zM1223.6 468.2l-26.4 -3.6l-28.2 -1.6l32.2 -34.6l29.5 1.5l27.3 3.7zM1160.9 541.6l-25.2 -2.9l-26.2 -1l28.8 -38.3l27.2 1.5l25.7 3.3zM1132.6 580.6l-24.6 -2.1l-25.2 -0.5l26.7 -40.4l26.2 1.1l25.2 2.9zM1517.7 291.5l-26.1 -6.6l-33.5 -3.4l42.7 -24.9l39.5 1.9l29.5 5.4zM1341.4 415l-21.8 -8.7l-25.2 -6l38.4 -32l26.1 5.7l22.2 8.4zM1269.7 482.9l-21.8 -8.7l-24.2 -6l34.4 -34.6l24.6 6.1l21.7 8.8zM1152.6 630.3l-22.7 -5.6l-23.3 -2.9l26.1 -41.2l23.7 4.2l22.5 6.9zM1602.8 285.4l-5.4 -6.7l-7.1 -5.8l-9.2 -5l-11.2 -4.1l55.6 -25.7l13 3.4l10.1 4.4l7.5 5.4l5.2 6.3zM1549.5 314.6l-5.6 -7l-7.1 -6.2l-19 -9.9l52.1 -27.6l11.3 4.1l9.1 4.9l7.2 5.8l5.3 6.7zM1500.5 344.9l-13.1 -13.8l-18.3 -10.6l48.7 -29.1l19 9.9l7.1 6.2l5.6 7.1zM1455.2 376.3l-13.5 -14.3l-18.1 -11.1l45.5 -30.4l18.3 10.6l13.1 13.8zM1413.2 408.6l-14 -14.7l-18.1 -11.4l42.5 -31.6l18 11.1l13.6 14.3zM1374.2 441.7l-14.6 -15l-18.2 -11.7l39.7 -32.6l18 11.5l14.1 14.7zM1273.1 545.4l-16.4 -15.5l-19.4 -11.7l32.4 -35.3l18.9 11.8l15.8 15.5zM1217.2 617.6l-8.4 -8.4l-9.4 -6.9l-20.6 -10.5l28.2 -37.3l20 11.2l17.1 15.5zM1169.6 691.9l-9.3 -8l-10.2 -5.8l-21.8 -7.2l24.3 -40.5l21.2 9.2l9.8 6.6l8.8 8.3zM2115.5 354.3l51.6 -14.9l21.9 35.6l-49.9 13.8zM2111.5 441.6l47.6 -15.6l17.3 39.3l-46.5 14.9zM2090.1 405.4l49 -16.6l20.1 37.1l-47.7 15.7zM1763.5 281.3l63.5 -24.9l39.1 -3.3l35.9 -0.6l-58.7 31.1l-37.6 -2.6zM1946.2 342.3l53.7 -24.6l18.5 11.8l16.9 13.2l-51.8 22.2l-17.8 -12zM1413.2 408.6l42 -32.3l53.5 -14.3l50.7 -11.1l-46.7 31.5l-48.4 11.5zM2000.1 676.2l42.7 -18.6l12.6 44.3l-41.9 18.2zM1967.5 594l44.4 -19.9l16.5 40.8l-43.5 19.2zM1947.4 556.4l45.5 -20.8l19 38.5l-44.4 19.9zM1786.1 423.6l52.6 -25.8l21.6 8l20 9.6l-52.5 27.5zM1624.9 395.3l49.8 -31.1l32.9 1.3l30.3 3.3l-51.4 29.8l-29.6 -2.6zM1971.5 738.7l42 -18.6l11.8 45.3l-41.4 18.3zM1689 439.2l50.5 -30.7l46.6 15.1l-51.3 29zM1929.5 757.5l42 -18.8l12.5 45.1l-41.4 18.3zM1592.7 508.2l47.5 -35.8l44.6 12.1l-49 34.7zM1625.6 569.9l49.6 -36.4l36.9 16.9l-50.6 34.9zM1587.4 556.8l48.3 -37.5l39.5 14.2l-49.6 36.4zM1546.2 546.5l46.5 -38.3l43 11l-48.3 37.6zM1490.9 640.5l48.5 -43.3l36.6 12l-50 42.4zM1322.1 621.7l34.5 -41.2l53.9 -2.6l-39.4 42.9zM1330.6 667.1l40.5 -46.3l43.3 3.7l-44.6 47.1zM1236 670.8l28.2 -40.6l30.3 -5.5l27.5 -3.1l-34.9 44.3l-24.2 1.3zM1546 791.4l55.7 -41.5l30.9 16.2l-55.7 39.7zM1515 778.1l55.5 -43.3l31.2 15.1l-55.7 41.5zM1425.3 813.1l58.6 -47.1l31.2 12.1l-58.5 45.5zM1628.6 1156.5l41.4 -5.5l9.5 49.7l-41.1 5.7zM1629 1410.7l41.6 -3.2l7.3 49.9l-41.9 3.2zM1614.2 1310.1l41.3 -3.2l7.7 50.4l-41.4 3.2zM1544.7 1158.5l42.2 0.6l10.1 50.1l-41.8 -0.2zM1524.3 981.7l33 14.2l4.7 64.6l-34.2 -14.6zM1489.8 902.7l31.9 12.9l2.6 66.1l-32.9 -13.3zM1437.8 1238.2l42.4 11.1l8.2 51.5l-42.3 -10.4zM1431.9 1182.6l38.6 14.9l9.7 51.8l-42.4 -11.1zM1428 1125.7l37.1 14l5.5 57.8l-38.7 -14.9zM1397.4 1222.5l40.5 15.8l8.3 52.2l-42.4 -14.6zM1393 1168l38.9 14.7l5.9 55.6l-40.4 -15.8zM1393.9 869.9l32.1 9.9l-0.6 64.7l-33.1 -10.7zM1380.9 1463.2l44 16.6l3.4 48.3l-45 -16.5zM1356.5 1206.6l40.9 15.9l6.4 53.4l-42.4 -17.1zM1313.7 1138.5l39.9 14.8l2.9 53.3l-41.5 -16.3zM1314.3 1085.5l38.4 13.3l0.9 54.6l-39.9 -14.9zM1251.7 1439l42.9 28.2l-0.7 47.3l-44.2 -27.8zM1232.3 1249.7l46.1 21.5l6.1 48.1l-47.7 -22.9zM1150.3 1022.9l43 18.7l-5 47l-44.2 -21.2zM1088.7 1210.5l50.1 32.5l3.7 43.9l-51.5 -33.6zM1093.4 1083.2l46.4 28.2l-2.3 43.9l-47.6 -29.9zM1042.4 1088.6l23.7 19.5l23.9 17.4l-1.6 42.4l-48.9 -37.7zM1053.6 1006.3l22.5 18.8l22.7 16l-5.3 42.1l-23.3 -16.8l-23.1 -19.1zM1061.8 965.7l21.9 18.3l22.3 15.1l-7.2 42l-22.8 -16l-22.5 -18.8zM2341.4 2163l7.3 -7.5l18.1 -14.7l52.3 -9.6l51.3 -11.7l-6.6 11.7l-1.2 5.1l0.6 4.6l-58.8 11.9zM2001.5 2125.2l31.7 -4.4l29.8 -6.2l25.2 11.8l27.8 10.2l-30.5 7.8l-33.1 5.8l-26.9 -11.9zM1742.3 2084.6l79.9 10.3l25.6 28.2l-92.1 -12.5zM1659.1 2092.1l96.7 18.6l5 11.4l2.7 10.2l-112.1 -21.6l5.4 -8.6zM1568.3 1964.3l66.3 14.4l8.9 32.8l-71.8 -16.2zM1467 2041.8l95 27l-7.9 8.7l-10.9 7.3l-102.5 -29.3l14.5 -6.2zM1498.9 1879.9l59.8 15.2l5.1 35.7l-63.5 -16.6zM1496.7 1843.4l56.7 13.9l5.3 37.8l-59.8 -15.2zM1439.2 1788.6l54.9 16.3l2.6 38.5l-57.5 -17.5zM1362.9 1898.6l68.7 25.4l-6.9 27.2l-73.2 -27.2zM1386.5 1690.3l50.8 18l1.2 41.1l-52.9 -18.8zM1041.7 1918.4l80.7 39.2l-52.8 0.7l-79.9 -39.8zM1198 1753.6l58.4 31.3l-12.3 28.5l-61.2 -32.5zM1210.5 1723.3l55.8 30.3l-9.9 31.3l-58.4 -31.3zM1220.9 1690.2l53.4 29.4l-8 34l-55.8 -30.3zM1141.6 1719.6l56.3 34l-15 27.3l-58.8 -35zM919.4 1785.3l64.3 42.1l-41.2 5.8l-64.6 -42.8zM956.8 1776.8l63.3 41.2l-36.5 9.3l-64.2 -42zM1045.6 1730.7l58.1 38.3l-23.9 19.8l-60.1 -39.3zM763.8 1701.1l54.4 45.2l-45.3 1.2l-54 -45.6zM879.6 1679.6l53 43.4l-34.4 11.2l-53.9 -44.1zM3751 1435.4l-40.2 44.9l-34.1 -14.4l39.6 -44.6zM3984.6 1573.7l-52.6 47.1l-25.1 -17.3l50.8 -46.8zM431.8 1581.9l38.3 48.2l-53.9 -11.8l-36.3 -48.2zM247.4 1492.9l27.3 48.8l-52.9 -16l-25 -48.7zM298.1 1507.8l29.4 48.8l-52.8 -14.8l-27.3 -48.8zM348.6 1521.2l31.4 48.9l-52.5 -13.5l-29.4 -48.9zM4012 1376.1l-30.8 49l-31.4 -17.7l29.2 -48.9zM273.5 1458.4l24.5 49.4l-50.7 -14.8l-22.5 -49.4zM4002.8 1309l-23.8 49.5l-33.8 -17.3l22.3 -49.5zM4071.3 1344l-27 49.7l-32.4 -17.6l25.4 -49.6zM207.2 1393.7l17.6 49.8l-48.6 -15.9l-15.6 -49.8zM3830.3 1180.6l-11.7 49.7l-39.2 -12.1l10.7 -49.7zM4021.4 1259.1l-18.6 50l-35.2 -17.3l17 -49.9zM330.3 1383.8l17.4 50.1l-46.7 -11.9l-16 -50.2zM3879.8 1093.9l-2.3 50.3l-40.8 -13.6l1 -50.3zM4046.8 1107.9l-3.5 50.4l-40 -17.1l1.8 -50.4zM3913.8 1008l6.3 50.3l-43.1 -14.8l-7.9 -50.3zM356.8 1193.1l-4.1 50l-41.6 -10.2l5 -50zM3886.9 908l15.8 49.8l-46.3 -14.8l-17.6 -49.8zM343.8 1084.2l-16.8 49.1l-39.1 -12.1l17.7 -49.1zM4064 926.4l12.3 49.1l-46.7 -17.6l-14.3 -49.2zM224.4 978.5l-27.4 48.7l-34.2 -16.9l28.9 -48.8zM293 1009.9l-24.7 48.4l-36.2 -15l26 -48.6zM3738.1 781.4l28.6 48.9l-49.4 -11.9l-30.3 -48.9zM4048 878l16 48.3l-48.7 -17.6l-18.2 -48.5zM433.5 998.8l-28.4 47.3l-38.6 -10.2l28.8 -47.3zM3001.7 728.3l44.3 37.9l-16.7 34.6l-42.6 -37.7zM3258.5 560.9l55 44.1l-42.2 4.4l-54.9 -43.5zM3304.3 559.2l54.6 44.6l-45.4 1.2l-55.1 -44.1zM3353.8 560.7l53.8 45l-48.6 -1.8l-54.6 -44.6zM3007.4 605.2l52.5 37.4l-21.9 25.4l-50.6 -36.5zM3349.3 520.9l57.1 44.2l-52.7 -4.4l-58.6 -43.9zM2972.9 545.9l57.4 36.2l-22.9 23l-55.2 -35zM2837.1 706.7l47.2 28.1l-8.3 40.8l-45.6 -27.8zM2845.2 667.9l48.9 28.6l-9.8 38.4l-47.1 -28.1zM2894.6 537.6l57.6 32.5l-17.9 27.3l-55.2 -31.3zM3024.6 444.4l68.4 38.9l-36.5 10.3l-66.8 -37.7zM3283.8 443.2l63.7 41.7l-59.9 -6.9l-66.5 -41.6zM2788.8 682l48.3 24.8l-6.7 41.1l-46.7 -24.3zM2891.8 436.8l68 34.3l-25.4 18.8l-65.1 -32.8zM2991 398.5l74 38.3l-40.4 7.6l-72.7 -37.1zM3089.9 393l73.5 39.8l-52.1 0.1l-74.4 -39.2zM3011.1 354.9l78.8 38.2l-53 0.7l-79.7 -37.5zM2651.6 436.7l61.5 20.4l-6.8 32.7l-58.3 -18.9zM2681.1 256.1l98.9 31.1l-22.3 3.6l-19.1 4.9l-94.8 -29.3l16.6 -5.9zM2543.8 240.4l100.1 26l-13.1 7.3l-10.2 8.6l-90.6 -23.3l5.4 -10zM2508.2 196.6l62.5 12.6l58.5 13.6l-31.6 1.5l-24 3.6l-57.6 -12.9l-60.6 -11.8l20.1 -4.6zM2424.2 432.6l53.9 3.9l5.3 39.9l-51.8 -3.1zM2394.7 320.4l64 7.1l7.1 34.3l-59.9 -5.8zM2325.4 183.8l66.4 8.9l63.7 10.5l-11 6.8l-5 8.7l-52.6 -8.7l-51.9 -6.9l-7.9 -12.9zM2364.6 174.6l75.7 10.3l67.9 11.6l-32.7 2l-20.1 4.7l-63.7 -10.6l-66.4 -8.9l1.7 -3.5l5.6 -2.8l11.7 -2zM2381.2 473.8l50.4 -0.4l6.5 42.1l-48.7 0.9zM2348.4 354.6l57.5 1.4l9.7 37.5l-54.6 -0.8zM2198 225.6l35.2 -2.5l37.2 -0.5l25.1 29.4l-33.7 0.5l-32.5 2.1l-14.7 -14.9zM2337.4 1118l40.4 -10.2l8.3 50l-40.5 10.2zM2324.5 1278.9l40.5 -12.1l11.7 48.3l-40.9 12.2zM2282.8 1029.4l40.2 -12l6.9 50.3l-40.1 12.1zM2265.6 1193.7l39.9 -13.6l9 49.6l-40 13.7zM2267.3 1403.9l40.5 -15.3l14.1 46.3l-41 15.5zM2156.4 1023.3l39.7 -15.8l7 50.3l-39.6 15.8zM2124.1 1090.3l39.4 -16.6l7.3 50.4l-39.3 16.6zM2094.3 890.8l40.3 -16.8l7.5 49.4l-40 16.7zM2159.8 1502.3l40.1 -17.9l14.4 45.8l-40.5 18.2zM2068.9 1275.9l39.1 -17.4l8.6 49.9l-39.2 17.5zM2029.8 1293.4l39.1 -17.4l8.5 50l-39.1 17.5zM2017.8 1459.7l39.4 -17.4l10.8 48.5l-39.6 17.5zM1982.7 1260.2l39.1 -17.1l8 50.3l-39.1 17.1zM1974.9 1209.8l39.1 -17.1l7.8 50.4l-39.1 17.1zM1967.2 1159.4l39.2 -17.2l7.6 50.5l-39.1 17.1zM1978.2 1476.4l39.5 -16.8l10.6 48.6l-39.7 16.9zM1920 1125.8l39.4 -16.7l7.8 50.2l-39.3 16.7zM1880.5 1141.8l39.5 -15.9l7.9 50.1l-39.4 15.9zM1863.1 1042.8l40 -16.1l8.7 49.3l-39.8 16zM1889.4 1457.8l39.8 -14.8l9.3 49.4l-39.9 14.8zM1809.2 1220.4l39.8 -13.6l7.9 50.3l-39.7 13.6zM1752.4 1393.5l40.4 -10.2l7.9 50.1l-40.5 10.2zM1676.5 998.3l42.2 -10.2l12.2 47.3l-41.5 10.2zM2463.2 2140.9l-0.7 -4.6l1.2 -5.1l6.7 -11.7l56.3 -26.2l7.1 6.3l9.1 5.4l11.4 4.5l14.1 3.4l-50.6 14.6zM2811.1 2067.4l-47.2 2.6l-41 -0.3l36.4 -27.2l36.1 1.6l41 -1.1zM2969.2 1982.2l-39 3.3l-36.6 1.4l29 -31.2l33.7 -0.7l35.8 -2.6zM2834.1 2092.2l-47.8 4.3l-40.9 2l65.7 -31.1l33.9 -0.4l39.7 -2.7zM3068.3 1942.5l-76.2 9.9l23.5 -32.1l69.9 -8.5zM3159 1898.4l-73.5 13.4l18.1 -33.3l67.4 -12zM3149 1927.4l-80.7 15.1l17.2 -30.7l73.5 -13.4zM3240.1 1850.9l-69.1 15.6l12.7 -34.7l63.3 -14.3zM3454 1783.5l-73.9 27.7l-5.3 -29.7l64.1 -21.1zM3513 1909.4l-101.4 36.2l-5.5 -18.9l96.2 -35.1zM791.2 1925.1l66 37.1l-88.7 -16.6l-58.5 -36.1zM3527.2 1925.1l-106.2 37.1l-9.3 -16.6l101.4 -36.1zM3646.5 1776.9l-78.5 38.5l-12.6 -20.8l75.3 -37.6zM3678.6 1813.8l-85.2 40.1l-13.1 -18.6l81.9 -39.3zM733.3 1856.8l65.9 41.5l-72.3 -12.6l-61.5 -41.2zM798.1 1866.6l69.6 41.7l-68.5 -9.9l-65.9 -41.5zM3639.4 1657.7l-63.5 37.6l-22.5 -20.1l61.8 -36.8zM3701.4 1717l-70.7 40.1l-16.6 -20.5l68 -39.3zM3552.5 1513.3l-42.9 16.5l-29.7 -40l40.5 -14.6zM3752.9 1575l-54.4 42.4l-25.8 -18.6l52.8 -41.9zM3802.1 1530.7l-49.2 44.3l-27.4 -18.1l47.7 -43.9zM3932 1620.7l-58.5 46l-23.1 -17.6l56.5 -45.6zM3957.4 1637l-60.3 46.2l-23.6 -16.5l58.5 -46zM342.5 1637l40.1 46.2l-60.9 -16.5l-37.2 -46zM3601.1 1391l-18.7 34.1l-21.2 34.5l-40.8 15.6l22.1 -34.4l19.2 -34zM3674.8 1352.7l-33.4 46l-40.3 -7.7l33.7 -46.1zM3455 1225.3l-11.3 58.5l-38.8 12.5l11.2 -57.4zM3493.4 1211.3l-11.3 59.4l-38.3 13.1l11.3 -58.5zM3531.2 1196.9l-11.2 60.1l-37.9 13.7l11.3 -59.4zM3753.9 1108.3l-4.4 50l-41.1 -8l3.7 -50.1zM3746.3 1007.7l6.5 50.3l-42.5 -8.1l-7.4 -50.3zM3236.6 961.9l8.7 46.3l-42 26.4l-7.4 -45.1zM3265 932.9l20.9 51.1l-40.6 24.2l-8.7 -46.3zM3397 858.4l25 49.3l-36.5 13l-24.4 -49.5zM3620.7 800.5l28.2 49.2l-45.6 -5.7l-29.2 -49zM3234.4 812.5l32.9 47l-28.9 24.2l-31.6 -47.2zM3264.3 792.3l33.9 47l-30.9 20.3l-32.9 -47.1zM2828.5 1079.6l45.9 21.5l2 47.1l-44.5 -20zM2830.4 747.8l45.6 27.8l-6.9 43.1l-44.1 -27.7zM2783.8 723.5l46.7 24.3l-5.5 43.2l-45.2 -24zM2732.6 937.3l42.2 21.1l2 51.9l-41.7 -21.9zM2733.8 746.6l46 20.4l-3 45.3l-44.7 -20.2zM2693 970.9l42.2 17.4l4 52.4l-41.9 -18.3zM2655.2 1008.5l42.2 13.9l5.9 52.4l-42.1 -14.6zM2641.3 1211l37.2 14l2.8 58.5l-35.9 -13.1zM2635.8 1153.1l38.6 14.9l4.1 56.9l-37.2 -14zM2600.9 848.8l43.6 9.3l2.5 49.3l-42.9 -9.3zM2593.4 1145.4l42.4 7.7l5.5 57.8l-37 -14.4zM2546.4 653.8l47.1 7.1l1.3 45.4l-45.9 -6.7zM2574 1242.3l35.7 14.4l4.4 61.8l-34.4 -13.8zM2535.1 1040.3l41.9 3l7.4 51l-41.9 -3.3zM2506.9 743.4l44.5 3.1l2.9 47.8l-43.8 -2.9zM2531.3 1241.1l42.8 1.1l5.7 62.5l-34.5 -14.6zM2493.4 1040.5l41.6 -0.2l7.4 50.7l-41.6 -0zM2452.1 1043.7l41.3 -3.1l7.4 50.4l-41.3 3zM2411.1 1049.4l41 -5.8l7.4 50.4l-41 5.7zM2364.3 656.2l44.5 -4.9l5.4 46.9l-43.8 5.2zM2356.3 1522.9l43.2 -14.7l22.4 40.4l-44.5 15.2zM2338 1674.7l45.4 -19.5l32.9 20.2l-49.6 32.6zM2313 1637.9l43.9 -18.5l26.4 35.8l-45.3 19.5zM2249 1616.9l42.1 -18.6l21.9 39.6l-43.1 19.3zM2230.6 1574.4l41.4 -18.1l19.1 41.9l-42.1 18.7zM2214.3 1530.2l40.8 -17.7l16.8 43.9l-41.3 18.1zM2127.8 1871.6l43.9 -20.9l29.9 32.4l-44.9 22.3zM2102.4 1834.8l43.1 -19.9l26.3 35.8l-44 20.9zM2179.9 1985.7l47.1 -24.4l20.7 10.9l22.3 9.3l-48.4 26.8l-21.6 -10.6zM2083.7 1891.2l44.1 -19.5l28.8 33.8l-44.9 20.8zM2018.1 1771.3l42 -17.3l19.8 41.4l-42.5 17.9zM1975.7 1787.2l42.4 -15.9l19.2 42l-43 16.3zM1906.3 1856.4l44.5 -12.3l20.3 41.2l-45.4 12.6zM2266.2 2152.2l48.3 -27.1l43.2 -4.8l45.2 -7.4l-36.1 28l-51.6 7.1z"/>
<path fill="#1effd7" d="M532.4 1599.6l41.5 48l-51.1 -7.7l-40 -48.1zM845.7 1418.3l28.5 49.2l-27.8 24.2l-29.9 -48.7zM989.5 1210.5l2.9 42.8l-44.8 33.6l-4.7 -43.9zM1042.4 1088.6l-2.9 41.6l-51 37.7l1 -42.4zM575.2 1154.5l-6.1 25.5l-4.3 25.6l-41.9 3.7l3.9 -25.2l5.6 -25.2zM486.1 1059l-11.9 24.2l-10.2 24.4l-41 -5.3l21.9 -48.4zM515 1011.4l-15.3 23.6l-13.5 24l-41.2 -5.1l28.4 -47.4zM674 848l-24.9 34.2l-21.7 33.8l-39.6 13.9l21.1 -33.9l24.2 -34.4zM1129.7 768.1l-17.2 38.7l-23.7 10l-31.8 7.3l19 -33l18.6 -22.4zM3862.8 702.4l30.8 45.7l-56.7 -17.3l-33.8 -45.9zM759.8 603l-60.4 19.2l-6.4 -31.2l66.2 -21.1zM989.3 452.9l-78.1 17.4l6.3 -27l86.1 -19.4zM1106.4 715.2l-41.8 -0.4l8.4 -25.1l10.2 -23.7l22.5 1.3l22.5 3.6zM1971 499.8l46.7 -20.9l20.7 36.8l-45.4 19.9zM1521.6 915.6l31.9 13.9l3.7 66.4l-33 -14.2zM1530.6 1307.3l41.9 3l7.5 50.5l-42.1 -2.7zM1465.1 1139.7l37 14.4l10.9 51.1l-42.5 -7.7zM1200.8 1361.4l51.8 27.6l-0.9 50l-41.3 -32.5zM1247.7 2032.7l99.4 34.3l-70.9 -2.5l-94.8 -34.4zM1155.4 1996.4l92.2 36.3l-66.3 -2.6l-88.9 -36.6zM1209 1995l92.8 35.6l-54.1 2.2l-92.2 -36.4zM1188.8 1584.7l47.7 31.3l-7 38.4l-49.7 -31.8zM1019.7 1749.5l60.1 39.3l-27.8 16.3l-61.8 -40.2zM3790.2 1168.6l-10.8 49.6l-39.9 -10.2l10 -49.6zM3221.1 436.3l66.5 41.6l-55.8 -3.8l-68.4 -41.3zM2594 355.6l69.6 20.3l-7.1 29l-64.9 -18.4zM2354.7 1217.7l40.6 -10.2l10.6 49.1l-40.9 10.2zM2345.6 1168.1l40.5 -10.2l9.3 49.7l-40.7 10.1zM2274.4 1243.5l40 -13.7l10.1 49.1l-40.2 13.8zM2167.3 809.3l41 -14.9l7.3 48.9l-40.6 14.8zM2745.4 2098.5l-33.2 -0.6l-25.1 -3.3l35.8 -24.9l41.1 0.3l47.2 -2.6zM3710.7 1480.3l-45.6 43.1l-33.5 -14.7l45.1 -42.8zM3773.3 1513l-47.7 43.9l-29.2 -17.4l46.5 -43.4zM3499.9 892.6l20 49.9l-39.9 6l-19.8 -50.1zM3493.8 743.7l35.1 48.3l-43.5 -0.2l-35.6 -48zM2453.9 1567.1l53.5 -37.7l31.8 15.5l-53.4 39.6zM2416.2 1675.4l50.2 -35.8l32.7 16.9l-49.6 37.7zM1899.7 1947.9l47.9 -10.2l25.1 37.9l-49.3 10.6z"/>
<path fill="#0000c8" d="M954.1 1455.1l35.4 45.8l-20.3 31.4l-37.1 -45.5zM632 1559.6l38.6 48l-44 0.1l-38.1 -48.2zM673.5 1556.7l38.8 47.8l-41.6 3.1l-38.7 -48zM716.8 1493l32.8 48.4l-36.9 9.3l-33.2 -48.4zM507.3 1411.1l21.4 49.9l-43.8 -3.2l-20.8 -49.9zM549.5 1411.6l21.8 49.9l-42.6 -0.4l-21.4 -49.9zM574.5 1358.5l16 50.4l-41 2.7l-16 -50.3zM653.3 1342.5l15.1 51l-38.3 9.5l-15.7 -50.6zM691.1 1328.6l6.2 25.9l7.9 25.6l-36.8 13.4l-15 -51zM523.7 1310.7l9.9 50.6l-41.9 -0.4l-9.7 -50.4zM520 1260l3.6 50.7l-41.7 -0.2l-3.5 -50.5zM992.3 1083.3l-2.8 42.2l-49.8 30l1.5 -43.9zM945 1067.5l-3.7 44.1l-48.1 23.4l3.2 -46.2zM997.1 1041.1l-4.7 42.1l-51.1 28.3l3.7 -44.1zM744.8 880.2l-19.7 32.6l-16.9 32.1l-38.6 11.5l16.7 -32.4l19.6 -32.9zM754.8 823.8l-26.2 33.9l-22.7 33.4l-39.1 11.9l22.2 -33.6l25.6 -34.1zM833.9 803.9l-27.2 33.4l-23.2 32.9l-38.6 9.9l23 -33.1l26.7 -33.7zM1059 770.3l-26.2 30.7l-18.6 28.9l-39.5 4.9l20.9 -30.2l27.2 -31.5zM1094.6 768.6l-18.6 22.4l-19 33l-42.8 5.9l18.6 -28.9l26.2 -30.7zM364.5 776.6l-51.7 44.3l-26.5 -18.2l53.5 -44.7zM482.2 842.8l-46.9 42.7l-33.5 -14.3l47.6 -43.1zM3727.4 596.9l39.1 43.2l-62.8 -16.9l-42.8 -43.6zM3686.6 555.5l40.8 41.4l-66.5 -17.3l-45.1 -41.9zM550.1 656.1l-66.5 37.7l-20.7 -19.8l68.9 -38.5zM594.9 695.8l-63.1 35.8l-25.4 -18.5l64.6 -36.8zM3721.3 536.1l36.3 38.5l-71 -19l-41.5 -39.4zM569.6 536.1l-82.7 38.5l-13.7 -19l86.4 -39.4zM3441.7 442l52.8 38.6l-73.1 -14.9l-58.5 -39.4zM3220.9 375.4l66.4 37.9l-71.4 -10.2l-72 -38.3zM3019.1 277.7l65.2 29.3l-94.7 -12.4l-80.1 -31zM1086.8 408.8l-83.2 15.2l10.7 -25.8l92.3 -17.3zM1064.8 439.4l-75.5 13.4l14.3 -28.9l83.1 -15.2zM961.2 631.5l-49.2 9.2l12.3 -43.3l53.7 -9.7zM948.9 782.2l-37.8 6.2l-6 -26.2l-2.7 -25.7l40.8 -7.6l1 26.4zM1373.1 337.7l-32.3 -2.5l-36.8 0l33.9 -27l41.4 -1.1l35.8 1.6zM1191.3 504.2l-25.7 -3.4l-27.2 -1.4l30.6 -36.4l28.3 1.6l26.4 3.7zM1207 554.5l-22.2 -7.8l-23.9 -5.1l30.4 -37.4l24 5.7l21.9 8.4zM1661.3 257.6l-5.2 -6.3l-7.5 -5.4l-10.1 -4.4l-13 -3.4l55.9 -14.6l60 -13.4l-4.4 9.6l-10.9 11.7zM1244.1 581.2l-17 -15.5l-20 -11.2l30.2 -36.3l19.4 11.7l16.4 15.5zM1192.4 654.5l-8.8 -8.3l-9.8 -6.6l-21.2 -9.2l26.2 -38.6l20.6 10.5l9.4 6.9l8.4 8.4zM1783.7 307.9l59.6 -24.4l32.6 0.4l29.7 2.7l-57.4 30.6l-30.7 -5.8zM2017.7 478.9l46.8 -19.5l19.5 37.7l-45.6 18.6zM1993.5 445.1l48.1 -20.8l22.8 35.1l-46.8 19.5zM1965.3 414.9l49.7 -22.4l26.7 31.8l-48.2 20.8zM1932 389.3l51.5 -24.4l16.4 13.3l15.1 14.4l-49.7 22.4l-16 -13.5zM1865.3 464.2l50.2 -25.2l15.6 13.6l14.4 14.8l-48.4 23.4l-15.3 -13.9zM1814.2 490.4l51 -26.2l16.6 12.7l15.2 13.9l-48.9 24.2l-16.3 -12.9zM1734.9 452.6l51.3 -29l41.7 19.4l-51.7 26.9zM1762.9 518.7l51.3 -28.3l17.6 11.6l16.3 13l-49.8 24.7zM1684.8 484.5l50.1 -31.9l41.3 17.3l-50.8 30.2zM1808.7 621.2l46.8 -21.7l22.7 35.6l-45.3 20.6zM1809.1 712.6l44.5 -19.3l18 40.3l-43.4 18.6zM1356.5 580.5l35.3 -39l30.2 -2.9l28 -1.1l-39.6 40.4zM1739.8 786.8l44.5 -16.7l17.7 41.4l-43.3 16.2zM1592.3 678.5l52 -39.5l32.5 17.4l-52.6 37.7zM1559.7 664.3l51.2 -41l33.5 15.8l-52 39.4zM1663.5 783.5l54.3 -34.9l22 38.1l-45.4 15.3zM1507.2 708.2l52.5 -44l32.7 14.3l-53.3 42.4zM1206.5 715.2l29.5 -44.3l26.8 -3.6l24.3 -1.4l-38.4 48.9zM1612.8 891.4l57.1 -36.2l18.7 42.4l-44.2 10.4zM1581.5 875.8l57.3 -38.1l31.1 17.5l-57 36.2zM1590.4 1011l43.4 -4.9l13.7 47.4l-42.5 5.1zM1557.3 995.9l33.1 15.1l14.7 47.6l-43.1 1.9zM1620 1654.5l44.9 0.4l8.3 46.6l-45.9 -0.7zM1453.1 1342.1l42.5 9.8l6.4 50.7l-42.9 -9.5zM1446.1 1290.5l42.3 10.4l7.2 51.1l-42.5 -9.8zM1386.2 1604.2l47.5 16.9l2 44.3l-49 -17.3zM1385.1 1558.7l46.1 16.6l2.5 45.8l-47.5 -16.9zM1377.8 1413.5l43.3 16.9l3.9 49.5l-44 -16.6zM1338.6 1491.4l44.7 20.3l1.7 47l-45.9 -20.3zM1337.3 1442.7l43.7 20.5l2.4 48.5l-44.7 -20.3zM1323.8 1291.1l44.6 18.9l5.3 52.4l-42.2 -21.9zM1292.2 1559.8l46.7 24l-1.1 43.5l-48.3 -24.3zM1293.9 1514.5l45.3 24l-0.3 45.3l-46.7 -24zM1274.6 1222.6l43.8 18.5l5.4 50.1l-45.3 -20zM1246.5 1532.2l45.7 27.6l-2.7 43.3l-47.4 -27.8zM1249.7 1486.7l44.2 27.8l-1.7 45.3l-45.7 -27.7zM1229.9 1202.6l44.7 19.9l3.8 48.6l-46.1 -21.4zM1229.6 1155.1l43.2 18.2l1.8 49.3l-44.7 -19.9zM1231.3 1106.8l41.7 16.4l-0.2 50.1l-43.2 -18.2zM1202.3 1500.9l44.2 31.3l-4.4 43.1l-45.8 -31.2zM1207 1455l42.7 31.7l-3.2 45.5l-44.2 -31.4zM1193.4 1316.3l50.1 26.4l9 46.3l-51.8 -27.6zM1188.3 1271.2l48.6 25.1l6.7 46.5l-50.1 -26.5zM1185.2 1226l47.1 23.7l4.5 46.7l-48.6 -25.2zM1208.8 943.7l38.5 10.5l-7 52.6l-40.1 -13.3zM1160.1 1465.8l42.2 35.1l-6 43.2l-43.9 -34.7zM1154.1 824l38.3 5.9l-12.1 52.8l-40.9 -12zM1164.3 768.6l34 1.7l-0.4 23.2l-5.6 36.4l-38.2 -5.9l8.5 -33zM1773.2 1740.6l44 -7.3l12.9 45.4l-44.9 7.2zM1973.6 2154.4l41.9 -0.8l36.9 -3.4l30.6 10.4l35.6 8.3l-39 5.7l-49.7 1.7l-30.4 -10.3zM1797.6 1958l52.2 -3.2l21.9 38.4l-54.5 3zM1780.4 1918.2l50.2 -3.5l19.2 40.1l-52.1 3.2zM1778.1 2030.3l61.4 2.1l25.7 34.4l-66.3 -3zM1728.1 1918.1l52.3 0.1l17.3 39.8l-54.7 -0.7zM1673.2 1701.5l45 -2.2l10 46l-46 1.9zM1685.6 1952.5l57.3 4.8l16.7 37.4l-61 -5.8zM1484.3 2125.4l110.5 25l-156.8 -13.6l-72.8 -21.9zM2911.7 2125.4l-92.7 13.1l-98.2 11.9l-0.4 -2.6l3.2 -3.2l14.1 -7.8l162.4 -21.9l-0.4 3.2l1.7 2.9zM1651.6 2041.7l75.8 13.6l14.9 29.4l-84.7 -15.9zM1625.8 1943.7l59.8 8.8l13.1 36.4l-64 -10.1zM1601.1 1827.1l51.6 5.8l10 41.4l-53.8 -6.6zM1580.5 1696.9l46.8 3.9l7.8 45.2l-48.2 -4.4zM1509.2 2095.1l117 28.2l-22.5 3.6l-30.8 1.6l-118.2 -29.4l30.1 -1.2zM1548.1 1817.8l53 9.3l7.7 40.6l-55.4 -10.3zM1401.6 2064l107.6 31.1l-24.4 2.8l-30 1.2l-107.7 -32.1l29.3 -0.8zM1483.7 2023.4l87 24.7l-3.3 10.9l-5.4 9.8l-94.9 -27.1l9.3 -8.6zM1414 1975.1l79.4 25.9l-4.2 11.7l-5.5 10.7l-85.5 -28l8.6 -9.7zM1069.6 1958.3l85.9 38.1l-63 -2.8l-83.3 -38.5zM1122.4 1957.5l86.6 37.4l-53.6 1.5l-85.8 -38.2zM1167.5 1952.7l85.5 36.4l-44 5.8l-86.6 -37.4zM1295.1 1870.2l67.8 28.4l-11.4 25.4l-71.7 -30zM1307 1843.2l64.1 26.9l-8.2 28.4l-67.8 -28.4zM1266.3 1753.6l57.1 27.3l-7.1 32.5l-59.9 -28.4zM791.7 1830.5l67.3 42.9l-60.9 -6.9l-64.8 -43zM1119.6 1622.7l49.5 35.2l-12.6 32.3l-51.6 -35.7zM671.1 1699.7l53.2 46l-51.8 -4.7l-51.8 -46.2zM718.9 1701.9l54 45.7l-48.6 -1.8l-53.2 -46.1zM805.6 1697.2l54.4 44.7l-41.8 4.4l-54.4 -45.2zM3930.7 1539l-49 46.6l-25.6 -18.3l47.2 -46.3zM3785.7 1389.1l-34.8 46.3l-34.7 -14.1l34 -46.1zM327.4 1556.6l34.1 48.2l-55.1 -15l-31.8 -48.1zM380 1570.1l36.3 48.2l-54.7 -13.5l-34.1 -48.2zM3917.6 1390l-33.1 48l-31.7 -17.2l31.7 -47.8zM3981.2 1425.2l-36.2 48.3l-29.8 -17.8l34.6 -48.2zM3763 1267.3l-22 48.3l-38.8 -10.2l21.5 -48.3zM3801.4 1279.4l-22.8 48.4l-37.6 -12.2l22.1 -48.3zM3838.8 1293.2l-23.8 48.4l-36.4 -13.8l22.8 -48.3zM3818.6 1230.3l-17.2 49.1l-38.4 -12.1l16.4 -49.1zM285 1371.9l16 50.1l-47 -13.5l-14.3 -50.1zM3836.7 1130.6l-6.3 50l-40.2 -12l5.3 -50.1zM3996.4 1191.6l-11.9 50.2l-37.5 -16.7l10.4 -50.2zM230.7 1308l9 50.3l-45.1 -14.8l-7.3 -50.3zM318.3 1333.6l12 50.3l-45.3 -12l-10.6 -50.3zM4043.2 1158.4l-8.4 50.4l-38.4 -17.1l6.8 -50.4zM4130.7 1092.5l-2.3 50.3l-40.5 -17.4l0.5 -50.3zM3809.9 929.5l14.3 50.1l-44.9 -11.9l-15.7 -50.1zM3856.3 943l12.8 50.2l-44.9 -13.6l-14.3 -50.1zM3994.5 990.4l7.6 50.1l-43.9 -16.6l-9.4 -50.2zM3816.5 843.8l22.2 49.4l-48 -13.5l-24 -49.4zM3789.8 794.9l26.7 48.9l-49.8 -13.5l-28.6 -48.9zM3893.8 825.8l22.6 48.7l-49.9 -15.9l-24.7 -48.8zM3705 733.2l33.1 48.2l-51.1 -11.9l-35 -48.1zM3612.4 674l39.6 47.4l-52 -9.9l-41.4 -47.3zM3667.4 685.8l37.5 47.4l-53 -11.8l-39.6 -47.4zM3950.1 766l25.1 46.6l-53.8 -17.7l-27.8 -46.8zM3112.3 601.7l52.3 41.1l-29.1 18l-50.9 -40.3zM3462 572.3l50.6 45.5l-53.8 -7.4l-52.4 -45.3zM2929.9 766.2l43.6 34.6l-11.4 40.7l-42 -34.7zM2987.4 631.4l50.6 36.5l-19.3 28.6l-48.8 -35.7zM3030.3 582.1l54.3 38.3l-24.6 22.1l-52.5 -37.3zM2884.3 734.8l45.6 31.4l-9.8 40.6l-44.1 -31.2zM2934.3 597.4l53.1 34l-17.4 29.4l-51.1 -33.1zM3024.6 507.6l61.3 38.5l-29.6 16.3l-59.4 -37.3zM3056.5 493.6l62.8 39.6l-33.4 12.8l-61.3 -38.5zM2934.4 489.9l62.5 35.1l-24 20.9l-60 -33.8zM2959.8 471.1l64.8 36.5l-27.7 17.4l-62.5 -35.1zM3149.8 396.2l71.3 40.1l-57.7 -3.5l-73.4 -39.8zM2756.4 545.8l55.2 24.2l-9 35l-52.9 -23.1zM3073.5 357.8l76.2 38.4l-59.8 -3.2l-78.9 -38.1zM3143.9 364.8l72 38.3l-66.1 -6.8l-76.2 -38.5zM2828 327.7l84 34.4l-37 10.2l-81.1 -32.8l15.9 -6.5zM2641.4 628l49.3 14.6l-2 42.7l-47.7 -13.9zM2738.6 295.7l89.3 32l-18.2 5.3l-15.9 6.5l-84.9 -30.2l13.5 -7.4zM2592.4 616.9l48.9 11.1l-0.3 43.5l-47.5 -10.5zM2606.6 302.9l81.4 24.7l-7.8 10.7l-6.6 11.7l-75.1 -22.4zM2620.6 282.3l88.3 27.1l-11.3 8.6l-9.5 9.7l-81.5 -24.7l6.1 -10.9zM2332.1 477.5l49.1 -3.8l8.2 42.6l-47.7 4.1zM2254.7 286.5l61.6 -2.5l17.4 34.3l-58 2.6zM2229.3 254.5l32.4 -2.1l33.8 -0.5l20.7 32l-61.5 2.6zM2210.3 1108.2l39.6 -14.8l7.6 50.3l-39.6 14.8zM2178.4 1174.4l39.4 -15.9l8.1 50.1l-39.4 16zM2147.3 1455.1l39.8 -17.7l12.8 47l-40.1 17.9zM2136.1 1406.9l39.5 -17.5l11.5 48l-39.8 17.7zM2125.9 1358l39.4 -17.4l10.3 48.8l-39.5 17.5zM2084.8 1107.4l39.3 -17.1l7.3 50.4l-39.2 17.1zM2107.6 1473l39.7 -17.9l12.5 47.2l-40 18.1zM2096.6 1424.6l39.4 -17.7l11.3 48.2l-39.7 17.8zM2014.1 925.8l40.1 -17.7l8.1 49.2l-39.8 17.5zM2057.2 1442.3l39.4 -17.7l11 48.4l-39.6 17.8zM1974 943.5l40.1 -17.7l8.4 49l-39.8 17.6zM1943 1009.8l39.8 -17.4l8.2 49.6l-39.6 17.2zM1901 820.3l41.5 -18.2l11.6 46.1l-40.9 17.8zM1859.3 838l41.7 -17.7l12.2 45.7l-41.1 17.4zM1775 870.7l42.4 -15.8l13.4 45.1l-41.6 15.6zM1878.4 1617.8l40.9 -13.5l11.9 47.3l-41.3 13.6zM1704.7 942.1l42.5 -12.4l13.2 46.2l-41.7 12.2zM1688.6 897.6l43.5 -12.6l15.1 44.7l-42.5 12.3zM1700.8 1093.9l41 -10.2l9.9 49.1l-40.7 10.2zM2948.2 2009.4l-43.3 4.4l-40.3 2.2l29 -29.2l36.6 -1.3l39 -3.4zM2782.4 2116.8l-59.7 6.1l-51.7 3.6l74.4 -28l40.9 -1.9l47.8 -4.3zM3011.4 2025.1l-42.2 5.4l-38.3 3.3l17.3 -24.4l93.7 -14zM2915.8 2098.3l-133.4 18.4l51.7 -24.5l110.6 -15.1zM2900 2114.9l-162.4 21.9l44.8 -20.1l133.4 -18.4l-10.3 9zM1365.3 2114.9l72.8 21.9l-172.3 -20.1l-14.6 -8.2l-23.3 -10.2zM3232.2 1908.1l-83.2 19.3l10 -28.9l75.7 -17.4zM3189.7 2044.4l-135.1 29.3l11.2 -18.4l122.7 -27.3l-0.6 8.7zM1092.8 2044.4l72.6 29.3l-122.6 -18.4l-56 -27.3zM3311.3 1860.6l-76.6 20.5l5.3 -30.2l69.9 -18.6zM3402.4 1905.9l-93.6 30.2l2.7 -24l87.6 -28.5zM3420.7 1694.6l-53.6 17.4l-5.3 -39.5l49.1 -15.6zM3438.9 1760.4l-64 21.1l-3.9 -33.2l58.6 -19.1zM3466.3 1806.6l-77.4 29.4l-8.8 -24.7l73.9 -27.7zM3502.3 1891.6l-96.2 35.1l-3.7 -20.8l91 -33.8zM3474.3 1675.8l-53.7 18.8l-9.8 -37.7l49.3 -17zM3555.4 1794.6l-79 34.6l-10.1 -22.7l75.5 -33.3zM3527.9 1655.7l-53.6 20.1l-14.2 -35.8l49.4 -18.2zM541.1 1787.7l54 42.4l-71.9 -16.3l-49.6 -41.9zM3778.2 1787.7l-81.7 42.4l-17.9 -16.3l79.1 -41.9zM3788 1693.5l-68 42.7l-18.6 -19.2l65.5 -42.1zM490.3 1743.7l50.8 43.9l-67.5 -15.8l-47.1 -43.6zM3853.2 1743.7l-75 43.9l-20.5 -15.8l72.8 -43.6zM553 1757.6l54.2 44.2l-66.2 -14.1l-50.7 -44zM614.2 1769.5l57.4 44.3l-64.3 -12l-54.3 -44.2zM3631.7 1508.6l-50.3 40.4l-28.8 -35.7l43.1 -17.6zM3827.1 1630.9l-60.2 43.9l-21.6 -19.1l58.1 -43.4zM3856.1 1567.3l-52.7 45l-24.6 -18.7l50.9 -44.7zM400.2 1652.1l43 46.4l-60.6 -15.3l-40.1 -46.2zM457.3 1665.7l45.7 46.5l-59.8 -13.7l-43 -46.4zM3520 1257l-17.3 61.8l-38 13l17.4 -61.1zM3698.9 1200l-15.3 49.2l-41.1 -5.3l15.3 -49.4zM3739.5 1208l-15.7 49.1l-40.2 -7.9l15.3 -49.2zM3708.4 1150.3l-9.5 49.7l-41.1 -5.5l9.2 -49.8zM3659.8 993.8l8.1 50.4l-42.2 -3.2l-8.5 -50.4zM3333.9 1010.5l6.1 49.4l-41.1 20l-5.4 -48.1zM3195.9 989.6l7.4 45.1l-43.6 29.5l-5.9 -44zM3146.1 976l7.7 44.1l-43.6 34.5l-5.9 -43.3zM3443.7 794.6l30.7 48.6l-39.7 5.9l-30.6 -48.5zM3485.4 791.8l30.5 48.8l-41.4 2.6l-30.7 -48.6zM3668.5 808.4l27 49.3l-46.6 -8l-28.2 -49.2zM3196.8 767.2l37.5 45.3l-27.6 24l-36.2 -45.3zM3600 711.5l36.7 48.1l-49.2 -7.8l-38.1 -47.9zM3107.4 775.7l39 43.1l-21.8 31.3l-37.5 -43.2zM3246.2 671.7l44.9 44.9l-34.1 13.3l-44 -44.3zM2999.6 967.8l55.5 40.6l5.8 43l-54 -40.1zM2914.3 1034.5l50.4 29.5l3.1 43.9l-49.1 -28.3zM2920.1 806.8l42 34.7l-9.7 43.6l-40.6 -35.1zM2876 775.6l44.1 31.2l-8.3 43.2l-42.7 -31.3zM2687.4 729.7l46.3 16.9l-1.7 45.5l-45.2 -16.6zM2604.1 898l43 9.3l3.5 50.2l-42.6 -9.5zM2584.4 1094.3l42.1 7l9.3 51.8l-42.4 -7.7zM2570.7 992.5l42.2 6.2l6.1 51.1l-42.1 -6.5zM2476.2 890l42.3 -0.4l4.8 49.9l-42 0.4zM2458.5 695.8l44.9 0.4l3.5 47.2l-44.1 -0.1zM2426.8 1149.8l41.1 -5.6l9.8 49.9l-41.4 5.4zM2392.5 898.9l41.7 -5.7l5.4 49.9l-41.4 5.8zM2443.7 1495.3l55.5 -36.2l32 15.7l-55.6 38zM2377.4 1563.8l44.5 -15.2l32 18.5l-52.1 34.9zM2356.9 1619.4l44.9 -17.4l32.3 19.4l-50.8 33.8zM2377.4 1831.9l47.2 -31.7l38.7 17l-46.1 33.3zM2339.6 1810.8l48.1 -29.8l36.9 19.2l-47.2 31.7zM2367.2 1927.1l46.9 -29l47.8 13.5l-45.7 30.7zM2322.6 1907.7l47.8 -26.9l43.8 17.3l-47 29zM2282.1 1886.4l47.5 -26.2l40.8 20.6l-47.9 26.9l-20.9 -9.9zM2171.7 1850.7l44.1 -21.9l31 31l-45.3 23.4zM2101.8 1735.7l41.7 -19.2l21.2 40.1l-42.4 19.9zM2376.1 2009.1l48.6 -27.2l30.9 3.3l33.1 1.4l-47 29.2l-34.1 -2.3zM2026.7 1666.2l40.7 -17.5l16.2 44.3l-41.2 17.9zM2012.6 1620.2l40.4 -17.3l14.4 45.7l-40.7 17.6zM2391.5 2042.8l50.2 -27l36.7 0l39.7 -2.5l-48 29l-40.9 1.6zM2324.9 2033.5l51.1 -24.3l31.6 4.3l34 2.3l-50.2 27l-34.6 -3.5zM1972.1 1636.5l40.6 -16.3l14 46l-40.9 16.5zM2173.3 2033l48.4 -24.6l23.2 9l24.8 7.4l-49.4 27.4l-24.3 -8.8zM2097.2 1978.4l46.3 -20.4l17.6 14.4l18.8 13.3l-47.3 22.3zM2039.2 1909l44.5 -17.8l27.9 35.1l-45.3 18.9zM1931.2 1651.6l40.9 -15.1l13.6 46.2l-41.3 15.3zM2361.7 2094.4l56.4 -24.9l46.1 -3.4l49.9 -6.6l-52.8 27.6l-52.2 5.4zM2124.1 2054.9l49.2 -21.9l22.7 10.4l24.3 8.8l-50 24.7l-24 -10.3zM1916.9 1757.1l42.3 -13.9l16.6 44l-43 14.1zM1873.9 1769l43 -11.9l15.9 44.2l-43.7 12zM1848.1 1677l41.8 -11.8l12.8 46.5l-42.4 11.8zM2019.1 2087.4l54 -14.1l21.7 13l23.5 11.7l-55.3 16.6l-22.9 -13.1zM1982.2 2056.4l52.4 -12.4l18.5 15.1l20 14.2l-53.9 14.1zM1830 1778.7l43.8 -9.7l15.3 44.3l-44.7 9.7zM1805.6 1686.8l42.5 -9.8l12.2 46.5l-43.1 9.8z"/>
<path fill="#0096ff" d="M874.2 1467.5l33.9 47.2l-26.4 24l-35.3 -47zM555.8 1510.5l32.7 48.9l-45.4 -2.9l-31.9 -49.1zM785.3 1463.5l31.2 48.4l-32.3 16.5l-32.1 -48.3zM727.7 1310.3l5.5 26.3l7.3 26l-35.3 17.5l-7.9 -25.7l-6.3 -25.8zM398 1201.2l-3.3 50.1l-41.9 -8.1l4.1 -50.1zM730.2 1099l-6.6 54.5l-39.7 14.7l6.5 -55.8zM464 1107.6l-15.5 49.3l-41.2 -5.4l15.7 -49.2zM528.7 1060.9l-12.2 24.4l-10.5 24.6l-42 -2.3l10.3 -24.5l11.8 -24.1zM604.9 1032.5l-18.2 61.9l-37.7 14.3l17.7 -62.4zM945 891.3l-19.7 52.5l-43.7 10.6l10 -27.3l12.1 -28.1zM974.7 834.8l-16.5 28.9l-13.2 27.6l-41.3 7.8l14.7 -29l17.9 -30zM3660.9 579.7l42.8 43.6l-62.4 -15.5l-46.2 -44zM3350.9 453.1l60.2 41.5l-63.5 -9.7l-63.8 -41.7zM880 570.2l-60 15.4l5.3 -34.8l65.7 -17zM943.1 728.9l-40.8 7.5l-0.2 -25l1.7 -24.3l44.9 -8.6l-3.9 24.8zM1381.1 382.4l-22.2 -8.5l-26.1 -5.7l40.3 -30.6l27.6 5.2l22.9 8.1zM1304.4 510.2l-15.7 -15.4l-19 -11.8l34.7 -34.5l18.5 11.9l15.2 15.2zM2189.1 375l51.3 -10.6l16.9 38.3l-49.6 10.2zM2011.9 574.1l44.4 -19l15.6 41.4l-43.5 18.4zM1984.9 634l43.5 -19.2l14.4 42.7l-42.7 18.6zM1957.5 695.3l42.7 -19.1l13.3 43.9l-41.9 18.6zM1244.1 581.2l29 -35.8l43.3 -15.6l40.3 -11.6l-32.7 36.2l-38.4 11.3zM1352.8 1098.8l37.8 13.4l2.4 55.8l-39.3 -14.7zM1331.4 1340.5l42.2 21.8l4.1 51.1l-42.8 -21zM1180.2 882.7l38.4 8.6l-9.8 52.4l-40.3 -12.3zM1047.1 1047.3l23.1 19.2l23.3 16.7l-3.5 42.3l-23.9 -17.4l-23.7 -19.5zM1662.7 1874.3l52.1 3l13.3 40.8l-54.4 -3.9zM989.6 1918.5l80 39.8l-60.4 -3.2l-77.8 -40.1zM394.1 1444.1l24.2 49.7l-47.8 -10l-22.8 -49.8zM362.1 1343.8l13.2 50.3l-45.1 -10.2l-11.9 -50.3zM148.9 1176.6l-5 50.4l-40.7 -16.7l6.7 -50.4zM276 1170.9l-6.1 50.1l-40.9 -13.6l7.4 -50.1zM249.5 1107.5l-13.1 49.7l-38.9 -14.9l14.5 -49.8zM197 1027.2l-21.7 49.3l-35.7 -16.7l23.2 -49.5zM382.9 1094.4l-16.1 49.1l-39.8 -10.2l16.7 -49.1zM257.5 930.7l-33.1 47.8l-32.7 -17l34.7 -48zM289.8 947.1l-31.7 47.7l-33.8 -16.3l33.1 -47.8zM4028.5 830.6l19.5 47.4l-51 -17.8l-21.8 -47.6zM327.3 900.6l-37.5 46.5l-32.3 -16.3l38.8 -46.8zM359.8 916.1l-36.3 46.3l-33.7 -15.3l37.5 -46.5zM3029.3 800.9l39.5 40.7l-16.3 38.2l-37.9 -41.1zM2912.9 512.1l60 33.8l-20.7 24.2l-57.6 -32.6zM2598.5 327.6l75.1 22.4l-10 25.9l-69.6 -20.3zM2295.5 251.9l71.8 4l14.5 31.1l-65.5 -3.1zM2269.7 929l40.6 -11.9l6.3 50.1l-40.4 11.9zM1832.2 1107l39.9 -15l8.4 49.8l-39.7 14.9zM1825 1321l39.7 -13.5l7.9 50.3l-39.7 13.5zM3583.6 1142.1l-4 25.3l-5.7 25.2l-42.7 4.3l6.1 -25.5l4.4 -25.6zM3670.3 1094.5l-3.3 50.2l-41.7 -2.9l3.2 -50.3zM3096.4 967.9l7.8 43.5l-43.4 40.1l-5.8 -43.1zM3296.6 775.7l34.8 47.1l-33.1 16.5l-34 -47zM2816.3 932.7l40.8 29.1l7.7 46.2l-48.6 -24.2zM2825 791l44.2 27.7l-5.5 45.4l-42.9 -27.8zM2650.5 957.6l42.5 13.3l4.3 51.6l-42.2 -13.9zM2604.2 1196.5l37 14.5l4.2 59.4l-35.7 -13.8zM2507.4 1529.4l55.7 -40l31.8 13.7l-55.8 41.8zM2399.5 1508.2l44.2 -12.9l31.9 17.6l-53.7 35.7zM2380.2 1465.4l43 -12.5l20.5 42.4l-44.1 12.8zM2255.1 1512.5l41.2 -16.9l17.5 43.5l-41.8 17.3zM2220.3 2052.2l49.4 -27.4l26.7 5.4l28.5 3.3l-50 30.6l-28.3 -4.9zM2288 2098.2l49.9 -31.1l38.2 2.7l42.1 -0.3l-56.5 24.9l-38 3.2z"/>
<path fill="#00e1fa" d="M992.3 1253.3l4.8 43.1l-42.9 34.5l-6.7 -44zM624.8 1080.6l-11.8 59.4l-37.8 14.5l11.5 -60.2zM782.2 1031.1l-11.2 54.6l-40.8 13.4l11.6 -56.2zM3615.8 537.7l45.1 42l-65.9 -15.9l-49.1 -42.4zM760.4 639.4l-55.1 17.4l-5.9 -34.6l60.4 -19.2zM978.1 587.7l-53.7 9.7l15 -40.3l58.4 -10.4zM1406.3 678.3l47.7 -47l36.9 9.1l-49.8 46.4zM1553.6 929.4l32.1 14.8l4.7 66.7l-33.1 -15zM1550.2 861.2l31.2 14.6l4.2 68.5l-32 -14.8zM1315 1190.3l41.5 16.3l4.8 52.1l-43 -17.6zM1235.7 1931l79.6 33.5l-12.7 7.7l-14.5 6.7l-83.1 -35zM1260.3 1914.3l75.7 31.8l-9.6 9.7l-11.1 8.7l-79.6 -33.5zM3915.2 1455.6l-40 47.2l-29.2 -17.9l38.5 -47zM4003.2 1141.2l-6.8 50.4l-39 -16.7l5.2 -50.3zM2234.7 1258.4l39.7 -15l9.9 49.2l-39.9 15.1zM2195.2 1274.4l39.5 -16l9.7 49.2l-39.7 16.1zM2199.9 1484.4l40.3 -17.4l14.9 45.5l-40.8 17.7zM2040 1556.1l39.9 -17.7l13.3 46.6l-40.2 17.9zM3304.9 1978.8l-110.3 29.6l9.7 -22.3l101.7 -27.7zM3500.6 698.7l39.2 47.8l-46 -2.8l-40 -47.5zM2783.5 1059.6l45 20l3.4 48.6l-43.6 -18.6zM2366.7 1708l49.6 -32.6l33.3 18.8l-48.9 34.6zM2232.1 1772.7l44 -21.7l29.6 32l-45.3 23.1z"/>
<path fill="#000096" d="M602.4 1249.7l0.5 25.8l2.2 25.7l-40.4 6.5l-2.5 -25.4l-0.9 -25.6zM860.1 853.2l-19.4 31.4l-16.3 30.6l-38.9 9.1l16.7 -31.2l19.7 -31.9zM550.6 891.8l-22.6 34.5l-19.7 34.1l-40.2 -7.7l40.9 -44.3zM1880.3 415.4l51.8 -26.1l17.3 12.2l15.9 13.4l-49.8 24l-16.9 -12.4zM1923 614.4l44.5 -20.4l17.4 40l-43.5 19.7zM1784.3 770l43.9 -17.8l16.6 41.9l-42.9 17.3zM1714.7 842.4l44 -14.7l16.3 43.1l-42.9 14.3zM1669.9 855.2l44.8 -12.9l17.4 42.8l-43.5 12.5zM1700.6 1604.6l42.7 -5.4l9.1 48l-43.3 5.2zM1605 1058.6l42.5 -5.1l11.9 48.4l-41.8 5.3zM1657.2 1607.3l43.4 -2.8l8.4 47.8l-44.1 2.5zM1613.2 1607.3l44.1 0.1l7.7 47.5l-44.9 -0.4zM1433.6 1621.1l47.3 13.4l3.5 44.8l-48.8 -13.8zM1284.3 964.2l36.1 10l-3.7 56.6l-37.7 -11.8zM1634.7 1978.7l63.9 10.2l14 34.4l-69.1 -11.8zM1435.7 1665.4l48.8 13.9l3.4 43.4l-50.6 -14.5zM1279.8 1893.9l71.7 30.1l-15.5 22l-75.7 -31.7zM1244.1 1813.4l63 29.8l-12 26.9l-66.2 -31.2zM846.3 1834.6l69 42.6l-56.4 -3.8l-67.3 -42.9zM1179.8 1622.7l49.6 31.7l-8.5 35.8l-51.8 -32.3zM3819.9 1404.4l-35.8 46.5l-33.1 -15.5l34.7 -46.3zM3974.1 1491.3l-43.4 47.6l-27.4 -18l41.7 -47.4zM4082.7 1175.8l-10.1 50.4l-37.7 -17.4l8.4 -50.4zM185.2 1242.8l2.1 50.4l-43 -15.8l-0.4 -50.5zM4168.4 1159.9l-8.6 50.4l-38.3 -17.1l6.9 -50.5zM109.9 1159.9l-6.7 50.4l-40.1 -17.1l8.5 -50.5zM197.5 1142.3l-8.9 50.1l-39.7 -15.9l10.4 -50.1zM3651.9 721.4l35 48.2l-50.3 -10l-36.7 -48.1zM3085.7 706.9l44.3 41.1l-22.6 27.7l-42.7 -40.7zM3180.5 473.6l64.3 42.1l-46.1 2.4l-64.5 -41.5zM2802.6 605.1l52.1 26.3l-9.5 36.5l-50.1 -25.4zM2524.8 282.2l81.8 20.7l-8.1 24.7l-74.5 -18.4zM2191.9 698.9l42.4 -13.6l8 47.4l-41.8 13.5zM2149.4 973.1l39.9 -15.9l6.9 50.2l-39.7 15.8zM2142.1 923.3l40.1 -15.9l7 49.8l-39.9 15.9zM2134.6 874l40.4 -15.9l7.3 49.3l-40.1 15.9zM1800.7 1433.4l40.2 -11.9l8.4 49.8l-40.4 11.9zM3614.5 1564.2l-55.5 38.2l-23.5 -35l45.9 -18.4zM3850.3 1649.2l-62.3 44.3l-21.1 -18.6l60.2 -43.9zM561.4 1724l52.8 45.5l-61.2 -11.9l-50 -45.4zM3600.5 1241.5l-10.2 24.6l-11.9 24.3l-37.8 14.6l17 -62.4zM3368.4 988.6l6.6 26l4.9 26.3l-39.9 19l-6.1 -49.5zM3238.4 883.7l26.5 49.2l-28.4 29l-25 -50zM3282.4 661.2l45.4 45.4l-36.8 9.9l-44.8 -44.8zM2439.6 943.1l41.7 -3.2l5.7 50.2l-41.5 3.2zM2272 1556.4l41.9 -17.3l20 41.4l-42.8 17.8zM2424.6 1800.2l46.9 -34.9l37.4 15.5l-45.6 36.3zM2370.4 1880.8l46.8 -30.2l42.6 15.6l-45.7 32zM2329.7 1860.2l47.8 -28.3l39.8 18.6l-46.9 30.2zM1944.4 1698l41.3 -15.3l15.3 45l-41.8 15.6zM1902.7 1711.7l41.8 -13.7l14.7 45.3l-42.3 13.8z"/>
<path fill="#ffa000" d="M448.5 1156.9l-9.1 49.9l-41.5 -5.6l9.5 -49.8z"/>
<path fill="#5affa0" d="M633.1 861.6l-24.2 34.3l-21.1 34l-39.7 14.8l20.4 -34l23.4 -34.5zM917.4 443.3l-83.5 21.3l4.8 -25.2l90.2 -23.6zM911.2 470.2l-79.4 20.5l2.1 -26.1l83.6 -21.3zM1210.3 1406.5l41.3 32.5l-2 47.7l-42.7 -31.7zM4005.1 1090.8l-1.9 50.4l-40.6 -16.6l0.3 -50.4zM3347.5 484.9l59.4 43.1l-57.6 -7.1l-61.8 -42.9zM2591.6 386.5l64.9 18.4l-5 31.8l-61 -16.7zM2295.3 1341.1l40.5 -13.8l12.9 47.4l-41 13.9zM2116.9 1039.9l39.5 -16.6l7.1 50.3l-39.4 16.6zM2109.6 989.8l39.7 -16.7l7.1 50.2l-39.5 16.6zM2062.3 957.3l39.8 -17.3l7.5 49.8l-39.6 17.2zM3665.2 1523.4l-50.7 40.9l-33.1 -15.2l50.3 -40.4zM2859.7 911.8l40.2 32.5l8.2 45.1l-51 -27.6zM2626.5 1101.3l42.3 11.1l5.6 55.6l-38.6 -14.9zM2059.1 1853.4l43.3 -18.6l25.4 36.8l-44.1 19.6z"/>
<path fill="#800000" d="M1502.1 1154.1l42.6 4.3l10.5 50.5l-42.2 -3.7z"/>
<path fill="#a0ff5a" d="M2739.9 660.6l49 21.4l-5.1 41.6l-47.4 -20.9zM2204.7 1323.8l39.7 -16.1l10.8 48.6l-39.9 16.2zM2054.2 908.1l40.1 -17.4l7.9 49.3l-39.9 17.3zM2337.9 1479.8l42.2 -14.4l19.4 42.8l-43.2 14.7z"/>
</g>
<g clip-path="url(#ec)"><path d="M2125 2190.2 2151.7 2190.1 2178.4 2189.7 2205.1 2189.1 2231.7 2188.2 2258.4 2187.1 2285 2185.7 2311.5 2184.1 2338 2182.2 2364.5 2180 2390.9 2177.6 2417.2 2175 2443.5 2172.1 2469.7 2169 2495.8 2165.6 2521.8 2161.9 2547.7 2158.1 2573.5 2153.9 2599.2 2149.6 2624.7 2144.9 2650.2 2140.1 2675.5 2135 2700.7 2129.7 2725.7 2124.1 2750.6 2118.3 2775.3 2112.2 2799.9 2106 2824.3 2099.5 2848.5 2092.7 2872.5 2085.7 2896.4 2078.6 2920 2071.1 2943.5 2063.5 2966.8 2055.6 2989.8 2047.5 3012.7 2039.2 3035.3 2030.7 3057.7 2022 3079.8 2013.1 3101.7 2003.9 3123.4 1994.6 3144.8 1985 3166 1975.2 3186.9 1965.3 3207.6 1955.1 3227.9 1944.8 3248 1934.2 3267.9 1923.5 3287.4 1912.6 3306.7 1901.5 3325.6 1890.2 3344.3 1878.7 3362.6 1867.1 3380.7 1855.3 3398.4 1843.3 3415.8 1831.2 3432.9 1818.9 3449.6 1806.4 3466.1 1793.8 3482.2 1781 3497.9 1768.1 3513.4 1755 3528.4 1741.8 3543.2 1728.4 3557.5 1714.9 3571.5 1701.3 3585.2 1687.5 3598.5 1673.6 3611.4 1659.6 3624 1645.4 3636.1 1631.2 3647.9 1616.8 3659.4 1602.3 3670.4 1587.7 3681 1573.1 3691.3 1558.3 3701.2 1543.4 3710.7 1528.4 3719.8 1513.3 3728.5 1498.2 3736.7 1483 3744.6 1467.7 3752.1 1452.3 3759.2 1436.8 3765.9 1421.3 3772.1 1405.8 3778 1390.1 3783.4 1374.4 3788.5 1358.7 3793.1 1342.9 3797.3 1327.1 3801 1311.3 3804.4 1295.4 3807.4 1279.4 3809.9 1263.5 3812 1247.5 3813.7 1231.5 3814.9 1215.5 3815.8 1199.5 3816.2 1183.5 3816.2 1167.5 3815.8 1151.5 3814.9 1135.5 3813.7 1119.5 3812 1103.5 3809.9 1087.5 3807.4 1071.6 3804.4 1055.6 3801 1039.7 3797.3 1023.9 3793.1 1008.1 3788.5 992.3 3783.4 976.6 3778 960.9 3772.1 945.2 3765.9 929.7 3759.2 914.2 3752.1 898.7 3744.6 883.3 3736.7 868 3728.5 852.8 3719.8 837.7 3710.7 822.6 3701.2 807.6 3691.3 792.7 3681 777.9 3670.4 763.3 3659.4 748.7 3647.9 734.2 3636.1 719.8 3624 705.6 3611.4 691.4 3598.5 677.4 3585.2 663.5 3571.5 649.7 3557.5 636.1 3543.2 622.6 3528.4 609.2 3513.4 596 3497.9 582.9 3482.2 570 3466.1 557.2 3449.6 544.6 3432.9 532.1 3415.8 519.8 3398.4 507.7 3380.7 495.7 3362.6 483.9 3344.3 472.3 3325.6 460.8 3306.7 449.5 3287.4 438.4 3267.9 427.5 3248 416.8 3227.9 406.2 3207.6 395.9 3186.9 385.7 3166 375.8 3144.8 366 3123.4 356.4 3101.7 347.1 3079.8 337.9 3057.7 329 3035.3 320.3 3012.7 311.8 2989.8 303.5 2966.8 295.4 2943.5 287.5 2920 279.9 2896.4 272.4 2872.5 265.3 2848.5 258.3 2824.3 251.5 2799.9 245 2775.3 238.8 2750.6 232.7 2725.7 226.9 2700.7 221.3 2675.5 216 2650.2 210.9 2624.7 206.1 2599.2 201.4 2573.5 197.1 2547.7 192.9 2521.8 189.1 2495.8 185.4 2469.7 182 2443.5 178.9 2417.2 176 2390.9 173.4 2364.5 171 2338 168.8 2311.5 166.9 2285 165.3 2258.4 163.9 2231.7 162.8 2205.1 161.9 2178.4 161.3 2151.7 160.9 2125 160.8M2125 2190.2 2146.4 2190.1 2167.7 2189.7 2189.1 2189.1 2210.4 2188.2 2231.7 2187.1 2253 2185.7 2274.2 2184.1 2295.4 2182.2 2316.6 2180 2337.7 2177.6 2358.8 2175 2379.8 2172.1 2400.7 2169 2421.6 2165.6 2442.4 2161.9 2463.1 2158.1 2483.8 2153.9 2504.3 2149.6 2524.8 2144.9 2545.1 2140.1 2565.4 2135 2585.5 2129.7 2605.5 2124.1 2625.5 2118.3 2645.2 2112.2 2664.9 2106 2684.4 2099.5 2703.8 2092.7 2723 2085.7 2742.1 2078.6 2761 2071.1 2779.8 2063.5 2798.4 2055.6 2816.9 2047.5 2835.1 2039.2 2853.2 2030.7 2871.1 2022 2888.9 2013.1 2906.4 2003.9 2923.7 1994.6 2940.9 1985 2957.8 1975.2 2974.5 1965.3 2991.1 1955.1 3007.4 1944.8 3023.4 1934.2 3039.3 1923.5 3054.9 1912.6 3070.3 1901.5 3085.5 1890.2 3100.4 1878.7 3115.1 1867.1 3129.5 1855.3 3143.7 1843.3 3157.6 1831.2 3171.3 1818.9 3184.7 1806.4 3197.9 1793.8 3210.7 1781 3223.4 1768.1 3235.7 1755 3247.7 1741.8 3259.5 1728.4 3271 1714.9 3282.2 1701.3 3293.2 1687.5 3303.8 1673.6 3314.1 1659.6 3324.2 1645.4 3333.9 1631.2 3343.3 1616.8 3352.5 1602.3 3361.3 1587.7 3369.8 1573.1 3378.1 1558.3 3386 1543.4 3393.5 1528.4 3400.8 1513.3 3407.8 1498.2 3414.4 1483 3420.7 1467.7 3426.7 1452.3 3432.4 1436.8 3437.7 1421.3 3442.7 1405.8 3447.4 1390.1 3451.7 1374.4 3455.8 1358.7 3459.5 1342.9 3462.8 1327.1 3465.8 1311.3 3468.5 1295.4 3470.9 1279.4 3472.9 1263.5 3474.6 1247.5 3475.9 1231.5 3476.9 1215.5 3477.6 1199.5 3478 1183.5 3478 1167.5 3477.6 1151.5 3476.9 1135.5 3475.9 1119.5 3474.6 1103.5 3472.9 1087.5 3470.9 1071.6 3468.5 1055.6 3465.8 1039.7 3462.8 1023.9 3459.5 1008.1 3455.8 992.3 3451.7 976.6 3447.4 960.9 3442.7 945.2 3437.7 929.7 3432.4 914.2 3426.7 898.7 3420.7 883.3 3414.4 868 3407.8 852.8 3400.8 837.7 3393.5 822.6 3386 807.6 3378.1 792.7 3369.8 777.9 3361.3 763.3 3352.5 748.7 3343.3 734.2 3333.9 719.8 3324.2 705.6 3314.1 691.4 3303.8 677.4 3293.2 663.5 3282.2 649.7 3271 636.1 3259.5 622.6 3247.7 609.2 3235.7 596 3223.4 582.9 3210.7 570 3197.9 557.2 3184.7 544.6 3171.3 532.1 3157.6 519.8 3143.7 507.7 3129.5 495.7 3115.1 483.9 3100.4 472.3 3085.5 460.8 3070.3 449.5 3054.9 438.4 3039.3 427.5 3023.4 416.8 3007.4 406.2 2991.1 395.9 2974.5 385.7 2957.8 375.8 2940.9 366 2923.7 356.4 2906.4 347.1 2888.9 337.9 2871.1 329 2853.2 320.3 2835.1 311.8 2816.9 303.5 2798.4 295.4 2779.8 287.5 2761 279.9 2742.1 272.4 2723 265.3 2703.8 258.3 2684.4 251.5 2664.9 245 2645.2 238.8 2625.5 232.7 2605.5 226.9 2585.5 221.3 2565.4 216 2545.1 210.9 2524.8 206.1 2504.3 201.4 2483.8 197.1 2463.1 192.9 2442.4 189.1 2421.6 185.4 2400.7 182 2379.8 178.9 2358.8 176 2337.7 173.4 2316.6 171 2295.4 168.8 2274.2 166.9 2253 165.3 2231.7 163.9 2210.4 162.8 2189.1 161.9 2167.7 161.3 2146.4 160.9 2125 160.8M2125 2190.2 2141 2190.1 2157 2189.7 2173 2189.1 2189 2188.2 2205 2187.1 2221 2185.7 2236.9 2184.1 2252.8 2182.2 2268.7 2180 2284.5 2177.6 2300.3 2175 2316.1 2172.1 2331.8 2169 2347.5 2165.6 2363.1 2161.9 2378.6 2158.1 2394.1 2153.9 2409.5 2149.6 2424.8 2144.9 2440.1 2140.1 2455.3 2135 2470.4 2129.7 2485.4 2124.1 2500.3 2118.3 2515.2 2112.2 2529.9 2106 2544.6 2099.5 2559.1 2092.7 2573.5 2085.7 2587.8 2078.6 2602 2071.1 2616.1 2063.5 2630.1 2055.6 2643.9 2047.5 2657.6 2039.2 2671.2 2030.7 2684.6 2022 2697.9 2013.1 2711 2003.9 2724 1994.6 2736.9 1985 2749.6 1975.2 2762.1 1965.3 2774.5 1955.1 2786.8 1944.8 2798.8 1934.2 2810.7 1923.5 2822.4 1912.6 2834 1901.5 2845.4 1890.2 2856.6 1878.7 2867.6 1867.1 2878.4 1855.3 2889 1843.3 2899.5 1831.2 2909.7 1818.9 2919.8 1806.4 2929.6 1793.8 2939.3 1781 2948.8 1768.1 2958 1755 2967.1 1741.8 2975.9 1728.4 2984.5 1714.9 2992.9 1701.3 3001.1 1687.5 3009.1 1673.6 3016.8 1659.6 3024.4 1645.4 3031.7 1631.2 3038.8 1616.8 3045.6 1602.3 3052.2 1587.7 3058.6 1573.1 3064.8 1558.3 3070.7 1543.4 3076.4 1528.4 3081.9 1513.3 3087.1 1498.2 3092 1483 3096.8 1467.7 3101.3 1452.3 3105.5 1436.8 3109.5 1421.3 3113.3 1405.8 3116.8 1390.1 3120.1 1374.4 3123.1 1358.7 3125.8 1342.9 3128.4 1327.1 3130.6 1311.3 3132.6 1295.4 3134.4 1279.4 3135.9 1263.5 3137.2 1247.5 3138.2 1231.5 3139 1215.5 3139.5 1199.5 3139.7 1183.5 3139.7 1167.5 3139.5 1151.5 3139 1135.5 3138.2 1119.5 3137.2 1103.5 3135.9 1087.5 3134.4 1071.6 3132.6 1055.6 3130.6 1039.7 3128.4 1023.9 3125.8 1008.1 3123.1 992.3 3120.1 976.6 3116.8 960.9 3113.3 945.2 3109.5 929.7 3105.5 914.2 3101.3 898.7 3096.8 883.3 3092 868 3087.1 852.8 3081.9 837.7 3076.4 822.6 3070.7 807.6 3064.8 792.7 3058.6 777.9 3052.2 763.3 3045.6 748.7 3038.8 734.2 3031.7 719.8 3024.4 705.6 3016.8 691.4 3009.1 677.4 3001.1 663.5 2992.9 649.7 2984.5 636.1 2975.9 622.6 2967.1 609.2 2958 596 2948.8 582.9 2939.3 570 2929.6 557.2 2919.8 544.6 2909.7 532.1 2899.5 519.8 2889 507.7 2878.4 495.7 2867.6 483.9 2856.6 472.3 2845.4 460.8 2834 449.5 2822.4 438.4 2810.7 427.5 2798.8 416.8 2786.8 406.2 2774.5 395.9 2762.1 385.7 2749.6 375.8 2736.9 366 2724 356.4 2711 347.1 2697.9 337.9 2684.6 329 2671.2 320.3 2657.6 311.8 2643.9 303.5 2630.1 295.4 2616.1 287.5 2602 279.9 2587.8 272.4 2573.5 265.3 2559.1 258.3 2544.6 251.5 2529.9 245 2515.2 238.8 2500.3 232.7 2485.4 226.9 2470.4 221.3 2455.3 216 2440.1 210.9 2424.8 206.1 2409.5 201.4 2394.1 197.1 2378.6 192.9 2363.1 189.1 2347.5 185.4 2331.8 182 2316.1 178.9 2300.3 176 2284.5 173.4 2268.7 171 2252.8 168.8 2236.9 166.9 2221 165.3 2205 163.9 2189 162.8 2173 161.9 2157 161.3 2141 160.9 2125 160.8M2125 2190.2 2135.7 2190.1 2146.4 2189.7 2157 2189.1 2167.7 2188.2 2178.3 2187.1 2189 2185.7 2199.6 2184.1 2210.2 2182.2 2220.8 2180 2231.4 2177.6 2241.9 2175 2252.4 2172.1 2262.9 2169 2273.3 2165.6 2283.7 2161.9 2294.1 2158.1 2304.4 2153.9 2314.7 2149.6 2324.9 2144.9 2335.1 2140.1 2345.2 2135 2355.3 2129.7 2365.3 2124.1 2375.2 2118.3 2385.1 2112.2 2394.9 2106 2404.7 2099.5 2414.4 2092.7 2424 2085.7 2433.6 2078.6 2443 2071.1 2452.4 2063.5 2461.7 2055.6 2470.9 2047.5 2480.1 2039.2 2489.1 2030.7 2498.1 2022 2506.9 2013.1 2515.7 2003.9 2524.4 1994.6 2532.9 1985 2541.4 1975.2 2549.8 1965.3 2558 1955.1 2566.2 1944.8 2574.2 1934.2 2582.1 1923.5 2590 1912.6 2597.7 1901.5 2605.2 1890.2 2612.7 1878.7 2620 1867.1 2627.3 1855.3 2634.4 1843.3 2641.3 1831.2 2648.2 1818.9 2654.9 1806.4 2661.4 1793.8 2667.9 1781 2674.2 1768.1 2680.3 1755 2686.4 1741.8 2692.3 1728.4 2698 1714.9 2703.6 1701.3 2709.1 1687.5 2714.4 1673.6 2719.6 1659.6 2724.6 1645.4 2729.5 1631.2 2734.2 1616.8 2738.7 1602.3 2743.2 1587.7 2747.4 1573.1 2751.5 1558.3 2755.5 1543.4 2759.3 1528.4 2762.9 1513.3 2766.4 1498.2 2769.7 1483 2772.9 1467.7 2775.8 1452.3 2778.7 1436.8 2781.3 1421.3 2783.9 1405.8 2786.2 1390.1 2788.4 1374.4 2790.4 1358.7 2792.2 1342.9 2793.9 1327.1 2795.4 1311.3 2796.8 1295.4 2797.9 1279.4 2799 1263.5 2799.8 1247.5 2800.5 1231.5 2801 1215.5 2801.3 1199.5 2801.5 1183.5 2801.5 1167.5 2801.3 1151.5 2801 1135.5 2800.5 1119.5 2799.8 1103.5 2799 1087.5 2797.9 1071.6 2796.8 1055.6 2795.4 1039.7 2793.9 1023.9 2792.2 1008.1 2790.4 992.3 2788.4 976.6 2786.2 960.9 2783.9 945.2 2781.3 929.7 2778.7 914.2 2775.8 898.7 2772.9 883.3 2769.7 868 2766.4 852.8 2762.9 837.7 2759.3 822.6 2755.5 807.6 2751.5 792.7 2747.4 777.9 2743.2 763.3 2738.7 748.7 2734.2 734.2 2729.5 719.8 2724.6 705.6 2719.6 691.4 2714.4 677.4 2709.1 663.5 2703.6 649.7 2698 636.1 2692.3 622.6 2686.4 609.2 2680.3 596 2674.2 582.9 2667.9 570 2661.4 557.2 2654.9 544.6 2648.2 532.1 2641.3 519.8 2634.4 507.7 2627.3 495.7 2620 483.9 2612.7 472.3 2605.2 460.8 2597.7 449.5 2590 438.4 2582.1 427.5 2574.2 416.8 2566.2 406.2 2558 395.9 2549.8 385.7 2541.4 375.8 2532.9 366 2524.4 356.4 2515.7 347.1 2506.9 337.9 2498.1 329 2489.1 320.3 2480.1 311.8 2470.9 303.5 2461.7 295.4 2452.4 287.5 2443 279.9 2433.6 272.4 2424 265.3 2414.4 258.3 2404.7 251.5 2394.9 245 2385.1 238.8 2375.2 232.7 2365.3 226.9 2355.3 221.3 2345.2 216 2335.1 210.9 2324.9 206.1 2314.7 201.4 2304.4 197.1 2294.1 192.9 2283.7 189.1 2273.3 185.4 2262.9 182 2252.4 178.9 2241.9 176 2231.4 173.4 2220.8 171 2210.2 168.8 2199.6 166.9 2189 165.3 2178.3 163.9 2167.7 162.8 2157 161.9 2146.4 161.3 2135.7 160.9 2125 160.8M2125 2190.2 2130.3 2190.1 2135.7 2189.7 2141 2189.1 2146.3 2188.2 2151.7 2187.1 2157 2185.7 2162.3 2184.1 2167.6 2182.2 2172.9 2180 2178.2 2177.6 2183.4 2175 2188.7 2172.1 2193.9 2169 2199.2 2165.6 2204.4 2161.9 2209.5 2158.1 2214.7 2153.9 2219.8 2149.6 2224.9 2144.9 2230 2140.1 2235.1 2135 2240.1 2129.7 2245.1 2124.1 2250.1 2118.3 2255.1 2112.2 2260 2106 2264.9 2099.5 2269.7 2092.7 2274.5 2085.7 2279.3 2078.6 2284 2071.1 2288.7 2063.5 2293.4 2055.6 2298 2047.5 2302.5 2039.2 2307.1 2030.7 2311.5 2022 2316 2013.1 2320.3 2003.9 2324.7 1994.6 2329 1985 2333.2 1975.2 2337.4 1965.3 2341.5 1955.1 2345.6 1944.8 2349.6 1934.2 2353.6 1923.5 2357.5 1912.6 2361.3 1901.5 2365.1 1890.2 2368.9 1878.7 2372.5 1867.1 2376.1 1855.3 2379.7 1843.3 2383.2 1831.2 2386.6 1818.9 2389.9 1806.4 2393.2 1793.8 2396.4 1781 2399.6 1768.1 2402.7 1755 2405.7 1741.8 2408.6 1728.4 2411.5 1714.9 2414.3 1701.3 2417 1687.5 2419.7 1673.6 2422.3 1659.6 2424.8 1645.4 2427.2 1631.2 2429.6 1616.8 2431.9 1602.3 2434.1 1587.7 2436.2 1573.1 2438.3 1558.3 2440.2 1543.4 2442.1 1528.4 2444 1513.3 2445.7 1498.2 2447.3 1483 2448.9 1467.7 2450.4 1452.3 2451.8 1436.8 2453.2 1421.3 2454.4 1405.8 2455.6 1390.1 2456.7 1374.4 2457.7 1358.7 2458.6 1342.9 2459.5 1327.1 2460.2 1311.3 2460.9 1295.4 2461.5 1279.4 2462 1263.5 2462.4 1247.5 2462.7 1231.5 2463 1215.5 2463.2 1199.5 2463.2 1183.5 2463.2 1167.5 2463.2 1151.5 2463 1135.5 2462.7 1119.5 2462.4 1103.5 2462 1087.5 2461.5 1071.6 2460.9 1055.6 2460.2 1039.7 2459.5 1023.9 2458.6 1008.1 2457.7 992.3 2456.7 976.6 2455.6 960.9 2454.4 945.2 2453.2 929.7 2451.8 914.2 2450.4 898.7 2448.9 883.3 2447.3 868 2445.7 852.8 2444 837.7 2442.1 822.6 2440.2 807.6 2438.3 792.7 2436.2 777.9 2434.1 763.3 2431.9 748.7 2429.6 734.2 2427.2 719.8 2424.8 705.6 2422.3 691.4 2419.7 677.4 2417 663.5 2414.3 649.7 2411.5 636.1 2408.6 622.6 2405.7 609.2 2402.7 596 2399.6 582.9 2396.4 570 2393.2 557.2 2389.9 544.6 2386.6 532.1 2383.2 519.8 2379.7 507.7 2376.1 495.7 2372.5 483.9 2368.9 472.3 2365.1 460.8 2361.3 449.5 2357.5 438.4 2353.6 427.5 2349.6 416.8 2345.6 406.2 2341.5 395.9 2337.4 385.7 2333.2 375.8 2329 366 2324.7 356.4 2320.3 347.1 2316 337.9 2311.5 329 2307.1 320.3 2302.5 311.8 2298 303.5 2293.4 295.4 2288.7 287.5 2284 279.9 2279.3 272.4 2274.5 265.3 2269.7 258.3 2264.9 251.5 2260 245 2255.1 238.8 2250.1 232.7 2245.1 226.9 2240.1 221.3 2235.1 216 2230 210.9 2224.9 206.1 2219.8 201.4 2214.7 197.1 2209.5 192.9 2204.4 189.1 2199.2 185.4 2193.9 182 2188.7 178.9 2183.4 176 2178.2 173.4 2172.9 171 2167.6 168.8 2162.3 166.9 2157 165.3 2151.7 163.9 2146.3 162.8 2141 161.9 2135.7 161.3 2130.3 160.9 2125 160.8M2125 2190.2 2119.7 2190.1 2114.3 2189.7 2109 2189.1 2103.7 2188.2 2098.3 2187.1 2093 2185.7 2087.7 2184.1 2082.4 2182.2 2077.1 2180 2071.8 2177.6 2066.6 2175 2061.3 2172.1 2056.1 2169 2050.8 2165.6 2045.6 2161.9 2040.5 2158.1 2035.3 2153.9 2030.2 2149.6 2025.1 2144.9 2020 2140.1 2014.9 2135 2009.9 2129.7 2004.9 2124.1 1999.9 2118.3 1994.9 2112.2 1990 2106 1985.1 2099.5 1980.3 2092.7 1975.5 2085.7 1970.7 2078.6 1966 2071.1 1961.3 2063.5 1956.6 2055.6 1952 2047.5 1947.5 2039.2 1942.9 2030.7 1938.5 2022 1934 2013.1 1929.7 2003.9 1925.3 1994.6 1921 1985 1916.8 1975.2 1912.6 1965.3 1908.5 1955.1 1904.4 1944.8 1900.4 1934.2 1896.4 1923.5 1892.5 1912.6 1888.7 1901.5 1884.9 1890.2 1881.1 1878.7 1877.5 1867.1 1873.9 1855.3 1870.3 1843.3 1866.8 1831.2 1863.4 1818.9 1860.1 1806.4 1856.8 1793.8 1853.6 1781 1850.4 1768.1 1847.3 1755 1844.3 1741.8 1841.4 1728.4 1838.5 1714.9 1835.7 1701.3 1833 1687.5 1830.3 1673.6 1827.7 1659.6 1825.2 1645.4 1822.8 1631.2 1820.4 1616.8 1818.1 1602.3 1815.9 1587.7 1813.8 1573.1 1811.7 1558.3 1809.8 1543.4 1807.9 1528.4 1806 1513.3 1804.3 1498.2 1802.7 1483 1801.1 1467.7 1799.6 1452.3 1798.2 1436.8 1796.8 1421.3 1795.6 1405.8 1794.4 1390.1 1793.3 1374.4 1792.3 1358.7 1791.4 1342.9 1790.5 1327.1 1789.8 1311.3 1789.1 1295.4 1788.5 1279.4 1788 1263.5 1787.6 1247.5 1787.3 1231.5 1787 1215.5 1786.8 1199.5 1786.8 1183.5 1786.8 1167.5 1786.8 1151.5 1787 1135.5 1787.3 1119.5 1787.6 1103.5 1788 1087.5 1788.5 1071.6 1789.1 1055.6 1789.8 1039.7 1790.5 1023.9 1791.4 1008.1 1792.3 992.3 1793.3 976.6 1794.4 960.9 1795.6 945.2 1796.8 929.7 1798.2 914.2 1799.6 898.7 1801.1 883.3 1802.7 868 1804.3 852.8 1806 837.7 1807.9 822.6 1809.8 807.6 1811.7 792.7 1813.8 777.9 1815.9 763.3 1818.1 748.7 1820.4 734.2 1822.8 719.8 1825.2 705.6 1827.7 691.4 1830.3 677.4 1833 663.5 1835.7 649.7 1838.5 636.1 1841.4 622.6 1844.3 609.2 1847.3 596 1850.4 582.9 1853.6 570 1856.8 557.2 1860.1 544.6 1863.4 532.1 1866.8 519.8 1870.3 507.7 1873.9 495.7 1877.5 483.9 1881.1 472.3 1884.9 460.8 1888.7 449.5 1892.5 438.4 1896.4 427.5 1900.4 416.8 1904.4 406.2 1908.5 395.9 1912.6 385.7 1916.8 375.8 1921 366 1925.3 356.4 1929.7 347.1 1934 337.9 1938.5 329 1942.9 320.3 1947.5 311.8 1952 303.5 1956.6 295.4 1961.3 287.5 1966 279.9 1970.7 272.4 1975.5 265.3 1980.3 258.3 1985.1 251.5 1990 245 1994.9 238.8 1999.9 232.7 2004.9 226.9 2009.9 221.3 2014.9 216 2020 210.9 2025.1 206.1 2030.2 201.4 2035.3 197.1 2040.5 192.9 2045.6 189.1 2050.8 185.4 2056.1 182 2061.3 178.9 2066.6 176 2071.8 173.4 2077.1 171 2082.4 168.8 2087.7 166.9 2093 165.3 2098.3 163.9 2103.7 162.8 2109 161.9 2114.3 161.3 2119.7 160.9 2125 160.8M2125 2190.2 2114.3 2190.1 2103.6 2189.7 2093 2189.1 2082.3 2188.2 2071.7 2187.1 2061 2185.7 2050.4 2184.1 2039.8 2182.2 2029.2 2180 2018.6 2177.6 2008.1 2175 1997.6 2172.1 1987.1 2169 1976.7 2165.6 1966.3 2161.9 1955.9 2158.1 1945.6 2153.9 1935.3 2149.6 1925.1 2144.9 1914.9 2140.1 1904.8 2135 1894.7 2129.7 1884.7 2124.1 1874.8 2118.3 1864.9 2112.2 1855.1 2106 1845.3 2099.5 1835.6 2092.7 1826 2085.7 1816.4 2078.6 1807 2071.1 1797.6 2063.5 1788.3 2055.6 1779.1 2047.5 1769.9 2039.2 1760.9 2030.7 1751.9 2022 1743.1 2013.1 1734.3 2003.9 1725.6 1994.6 1717.1 1985 1708.6 1975.2 1700.2 1965.3 1692 1955.1 1683.8 1944.8 1675.8 1934.2 1667.9 1923.5 1660 1912.6 1652.3 1901.5 1644.8 1890.2 1637.3 1878.7 1630 1867.1 1622.7 1855.3 1615.6 1843.3 1608.7 1831.2 1601.8 1818.9 1595.1 1806.4 1588.6 1793.8 1582.1 1781 1575.8 1768.1 1569.7 1755 1563.6 1741.8 1557.7 1728.4 1552 1714.9 1546.4 1701.3 1540.9 1687.5 1535.6 1673.6 1530.4 1659.6 1525.4 1645.4 1520.5 1631.2 1515.8 1616.8 1511.3 1602.3 1506.8 1587.7 1502.6 1573.1 1498.5 1558.3 1494.5 1543.4 1490.7 1528.4 1487.1 1513.3 1483.6 1498.2 1480.3 1483 1477.1 1467.7 1474.2 1452.3 1471.3 1436.8 1468.7 1421.3 1466.1 1405.8 1463.8 1390.1 1461.6 1374.4 1459.6 1358.7 1457.8 1342.9 1456.1 1327.1 1454.6 1311.3 1453.2 1295.4 1452.1 1279.4 1451 1263.5 1450.2 1247.5 1449.5 1231.5 1449 1215.5 1448.7 1199.5 1448.5 1183.5 1448.5 1167.5 1448.7 1151.5 1449 1135.5 1449.5 1119.5 1450.2 1103.5 1451 1087.5 1452.1 1071.6 1453.2 1055.6 1454.6 1039.7 1456.1 1023.9 1457.8 1008.1 1459.6 992.3 1461.6 976.6 1463.8 960.9 1466.1 945.2 1468.7 929.7 1471.3 914.2 1474.2 898.7 1477.1 883.3 1480.3 868 1483.6 852.8 1487.1 837.7 1490.7 822.6 1494.5 807.6 1498.5 792.7 1502.6 777.9 1506.8 763.3 1511.3 748.7 1515.8 734.2 1520.5 719.8 1525.4 705.6 1530.4 691.4 1535.6 677.4 1540.9 663.5 1546.4 649.7 1552 636.1 1557.7 622.6 1563.6 609.2 1569.7 596 1575.8 582.9 1582.1 570 1588.6 557.2 1595.1 544.6 1601.8 532.1 1608.7 519.8 1615.6 507.7 1622.7 495.7 1630 483.9 1637.3 472.3 1644.8 460.8 1652.3 449.5 1660 438.4 1667.9 427.5 1675.8 416.8 1683.8 406.2 1692 395.9 1700.2 385.7 1708.6 375.8 1717.1 366 1725.6 356.4 1734.3 347.1 1743.1 337.9 1751.9 329 1760.9 320.3 1769.9 311.8 1779.1 303.5 1788.3 295.4 1797.6 287.5 1807 279.9 1816.4 272.4 1826 265.3 1835.6 258.3 1845.3 251.5 1855.1 245 1864.9 238.8 1874.8 232.7 1884.7 226.9 1894.7 221.3 1904.8 216 1914.9 210.9 1925.1 206.1 1935.3 201.4 1945.6 197.1 1955.9 192.9 1966.3 189.1 1976.7 185.4 1987.1 182 1997.6 178.9 2008.1 176 2018.6 173.4 2029.2 171 2039.8 168.8 2050.4 166.9 2061 165.3 2071.7 163.9 2082.3 162.8 2093 161.9 2103.6 161.3 2114.3 160.9 2125 160.8M2125 2190.2 2109 2190.1 2093 2189.7 2077 2189.1 2061 2188.2 2045 2187.1 2029 2185.7 2013.1 2184.1 1997.2 2182.2 1981.3 2180 1965.5 2177.6 1949.7 2175 1933.9 2172.1 1918.2 2169 1902.5 2165.6 1886.9 2161.9 1871.4 2158.1 1855.9 2153.9 1840.5 2149.6 1825.2 2144.9 1809.9 2140.1 1794.7 2135 1779.6 2129.7 1764.6 2124.1 1749.7 2118.3 1734.8 2112.2 1720.1 2106 1705.4 2099.5 1690.9 2092.7 1676.5 2085.7 1662.2 2078.6 1648 2071.1 1633.9 2063.5 1619.9 2055.6 1606.1 2047.5 1592.4 2039.2 1578.8 2030.7 1565.4 2022 1552.1 2013.1 1539 2003.9 1526 1994.6 1513.1 1985 1500.4 1975.2 1487.9 1965.3 1475.5 1955.1 1463.2 1944.8 1451.2 1934.2 1439.3 1923.5 1427.6 1912.6 1416 1901.5 1404.6 1890.2 1393.4 1878.7 1382.4 1867.1 1371.6 1855.3 1361 1843.3 1350.5 1831.2 1340.3 1818.9 1330.2 1806.4 1320.4 1793.8 1310.7 1781 1301.2 1768.1 1292 1755 1282.9 1741.8 1274.1 1728.4 1265.5 1714.9 1257.1 1701.3 1248.9 1687.5 1240.9 1673.6 1233.2 1659.6 1225.6 1645.4 1218.3 1631.2 1211.2 1616.8 1204.4 1602.3 1197.8 1587.7 1191.4 1573.1 1185.2 1558.3 1179.3 1543.4 1173.6 1528.4 1168.1 1513.3 1162.9 1498.2 1158 1483 1153.2 1467.7 1148.7 1452.3 1144.5 1436.8 1140.5 1421.3 1136.7 1405.8 1133.2 1390.1 1129.9 1374.4 1126.9 1358.7 1124.2 1342.9 1121.6 1327.1 1119.4 1311.3 1117.4 1295.4 1115.6 1279.4 1114.1 1263.5 1112.8 1247.5 1111.8 1231.5 1111 1215.5 1110.5 1199.5 1110.3 1183.5 1110.3 1167.5 1110.5 1151.5 1111 1135.5 1111.8 1119.5 1112.8 1103.5 1114.1 1087.5 1115.6 1071.6 1117.4 1055.6 1119.4 1039.7 1121.6 1023.9 1124.2 1008.1 1126.9 992.3 1129.9 976.6 1133.2 960.9 1136.7 945.2 1140.5 929.7 1144.5 914.2 1148.7 898.7 1153.2 883.3 1158 868 1162.9 852.8 1168.1 837.7 1173.6 822.6 1179.3 807.6 1185.2 792.7 1191.4 777.9 1197.8 763.3 1204.4 748.7 1211.2 734.2 1218.3 719.8 1225.6 705.6 1233.2 691.4 1240.9 677.4 1248.9 663.5 1257.1 649.7 1265.5 636.1 1274.1 622.6 1282.9 609.2 1292 596 1301.2 582.9 1310.7 570 1320.4 557.2 1330.2 544.6 1340.3 532.1 1350.5 519.8 1361 507.7 1371.6 495.7 1382.4 483.9 1393.4 472.3 1404.6 460.8 1416 449.5 1427.6 438.4 1439.3 427.5 1451.2 416.8 1463.2 406.2 1475.5 395.9 1487.9 385.7 1500.4 375.8 1513.1 366 1526 356.4 1539 347.1 1552.1 337.9 1565.4 329 1578.8 320.3 1592.4 311.8 1606.1 303.5 1619.9 295.4 1633.9 287.5 1648 279.9 1662.2 272.4 1676.5 265.3 1690.9 258.3 1705.4 251.5 1720.1 245 1734.8 238.8 1749.7 232.7 1764.6 226.9 1779.6 221.3 1794.7 216 1809.9 210.9 1825.2 206.1 1840.5 201.4 1855.9 197.1 1871.4 192.9 1886.9 189.1 1902.5 185.4 1918.2 182 1933.9 178.9 1949.7 176 1965.5 173.4 1981.3 171 1997.2 168.8 2013.1 166.9 2029 165.3 2045 163.9 2061 162.8 2077 161.9 2093 161.3 2109 160.9 2125 160.8M2125 2190.2 2103.6 2190.1 2082.3 2189.7 2060.9 2189.1 2039.6 2188.2 2018.3 2187.1 1997 2185.7 1975.8 2184.1 1954.6 2182.2 1933.4 2180 1912.3 2177.6 1891.2 2175 1870.2 2172.1 1849.3 2169 1828.4 2165.6 1807.6 2161.9 1786.9 2158.1 1766.2 2153.9 1745.7 2149.6 1725.2 2144.9 1704.9 2140.1 1684.6 2135 1664.5 2129.7 1644.5 2124.1 1624.5 2118.3 1604.8 2112.2 1585.1 2106 1565.6 2099.5 1546.2 2092.7 1527 2085.7 1507.9 2078.6 1489 2071.1 1470.2 2063.5 1451.6 2055.6 1433.1 2047.5 1414.9 2039.2 1396.8 2030.7 1378.9 2022 1361.1 2013.1 1343.6 2003.9 1326.3 1994.6 1309.1 1985 1292.2 1975.2 1275.5 1965.3 1258.9 1955.1 1242.6 1944.8 1226.6 1934.2 1210.7 1923.5 1195.1 1912.6 1179.7 1901.5 1164.5 1890.2 1149.6 1878.7 1134.9 1867.1 1120.5 1855.3 1106.3 1843.3 1092.4 1831.2 1078.7 1818.9 1065.3 1806.4 1052.1 1793.8 1039.3 1781 1026.6 1768.1 1014.3 1755 1002.3 1741.8 990.5 1728.4 979 1714.9 967.8 1701.3 956.8 1687.5 946.2 1673.6 935.9 1659.6 925.8 1645.4 916.1 1631.2 906.7 1616.8 897.5 1602.3 888.7 1587.7 880.2 1573.1 871.9 1558.3 864 1543.4 856.5 1528.4 849.2 1513.3 842.2 1498.2 835.6 1483 829.3 1467.7 823.3 1452.3 817.6 1436.8 812.3 1421.3 807.3 1405.8 802.6 1390.1 798.3 1374.4 794.2 1358.7 790.5 1342.9 787.2 1327.1 784.2 1311.3 781.5 1295.4 779.1 1279.4 777.1 1263.5 775.4 1247.5 774.1 1231.5 773.1 1215.5 772.4 1199.5 772 1183.5 772 1167.5 772.4 1151.5 773.1 1135.5 774.1 1119.5 775.4 1103.5 777.1 1087.5 779.1 1071.6 781.5 1055.6 784.2 1039.7 787.2 1023.9 790.5 1008.1 794.2 992.3 798.3 976.6 802.6 960.9 807.3 945.2 812.3 929.7 817.6 914.2 823.3 898.7 829.3 883.3 835.6 868 842.2 852.8 849.2 837.7 856.5 822.6 864 807.6 871.9 792.7 880.2 777.9 888.7 763.3 897.5 748.7 906.7 734.2 916.1 719.8 925.8 705.6 935.9 691.4 946.2 677.4 956.8 663.5 967.8 649.7 979 636.1 990.5 622.6 1002.3 609.2 1014.3 596 1026.6 582.9 1039.3 570 1052.1 557.2 1065.3 544.6 1078.7 532.1 1092.4 519.8 1106.3 507.7 1120.5 495.7 1134.9 483.9 1149.6 472.3 1164.5 460.8 1179.7 449.5 1195.1 438.4 1210.7 427.5 1226.6 416.8 1242.6 406.2 1258.9 395.9 1275.5 385.7 1292.2 375.8 1309.1 366 1326.3 356.4 1343.6 347.1 1361.1 337.9 1378.9 329 1396.8 320.3 1414.9 311.8 1433.1 303.5 1451.6 295.4 1470.2 287.5 1489 279.9 1507.9 272.4 1527 265.3 1546.2 258.3 1565.6 251.5 1585.1 245 1604.8 238.8 1624.5 232.7 1644.5 226.9 1664.5 221.3 1684.6 216 1704.9 210.9 1725.2 206.1 1745.7 201.4 1766.2 197.1 1786.9 192.9 1807.6 189.1 1828.4 185.4 1849.3 182 1870.2 178.9 1891.2 176 1912.3 173.4 1933.4 171 1954.6 168.8 1975.8 166.9 1997 165.3 2018.3 163.9 2039.6 162.8 2060.9 161.9 2082.3 161.3 2103.6 160.9 2125 160.8M2125 2190.2 2098.3 2190.1 2071.6 2189.7 2044.9 2189.1 2018.3 2188.2 1991.6 2187.1 1965 2185.7 1938.5 2184.1 1912 2182.2 1885.5 2180 1859.1 2177.6 1832.8 2175 1806.5 2172.1 1780.3 2169 1754.2 2165.6 1728.2 2161.9 1702.3 2158.1 1676.5 2153.9 1650.8 2149.6 1625.3 2144.9 1599.8 2140.1 1574.5 2135 1549.3 2129.7 1524.3 2124.1 1499.4 2118.3 1474.7 2112.2 1450.1 2106 1425.7 2099.5 1401.5 2092.7 1377.5 2085.7 1353.6 2078.6 1330 2071.1 1306.5 2063.5 1283.2 2055.6 1260.2 2047.5 1237.3 2039.2 1214.7 2030.7 1192.3 2022 1170.2 2013.1 1148.3 2003.9 1126.6 1994.6 1105.2 1985 1084 1975.2 1063.1 1965.3 1042.4 1955.1 1022.1 1944.8 1002 1934.2 982.1 1923.5 962.6 1912.6 943.3 1901.5 924.4 1890.2 905.7 1878.7 887.4 1867.1 869.3 1855.3 851.6 1843.3 834.2 1831.2 817.1 1818.9 800.4 1806.4 783.9 1793.8 767.8 1781 752.1 1768.1 736.6 1755 721.6 1741.8 706.8 1728.4 692.5 1714.9 678.5 1701.3 664.8 1687.5 651.5 1673.6 638.6 1659.6 626 1645.4 613.9 1631.2 602.1 1616.8 590.6 1602.3 579.6 1587.7 569 1573.1 558.7 1558.3 548.8 1543.4 539.3 1528.4 530.2 1513.3 521.5 1498.2 513.3 1483 505.4 1467.7 497.9 1452.3 490.8 1436.8 484.1 1421.3 477.9 1405.8 472 1390.1 466.6 1374.4 461.5 1358.7 456.9 1342.9 452.7 1327.1 449 1311.3 445.6 1295.4 442.6 1279.4 440.1 1263.5 438 1247.5 436.3 1231.5 435.1 1215.5 434.2 1199.5 433.8 1183.5 433.8 1167.5 434.2 1151.5 435.1 1135.5 436.3 1119.5 438 1103.5 440.1 1087.5 442.6 1071.6 445.6 1055.6 449 1039.7 452.7 1023.9 456.9 1008.1 461.5 992.3 466.6 976.6 472 960.9 477.9 945.2 484.1 929.7 490.8 914.2 497.9 898.7 505.4 883.3 513.3 868 521.5 852.8 530.2 837.7 539.3 822.6 548.8 807.6 558.7 792.7 569 777.9 579.6 763.3 590.6 748.7 602.1 734.2 613.9 719.8 626 705.6 638.6 691.4 651.5 677.4 664.8 663.5 678.5 649.7 692.5 636.1 706.8 622.6 721.6 609.2 736.6 596 752.1 582.9 767.8 570 783.9 557.2 800.4 544.6 817.1 532.1 834.2 519.8 851.6 507.7 869.3 495.7 887.4 483.9 905.7 472.3 924.4 460.8 943.3 449.5 962.6 438.4 982.1 427.5 1002 416.8 1022.1 406.2 1042.4 395.9 1063.1 385.7 1084 375.8 1105.2 366 1126.6 356.4 1148.3 347.1 1170.2 337.9 1192.3 329 1214.7 320.3 1237.3 311.8 1260.2 303.5 1283.2 295.4 1306.5 287.5 1330 279.9 1353.6 272.4 1377.5 265.3 1401.5 258.3 1425.7 251.5 1450.1 245 1474.7 238.8 1499.4 232.7 1524.3 226.9 1549.3 221.3 1574.5 216 1599.8 210.9 1625.3 206.1 1650.8 201.4 1676.5 197.1 1702.3 192.9 1728.2 189.1 1754.2 185.4 1780.3 182 1806.5 178.9 1832.8 176 1859.1 173.4 1885.5 171 1912 168.8 1938.5 166.9 1965 165.3 1991.6 163.9 2018.3 162.8 2044.9 161.9 2071.6 161.3 2098.3 160.9 2125 160.8M811.7 1949.1H3438.3M268.5 1585.4H3981.5M268.5 765.6H3981.5M811.7 401.9H3438.3" fill="none" stroke="#000" stroke-width="6.94" stroke-dasharray="6.94 11.46"/>
<path d="M95.5 1175.5H4154.5M2125.0 160.8V2190.2" stroke="#000" stroke-width="6.94"/></g>
<ellipse cx="2125.0" cy="1175.5" rx="2029.5" ry="1014.75" fill="none" stroke="#000" stroke-width="6.94"/>
<g shape-rendering="crispEdges"><rect x="1104.8" y="2321.8" width="8.6" height="82.2" fill="#000080"/><rect x="1112.8" y="2321.8" width="8.6" height="82.2" fill="#0031ff"/><rect x="1120.7" y="2321.8" width="8.6" height="82.2" fill="#0081ff"/><rect x="1128.7" y="2321.8" width="8.6" height="82.2" fill="#00b9ff"/><rect x="1136.7" y="2321.8" width="8.6" height="82.2" fill="#00e1fb"/><rect x="1144.6" y="2321.8" width="8.6" height="82.2" fill="#19ffde"/><rect x="1152.6" y="2321.8" width="8.6" height="82.2" fill="#30ffc7"/><rect x="1160.6" y="2321.8" width="8.6" height="82.2" fill="#43ffb4"/><rect x="1168.6" y="2321.8" width="8.6" height="82.2" fill="#53ffa4"/><rect x="1176.5" y="2321.8" width="8.6" height="82.2" fill="#60ff97"/><rect x="1184.5" y="2321.8" width="8.6" height="82.2" fill="#6dff8a"/><rect x="1192.5" y="2321.8" width="8.6" height="82.2" fill="#7aff7d"/><rect x="1200.4" y="2321.8" width="8.6" height="82.2" fill="#87ff70"/><rect x="1208.4" y="2321.8" width="8.6" height="82.2" fill="#90ff66"/><rect x="1216.4" y="2321.8" width="8.6" height="82.2" fill="#9aff5d"/><rect x="1224.3" y="2321.8" width="8.6" height="82.2" fill="#a4ff53"/><rect x="1232.3" y="2321.8" width="8.6" height="82.2" fill="#aaff4d"/><rect x="1240.3" y="2321.8" width="8.6" height="82.2" fill="#b4ff43"/><rect x="1248.2" y="2321.8" width="8.6" height="82.2" fill="#baff3c"/><rect x="1256.2" y="2321.8" width="8.6" height="82.2" fill="#c1ff36"/><rect x="1264.2" y="2321.8" width="8.6" height="82.2" fill="#c7ff30"/><rect x="1272.2" y="2321.8" width="8.6" height="82.2" fill="#ceff29"/><rect x="1280.1" y="2321.8" width="8.6" height="82.2" fill="#d4ff23"/><rect x="1288.1" y="2321.8" width="8.6" height="82.2" fill="#dbff1c"/><rect x="1296.1" y="2321.8" width="8.6" height="82.2" fill="#deff19"/><rect x="1304" y="2321.8" width="8.6" height="82.2" fill="#e4ff13"/><rect x="1312" y="2321.8" width="8.6" height="82.2" fill="#ebff0c"/><rect x="1320" y="2321.8" width="8.6" height="82.2" fill="#eeff09"/><rect x="1327.9" y="2321.8" width="8.6" height="82.2" fill="#f4f802"/><rect x="1335.9" y="2321.8" width="8.6" height="82.2" fill="#f8f500"/><rect x="1343.9" y="2321.8" width="8.6" height="82.2" fill="#feed00"/><rect x="1351.8" y="2321.8" width="8.6" height="82.2" fill="#ffea00"/><rect x="1359.8" y="2321.8" width="8.6" height="82.2" fill="#ffe600"/><rect x="1367.8" y="2321.8" width="8.6" height="82.2" fill="#ffe200"/><rect x="1375.8" y="2321.8" width="8.6" height="82.2" fill="#ffdb00"/><rect x="1383.7" y="2321.8" width="8.6" height="82.2" fill="#ffd700"/><rect x="1391.7" y="2321.8" width="8.6" height="82.2" fill="#ffd300"/><rect x="1399.7" y="2321.8" width="8.6" height="82.2" fill="#ffd000"/><rect x="1407.6" y="2321.8" width="8.6" height="82.2" fill="#ffcc00"/><rect x="1415.6" y="2321.8" width="8.6" height="82.2" fill="#ffc800"/><rect x="1423.6" y="2321.8" width="8.6" height="82.2" fill="#ffc400"/><rect x="1431.5" y="2321.8" width="8.6" height="82.2" fill="#ffc100"/><rect x="1439.5" y="2321.8" width="8.6" height="82.2" fill="#ffbd00"/><rect x="1447.5" y="2321.8" width="8.6" height="82.2" fill="#ffb900"/><rect x="1455.4" y="2321.8" width="8.6" height="82.2" fill="#ffb600"/><rect x="1463.4" y="2321.8" width="8.6" height="82.2" fill="#ffb200"/><rect x="1471.4" y="2321.8" width="8.6" height="82.2" fill="#ffae00"/><rect x="1479.3" y="2321.8" width="8.6" height="82.2" fill="#ffab00"/><rect x="1487.3" y="2321.8" width="8.6" height="82.2" fill="#ffa700"/><rect x="1495.3" y="2321.8" width="8.6" height="82.2" fill="#ffa300"/><rect x="1503.3" y="2321.8" width="8.6" height="82.2" fill="#ffa300"/><rect x="1511.2" y="2321.8" width="8.6" height="82.2" fill="#ff9f00"/><rect x="1519.2" y="2321.8" width="8.6" height="82.2" fill="#ff9c00"/><rect x="1527.2" y="2321.8" width="8.6" height="82.2" fill="#ff9800"/><rect x="1535.1" y="2321.8" width="8.6" height="82.2" fill="#ff9400"/><rect x="1543.1" y="2321.8" width="8.6" height="82.2" fill="#ff9400"/><rect x="1551.1" y="2321.8" width="8.6" height="82.2" fill="#ff9100"/><rect x="1559" y="2321.8" width="8.6" height="82.2" fill="#ff8d00"/><rect x="1567" y="2321.8" width="8.6" height="82.2" fill="#ff8d00"/><rect x="1575" y="2321.8" width="8.6" height="82.2" fill="#ff8900"/><rect x="1582.9" y="2321.8" width="8.6" height="82.2" fill="#ff8600"/><rect x="1590.9" y="2321.8" width="8.6" height="82.2" fill="#ff8200"/><rect x="1598.9" y="2321.8" width="8.6" height="82.2" fill="#ff8200"/><rect x="1606.9" y="2321.8" width="8.6" height="82.2" fill="#ff7e00"/><rect x="1614.8" y="2321.8" width="8.6" height="82.2" fill="#ff7a00"/><rect x="1622.8" y="2321.8" width="8.6" height="82.2" fill="#ff7a00"/><rect x="1630.8" y="2321.8" width="8.6" height="82.2" fill="#ff7700"/><rect x="1638.7" y="2321.8" width="8.6" height="82.2" fill="#ff7700"/><rect x="1646.7" y="2321.8" width="8.6" height="82.2" fill="#ff7300"/><rect x="1654.7" y="2321.8" width="8.6" height="82.2" fill="#ff6f00"/><rect x="1662.6" y="2321.8" width="8.6" height="82.2" fill="#ff6f00"/><rect x="1670.6" y="2321.8" width="8.6" height="82.2" fill="#ff6c00"/><rect x="1678.6" y="2321.8" width="8.6" height="82.2" fill="#ff6c00"/><rect x="1686.5" y="2321.8" width="8.6" height="82.2" fill="#ff6800"/><rect x="1694.5" y="2321.8" width="8.6" height="82.2" fill="#ff6800"/><rect x="1702.5" y="2321.8" width="8.6" height="82.2" fill="#ff6400"/><rect x="1710.5" y="2321.8" width="8.6" height="82.2" fill="#ff6000"/><rect x="1718.4" y="2321.8" width="8.6" height="82.2" fill="#ff6000"/><rect x="1726.4" y="2321.8" width="8.6" height="82.2" fill="#ff5d00"/><rect x="1734.4" y="2321.8" width="8.6" height="82.2" fill="#ff5d00"/><rect x="1742.3" y="2321.8" width="8.6" height="82.2" fill="#ff5900"/><rect x="1750.3" y="2321.8" width="8.6" height="82.2" fill="#ff5900"/><rect x="1758.3" y="2321.8" width="8.6" height="82.2" fill="#ff5500"/><rect x="1766.2" y="2321.8" width="8.6" height="82.2" fill="#ff5500"/><rect x="1774.2" y="2321.8" width="8.6" height="82.2" fill="#ff5200"/><rect x="1782.2" y="2321.8" width="8.6" height="82.2" fill="#ff5200"/><rect x="1790.1" y="2321.8" width="8.6" height="82.2" fill="#ff4e00"/><rect x="1798.1" y="2321.8" width="8.6" height="82.2" fill="#ff4e00"/><rect x="1806.1" y="2321.8" width="8.6" height="82.2" fill="#ff4a00"/><rect x="1814.1" y="2321.8" width="8.6" height="82.2" fill="#ff4a00"/><rect x="1822" y="2321.8" width="8.6" height="82.2" fill="#ff4700"/><rect x="1830" y="2321.8" width="8.6" height="82.2" fill="#ff4700"/><rect x="1838" y="2321.8" width="8.6" height="82.2" fill="#ff4700"/><rect x="1845.9" y="2321.8" width="8.6" height="82.2" fill="#ff4300"/><rect x="1853.9" y="2321.8" width="8.6" height="82.2" fill="#ff4300"/><rect x="1861.9" y="2321.8" width="8.6" height="82.2" fill="#ff3f00"/><rect x="1869.8" y="2321.8" width="8.6" height="82.2" fill="#ff3f00"/><rect x="1877.8" y="2321.8" width="8.6" height="82.2" fill="#ff3b00"/><rect x="1885.8" y="2321.8" width="8.6" height="82.2" fill="#ff3b00"/><rect x="1893.7" y="2321.8" width="8.6" height="82.2" fill="#ff3b00"/><rect x="1901.7" y="2321.8" width="8.6" height="82.2" fill="#ff3800"/><rect x="1909.7" y="2321.8" width="8.6" height="82.2" fill="#ff3800"/><rect x="1917.7" y="2321.8" width="8.6" height="82.2" fill="#ff3400"/><rect x="1925.6" y="2321.8" width="8.6" height="82.2" fill="#ff3400"/><rect x="1933.6" y="2321.8" width="8.6" height="82.2" fill="#ff3400"/><rect x="1941.6" y="2321.8" width="8.6" height="82.2" fill="#ff3000"/><rect x="1949.5" y="2321.8" width="8.6" height="82.2" fill="#ff3000"/><rect x="1957.5" y="2321.8" width="8.6" height="82.2" fill="#ff2d00"/><rect x="1965.5" y="2321.8" width="8.6" height="82.2" fill="#ff2d00"/><rect x="1973.4" y="2321.8" width="8.6" height="82.2" fill="#ff2d00"/><rect x="1981.4" y="2321.8" width="8.6" height="82.2" fill="#ff2900"/><rect x="1989.4" y="2321.8" width="8.6" height="82.2" fill="#ff2900"/><rect x="1997.3" y="2321.8" width="8.6" height="82.2" fill="#ff2500"/><rect x="2005.3" y="2321.8" width="8.6" height="82.2" fill="#ff2500"/><rect x="2013.3" y="2321.8" width="8.6" height="82.2" fill="#ff2500"/><rect x="2021.3" y="2321.8" width="8.6" height="82.2" fill="#ff2200"/><rect x="2029.2" y="2321.8" width="8.6" height="82.2" fill="#ff2200"/><rect x="2037.2" y="2321.8" width="8.6" height="82.2" fill="#ff2200"/><rect x="2045.2" y="2321.8" width="8.6" height="82.2" fill="#ff1e00"/><rect x="2053.1" y="2321.8" width="8.6" height="82.2" fill="#ff1e00"/><rect x="2061.1" y="2321.8" width="8.6" height="82.2" fill="#ff1e00"/><rect x="2069.1" y="2321.8" width="8.6" height="82.2" fill="#ff1a00"/><rect x="2077" y="2321.8" width="8.6" height="82.2" fill="#ff1a00"/><rect x="2085" y="2321.8" width="8.6" height="82.2" fill="#ff1a00"/><rect x="2093" y="2321.8" width="8.6" height="82.2" fill="#ff1600"/><rect x="2100.9" y="2321.8" width="8.6" height="82.2" fill="#ff1600"/><rect x="2108.9" y="2321.8" width="8.6" height="82.2" fill="#ff1600"/><rect x="2116.9" y="2321.8" width="8.6" height="82.2" fill="#ff1300"/><rect x="2124.8" y="2321.8" width="8.6" height="82.2" fill="#ff1300"/><rect x="2132.8" y="2321.8" width="8.6" height="82.2" fill="#ff1300"/><rect x="2140.8" y="2321.8" width="8.6" height="82.2" fill="#fa0f00"/><rect x="2148.8" y="2321.8" width="8.6" height="82.2" fill="#fa0f00"/><rect x="2156.7" y="2321.8" width="8.6" height="82.2" fill="#fa0f00"/><rect x="2164.7" y="2321.8" width="8.6" height="82.2" fill="#f60b00"/><rect x="2172.7" y="2321.8" width="8.6" height="82.2" fill="#f60b00"/><rect x="2180.6" y="2321.8" width="8.6" height="82.2" fill="#f60b00"/><rect x="2188.6" y="2321.8" width="8.6" height="82.2" fill="#f10800"/><rect x="2196.6" y="2321.8" width="8.6" height="82.2" fill="#f10800"/><rect x="2204.5" y="2321.8" width="8.6" height="82.2" fill="#f10800"/><rect x="2212.5" y="2321.8" width="8.6" height="82.2" fill="#f10800"/><rect x="2220.5" y="2321.8" width="8.6" height="82.2" fill="#ed0400"/><rect x="2228.4" y="2321.8" width="8.6" height="82.2" fill="#ed0400"/><rect x="2236.4" y="2321.8" width="8.6" height="82.2" fill="#ed0400"/><rect x="2244.4" y="2321.8" width="8.6" height="82.2" fill="#e80000"/><rect x="2252.4" y="2321.8" width="8.6" height="82.2" fill="#e80000"/><rect x="2260.3" y="2321.8" width="8.6" height="82.2" fill="#e80000"/><rect x="2268.3" y="2321.8" width="8.6" height="82.2" fill="#e80000"/><rect x="2276.3" y="2321.8" width="8.6" height="82.2" fill="#e40000"/><rect x="2284.2" y="2321.8" width="8.6" height="82.2" fill="#e40000"/><rect x="2292.2" y="2321.8" width="8.6" height="82.2" fill="#e40000"/><rect x="2300.2" y="2321.8" width="8.6" height="82.2" fill="#df0000"/><rect x="2308.1" y="2321.8" width="8.6" height="82.2" fill="#df0000"/><rect x="2316.1" y="2321.8" width="8.6" height="82.2" fill="#df0000"/><rect x="2324.1" y="2321.8" width="8.6" height="82.2" fill="#df0000"/><rect x="2332" y="2321.8" width="8.6" height="82.2" fill="#da0000"/><rect x="2340" y="2321.8" width="8.6" height="82.2" fill="#da0000"/><rect x="2348" y="2321.8" width="8.6" height="82.2" fill="#da0000"/><rect x="2356" y="2321.8" width="8.6" height="82.2" fill="#da0000"/><rect x="2363.9" y="2321.8" width="8.6" height="82.2" fill="#d60000"/><rect x="2371.9" y="2321.8" width="8.6" height="82.2" fill="#d60000"/><rect x="2379.9" y="2321.8" width="8.6" height="82.2" fill="#d60000"/><rect x="2387.8" y="2321.8" width="8.6" height="82.2" fill="#d10000"/><rect x="2395.8" y="2321.8" width="8.6" height="82.2" fill="#d10000"/><rect x="2403.8" y="2321.8" width="8.6" height="82.2" fill="#d10000"/><rect x="2411.7" y="2321.8" width="8.6" height="82.2" fill="#d10000"/><rect x="2419.7" y="2321.8" width="8.6" height="82.2" fill="#cd0000"/><rect x="2427.7" y="2321.8" width="8.6" height="82.2" fill="#cd0000"/><rect x="2435.6" y="2321.8" width="8.6" height="82.2" fill="#cd0000"/><rect x="2443.6" y="2321.8" width="8.6" height="82.2" fill="#cd0000"/><rect x="2451.6" y="2321.8" width="8.6" height="82.2" fill="#c80000"/><rect x="2459.6" y="2321.8" width="8.6" height="82.2" fill="#c80000"/><rect x="2467.5" y="2321.8" width="8.6" height="82.2" fill="#c80000"/><rect x="2475.5" y="2321.8" width="8.6" height="82.2" fill="#c80000"/><rect x="2483.5" y="2321.8" width="8.6" height="82.2" fill="#c80000"/><rect x="2491.4" y="2321.8" width="8.6" height="82.2" fill="#c40000"/><rect x="2499.4" y="2321.8" width="8.6" height="82.2" fill="#c40000"/><rect x="2507.4" y="2321.8" width="8.6" height="82.2" fill="#c40000"/><rect x="2515.3" y="2321.8" width="8.6" height="82.2" fill="#c40000"/><rect x="2523.3" y="2321.8" width="8.6" height="82.2" fill="#bf0000"/><rect x="2531.3" y="2321.8" width="8.6" height="82.2" fill="#bf0000"/><rect x="2539.2" y="2321.8" width="8.6" height="82.2" fill="#bf0000"/><rect x="2547.2" y="2321.8" width="8.6" height="82.2" fill="#bf0000"/><rect x="2555.2" y="2321.8" width="8.6" height="82.2" fill="#bb0000"/><rect x="2563.2" y="2321.8" width="8.6" height="82.2" fill="#bb0000"/><rect x="2571.1" y="2321.8" width="8.6" height="82.2" fill="#bb0000"/><rect x="2579.1" y="2321.8" width="8.6" height="82.2" fill="#bb0000"/><rect x="2587.1" y="2321.8" width="8.6" height="82.2" fill="#bb0000"/><rect x="2595" y="2321.8" width="8.6" height="82.2" fill="#b60000"/><rect x="2603" y="2321.8" width="8.6" height="82.2" fill="#b60000"/><rect x="2611" y="2321.8" width="8.6" height="82.2" fill="#b60000"/><rect x="2618.9" y="2321.8" width="8.6" height="82.2" fill="#b60000"/><rect x="2626.9" y="2321.8" width="8.6" height="82.2" fill="#b20000"/><rect x="2634.9" y="2321.8" width="8.6" height="82.2" fill="#b20000"/><rect x="2642.8" y="2321.8" width="8.6" height="82.2" fill="#b20000"/><rect x="2650.8" y="2321.8" width="8.6" height="82.2" fill="#b20000"/><rect x="2658.8" y="2321.8" width="8.6" height="82.2" fill="#b20000"/><rect x="2666.8" y="2321.8" width="8.6" height="82.2" fill="#ad0000"/><rect x="2674.7" y="2321.8" width="8.6" height="82.2" fill="#ad0000"/><rect x="2682.7" y="2321.8" width="8.6" height="82.2" fill="#ad0000"/><rect x="2690.7" y="2321.8" width="8.6" height="82.2" fill="#ad0000"/><rect x="2698.6" y="2321.8" width="8.6" height="82.2" fill="#ad0000"/><rect x="2706.6" y="2321.8" width="8.6" height="82.2" fill="#a80000"/><rect x="2714.6" y="2321.8" width="8.6" height="82.2" fill="#a80000"/><rect x="2722.5" y="2321.8" width="8.6" height="82.2" fill="#a80000"/><rect x="2730.5" y="2321.8" width="8.6" height="82.2" fill="#a80000"/><rect x="2738.5" y="2321.8" width="8.6" height="82.2" fill="#a80000"/><rect x="2746.4" y="2321.8" width="8.6" height="82.2" fill="#a40000"/><rect x="2754.4" y="2321.8" width="8.6" height="82.2" fill="#a40000"/><rect x="2762.4" y="2321.8" width="8.6" height="82.2" fill="#a40000"/><rect x="2770.4" y="2321.8" width="8.6" height="82.2" fill="#a40000"/><rect x="2778.3" y="2321.8" width="8.6" height="82.2" fill="#a40000"/><rect x="2786.3" y="2321.8" width="8.6" height="82.2" fill="#9f0000"/><rect x="2794.3" y="2321.8" width="8.6" height="82.2" fill="#9f0000"/><rect x="2802.2" y="2321.8" width="8.6" height="82.2" fill="#9f0000"/><rect x="2810.2" y="2321.8" width="8.6" height="82.2" fill="#9f0000"/><rect x="2818.2" y="2321.8" width="8.6" height="82.2" fill="#9f0000"/><rect x="2826.1" y="2321.8" width="8.6" height="82.2" fill="#9b0000"/><rect x="2834.1" y="2321.8" width="8.6" height="82.2" fill="#9b0000"/><rect x="2842.1" y="2321.8" width="8.6" height="82.2" fill="#9b0000"/><rect x="2850" y="2321.8" width="8.6" height="82.2" fill="#9b0000"/><rect x="2858" y="2321.8" width="8.6" height="82.2" fill="#9b0000"/><rect x="2866" y="2321.8" width="8.6" height="82.2" fill="#960000"/><rect x="2873.9" y="2321.8" width="8.6" height="82.2" fill="#960000"/><rect x="2881.9" y="2321.8" width="8.6" height="82.2" fill="#960000"/><rect x="2889.9" y="2321.8" width="8.6" height="82.2" fill="#960000"/><rect x="2897.9" y="2321.8" width="8.6" height="82.2" fill="#960000"/><rect x="2905.8" y="2321.8" width="8.6" height="82.2" fill="#920000"/><rect x="2913.8" y="2321.8" width="8.6" height="82.2" fill="#920000"/><rect x="2921.8" y="2321.8" width="8.6" height="82.2" fill="#920000"/><rect x="2929.7" y="2321.8" width="8.6" height="82.2" fill="#920000"/><rect x="2937.7" y="2321.8" width="8.6" height="82.2" fill="#920000"/><rect x="2945.7" y="2321.8" width="8.6" height="82.2" fill="#920000"/><rect x="2953.6" y="2321.8" width="8.6" height="82.2" fill="#8d0000"/><rect x="2961.6" y="2321.8" width="8.6" height="82.2" fill="#8d0000"/><rect x="2969.6" y="2321.8" width="8.6" height="82.2" fill="#8d0000"/><rect x="2977.5" y="2321.8" width="8.6" height="82.2" fill="#8d0000"/><rect x="2985.5" y="2321.8" width="8.6" height="82.2" fill="#8d0000"/><rect x="2993.5" y="2321.8" width="8.6" height="82.2" fill="#8d0000"/><rect x="3001.5" y="2321.8" width="8.6" height="82.2" fill="#890000"/><rect x="3009.4" y="2321.8" width="8.6" height="82.2" fill="#890000"/><rect x="3017.4" y="2321.8" width="8.6" height="82.2" fill="#890000"/><rect x="3025.4" y="2321.8" width="8.6" height="82.2" fill="#890000"/><rect x="3033.3" y="2321.8" width="8.6" height="82.2" fill="#890000"/><rect x="3041.3" y="2321.8" width="8.6" height="82.2" fill="#840000"/><rect x="3049.3" y="2321.8" width="8.6" height="82.2" fill="#840000"/><rect x="3057.2" y="2321.8" width="8.6" height="82.2" fill="#840000"/><rect x="3065.2" y="2321.8" width="8.6" height="82.2" fill="#840000"/><rect x="3073.2" y="2321.8" width="8.6" height="82.2" fill="#840000"/><rect x="3081.1" y="2321.8" width="8.6" height="82.2" fill="#840000"/><rect x="3089.1" y="2321.8" width="8.6" height="82.2" fill="#800000"/><rect x="3097.1" y="2321.8" width="8.6" height="82.2" fill="#800000"/><rect x="3105.1" y="2321.8" width="8.6" height="82.2" fill="#800000"/><rect x="3113" y="2321.8" width="8.6" height="82.2" fill="#800000"/><rect x="3121" y="2321.8" width="8.6" height="82.2" fill="#800000"/><rect x="3129" y="2321.8" width="8.6" height="82.2" fill="#800000"/><rect x="3136.9" y="2321.8" width="8.6" height="82.2" fill="#800000"/></g>
<rect x="1104.8" y="2321.8" width="2040.1" height="82.2" fill="none" stroke="#000" stroke-width="5.56"/>
<path d="M1104.8 2404.0v24.3M3144.9 2404.0v24.3" stroke="#000" stroke-width="5.56"/>
<g font-family="Liberation Sans, sans-serif" fill="#000">
<text x="2125" y="109.2" font-size="88" text-anchor="middle"><tspan font-style="italic">ℓ</tspan>=1071</text>
<text x="3599" y="2097.6" font-size="98" font-weight="bold">Galactic</text>
<text x="1104" y="2505.5" font-size="73" text-anchor="middle">45.3235</text>
<text x="3145" y="2505.5" font-size="73" text-anchor="middle">21936.4</text>
<text x="2125" y="2513" font-size="101" text-anchor="middle"><tspan font-style="italic">δT</tspan><tspan font-style="italic" font-size="70" dy="14">b</tspan><tspan dy="-14">(K)</tspan></text>
</g>

</svg></body></html>
